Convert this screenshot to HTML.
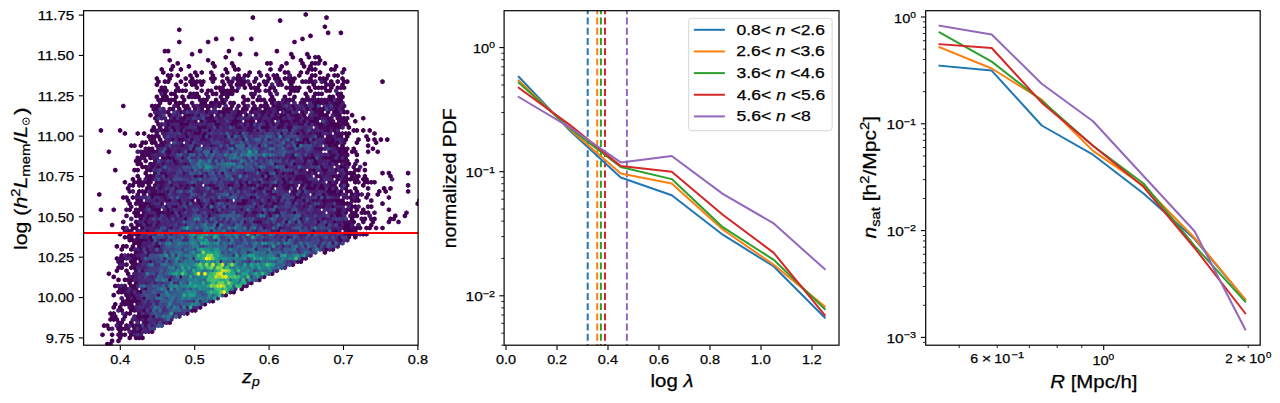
<!DOCTYPE html>
<html><head><meta charset="utf-8"><title>fig</title>
<style>html,body{margin:0;padding:0;background:#fff;width:1280px;height:403px;overflow:hidden}
svg{display:block} text{font-family:"Liberation Sans",sans-serif;fill:#000;stroke:#000;stroke-width:0.25px}</style></head>
<body><svg width="1280" height="403" viewBox="0 0 1280 403" font-family="Liberation Sans">
<rect width="1280" height="403" fill="#fff"/>
<clipPath id="c1"><rect x="83.6" y="10.7" width="334.5" height="334.5"/></clipPath>
<g clip-path="url(#c1)">
<defs>
<path id="h0" d="M0 152l1-1v-2l-1-1-1 1v2zM2 14l1-1v-2l-1-1-1 1v2zM6 20l1-1v-2l-1-1-1 1v2zM6 74l1-1v-2l-1-1-1 1v2zM6 194l1-1v-2l-1-1-1 1v2zM8 8l1-1v-2l-1-1-1 1v2zM8 14l1-1v-2l-1-1-1 1v2zM8 122l1-1v-2l-1-1-1 1v2zM10 32l1-1v-2l-1-1-1 1v2zM10 44l1-1v-2l-1-1-1 1v2zM10 62l1-1v-2l-1-1-1 1v2zM10 176l1-1v-2l-1-1-1 1v2zM12 8l1-1v-2l-1-1-1 1v2zM12 20l1-1v-2l-1-1-1 1v2zM12 56l1-1v-2l-1-1-1 1v2zM12 68l1-1v-2l-1-1-1 1v2zM12 80l1-1v-2l-1-1-1 1v2zM14 14l1-1v-2l-1-1-1 1v2zM14 20l1-1v-2l-1-1-1 1v2zM14 38l1-1v-2l-1-1-1 1v2zM14 56l1-1v-2l-1-1-1 1v2zM14 80l1-1v-2l-1-1-1 1v2zM14 86l1-1v-2l-1-1-1 1v2zM14 92l1-1v-2l-1-1-1 1v2zM14 98l1-1v-2l-1-1-1 1v2zM16 14l1-1v-2l-1-1-1 1v2zM16 32l1-1v-2l-1-1-1 1v2zM16 44l1-1v-2l-1-1-1 1v2zM16 68l1-1v-2l-1-1-1 1v2zM16 110l1-1v-2l-1-1-1 1v2zM16 164l1-1v-2l-1-1-1 1v2zM16 212l1-1v-2l-1-1-1 1v2zM18 50l1-1v-2l-1-1-1 1v2zM18 74l1-1v-2l-1-1-1 1v2zM18 110l1-1v-2l-1-1-1 1v2zM18 116l1-1v-2l-1-1-1 1v2zM18 146l1-1v-2l-1-1-1 1v2zM18 158l1-1v-2l-1-1-1 1v2zM20 14l1-1v-2l-1-1-1 1v2zM20 26l1-1v-2l-1-1-1 1v2zM20 38l1-1v-2l-1-1-1 1v2zM20 44l1-1v-2l-1-1-1 1v2zM20 62l1-1v-2l-1-1-1 1v2zM20 68l1-1v-2l-1-1-1 1v2zM20 80l1-1v-2l-1-1-1 1v2zM20 86l1-1v-2l-1-1-1 1v2zM20 92l1-1v-2l-1-1-1 1v2zM20 98l1-1v-2l-1-1-1 1v2zM20 110l1-1v-2l-1-1-1 1v2zM20 200l1-1v-2l-1-1-1 1v2zM22 50l1-1v-2l-1-1-1 1v2zM22 62l1-1v-2l-1-1-1 1v2zM22 80l1-1v-2l-1-1-1 1v2zM22 86l1-1v-2l-1-1-1 1v2zM22 104l1-1v-2l-1-1-1 1v2zM22 134l1-1v-2l-1-1-1 1v2zM22 164l1-1v-2l-1-1-1 1v2zM22 176l1-1v-2l-1-1-1 1v2zM22 200l1-1v-2l-1-1-1 1v2zM24 32l1-1v-2l-1-1-1 1v2zM24 104l1-1v-2l-1-1-1 1v2zM24 122l1-1v-2l-1-1-1 1v2zM24 134l1-1v-2l-1-1-1 1v2zM24 146l1-1v-2l-1-1-1 1v2zM24 164l1-1v-2l-1-1-1 1v2zM24 170l1-1v-2l-1-1-1 1v2zM24 176l1-1v-2l-1-1-1 1v2zM24 182l1-1v-2l-1-1-1 1v2zM24 188l1-1v-2l-1-1-1 1v2zM24 212l1-1v-2l-1-1-1 1v2zM26 20l1-1v-2l-1-1-1 1v2zM26 32l1-1v-2l-1-1-1 1v2zM26 56l1-1v-2l-1-1-1 1v2zM26 86l1-1v-2l-1-1-1 1v2zM26 104l1-1v-2l-1-1-1 1v2zM26 128l1-1v-2l-1-1-1 1v2zM26 140l1-1v-2l-1-1-1 1v2zM26 146l1-1v-2l-1-1-1 1v2zM26 164l1-1v-2l-1-1-1 1v2zM26 182l1-1v-2l-1-1-1 1v2zM26 200l1-1v-2l-1-1-1 1v2zM28 32l1-1v-2l-1-1-1 1v2zM28 38l1-1v-2l-1-1-1 1v2zM28 50l1-1v-2l-1-1-1 1v2zM28 140l1-1v-2l-1-1-1 1v2zM28 212l1-1v-2l-1-1-1 1v2zM30 32l1-1v-2l-1-1-1 1v2zM30 122l1-1v-2l-1-1-1 1v2zM30 158l1-1v-2l-1-1-1 1v2zM30 164l1-1v-2l-1-1-1 1v2zM32 110l1-1v-2l-1-1-1 1v2zM32 170l1-1v-2l-1-1-1 1v2zM32 176l1-1v-2l-1-1-1 1v2zM32 182l1-1v-2l-1-1-1 1v2zM32 188l1-1v-2l-1-1-1 1v2zM32 194l1-1v-2l-1-1-1 1v2zM32 230l1-1v-2l-1-1-1 1v2zM34 152l1-1v-2l-1-1-1 1v2zM34 194l1-1v-2l-1-1-1 1v2zM34 218l1-1v-2l-1-1-1 1v2zM34 236l1-1v-2l-1-1-1 1v2zM36 230l1-1v-2l-1-1-1 1v2zM36 236l1-1v-2l-1-1-1 1v2zM36 248l1-1v-2l-1-1-1 1v2zM36 260l1-1v-2l-1-1-1 1v2zM36 266l1-1v-2l-1-1-1 1v2zM38 134l1-1v-2l-1-1-1 1v2zM38 152l1-1v-2l-1-1-1 1v2zM38 158l1-1v-2l-1-1-1 1v2zM38 206l1-1v-2l-1-1-1 1v2zM38 254l1-1v-2l-1-1-1 1v2zM40 152l1-1v-2l-1-1-1 1v2zM40 188l1-1v-2l-1-1-1 1v2zM40 248l1-1v-2l-1-1-1 1v2zM40 254l1-1v-2l-1-1-1 1v2zM40 272l1-1v-2l-1-1-1 1v2zM42 170l1-1v-2l-1-1-1 1v2zM42 248l1-1v-2l-1-1-1 1v2zM42 254l1-1v-2l-1-1-1 1v2zM44 68l1-1v-2l-1-1-1 1v2zM44 146l1-1v-2l-1-1-1 1v2zM44 188l1-1v-2l-1-1-1 1v2zM44 194l1-1v-2l-1-1-1 1v2zM44 230l1-1v-2l-1-1-1 1v2zM44 242l1-1v-2l-1-1-1 1v2zM44 266l1-1v-2l-1-1-1 1v2zM44 284l1-1v-2l-1-1-1 1v2zM46 134l1-1v-2l-1-1-1 1v2zM46 218l1-1v-2l-1-1-1 1v2zM46 236l1-1v-2l-1-1-1 1v2zM46 278l1-1v-2l-1-1-1 1v2zM48 140l1-1v-2l-1-1-1 1v2zM48 242l1-1v-2l-1-1-1 1v2zM48 248l1-1v-2l-1-1-1 1v2zM48 254l1-1v-2l-1-1-1 1v2zM48 260l1-1v-2l-1-1-1 1v2zM50 146l1-1v-2l-1-1-1 1v2zM50 206l1-1v-2l-1-1-1 1v2zM50 242l1-1v-2l-1-1-1 1v2zM50 254l1-1v-2l-1-1-1 1v2zM50 302l1-1v-2l-1-1-1 1v2zM50 314l1-1v-2l-1-1-1 1v2zM52 242l1-1v-2l-1-1-1 1v2zM52 248l1-1v-2l-1-1-1 1v2zM52 254l1-1v-2l-1-1-1 1v2zM54 128l1-1v-2l-1-1-1 1v2zM54 236l1-1v-2l-1-1-1 1v2zM54 260l1-1v-2l-1-1-1 1v2zM56 194l1-1v-2l-1-1-1 1v2zM56 230l1-1v-2l-1-1-1 1v2zM56 248l1-1v-2l-1-1-1 1v2zM56 278l1-1v-2l-1-1-1 1v2zM58 38l1-1v-2l-1-1-1 1v2zM58 146l1-1v-2l-1-1-1 1v2zM58 260l1-1v-2l-1-1-1 1v2zM58 266l1-1v-2l-1-1-1 1v2zM58 290l1-1v-2l-1-1-1 1v2zM60 38l1-1v-2l-1-1-1 1v2zM60 170l1-1v-2l-1-1-1 1v2zM60 212l1-1v-2l-1-1-1 1v2zM60 248l1-1v-2l-1-1-1 1v2zM60 260l1-1v-2l-1-1-1 1v2zM60 272l1-1v-2l-1-1-1 1v2zM62 146l1-1v-2l-1-1-1 1v2zM62 212l1-1v-2l-1-1-1 1v2zM62 218l1-1v-2l-1-1-1 1v2zM62 248l1-1v-2l-1-1-1 1v2zM64 170l1-1v-2l-1-1-1 1v2zM64 224l1-1v-2l-1-1-1 1v2zM64 242l1-1v-2l-1-1-1 1v2zM64 260l1-1v-2l-1-1-1 1v2zM64 272l1-1v-2l-1-1-1 1v2zM66 44l1-1v-2l-1-1-1 1v2zM66 212l1-1v-2l-1-1-1 1v2zM66 218l1-1v-2l-1-1-1 1v2zM66 242l1-1v-2l-1-1-1 1v2zM68 254l1-1v-2l-1-1-1 1v2zM68 284l1-1v-2l-1-1-1 1v2zM68 302l1-1v-2l-1-1-1 1v2zM70 230l1-1v-2l-1-1-1 1v2zM70 242l1-1v-2l-1-1-1 1v2zM70 266l1-1v-2l-1-1-1 1v2zM72 224l1-1v-2l-1-1-1 1v2zM72 266l1-1v-2l-1-1-1 1v2zM72 278l1-1v-2l-1-1-1 1v2zM74 122l1-1v-2l-1-1-1 1v2zM76 254l1-1v-2l-1-1-1 1v2zM78 230l1-1v-2l-1-1-1 1v2zM78 242l1-1v-2l-1-1-1 1v2zM78 254l1-1v-2l-1-1-1 1v2zM78 260l1-1v-2l-1-1-1 1v2zM80 146l1-1v-2l-1-1-1 1v2zM80 236l1-1v-2l-1-1-1 1v2zM80 248l1-1v-2l-1-1-1 1v2zM80 254l1-1v-2l-1-1-1 1v2zM80 266l1-1v-2l-1-1-1 1v2zM80 272l1-1v-2l-1-1-1 1v2zM82 236l1-1v-2l-1-1-1 1v2zM82 254l1-1v-2l-1-1-1 1v2zM84 56l1-1v-2l-1-1-1 1v2zM84 224l1-1v-2l-1-1-1 1v2zM84 242l1-1v-2l-1-1-1 1v2zM84 254l1-1v-2l-1-1-1 1v2zM84 278l1-1v-2l-1-1-1 1v2zM86 224l1-1v-2l-1-1-1 1v2zM86 230l1-1v-2l-1-1-1 1v2zM86 254l1-1v-2l-1-1-1 1v2zM86 260l1-1v-2l-1-1-1 1v2zM86 266l1-1v-2l-1-1-1 1v2zM88 218l1-1v-2l-1-1-1 1v2zM88 260l1-1v-2l-1-1-1 1v2zM88 266l1-1v-2l-1-1-1 1v2zM88 290l1-1v-2l-1-1-1 1v2zM90 146l1-1v-2l-1-1-1 1v2zM90 236l1-1v-2l-1-1-1 1v2zM90 248l1-1v-2l-1-1-1 1v2zM90 260l1-1v-2l-1-1-1 1v2zM92 230l1-1v-2l-1-1-1 1v2zM94 224l1-1v-2l-1-1-1 1v2zM94 260l1-1v-2l-1-1-1 1v2zM94 272l1-1v-2l-1-1-1 1v2zM96 224l1-1v-2l-1-1-1 1v2zM96 236l1-1v-2l-1-1-1 1v2zM96 242l1-1v-2l-1-1-1 1v2zM96 248l1-1v-2l-1-1-1 1v2zM96 326l1-1v-2l-1-1-1 1v2zM98 236l1-1v-2l-1-1-1 1v2zM98 254l1-1v-2l-1-1-1 1v2zM98 290l1-1v-2l-1-1-1 1v2zM100 68l1-1v-2l-1-1-1 1v2zM100 158l1-1v-2l-1-1-1 1v2zM100 176l1-1v-2l-1-1-1 1v2zM100 260l1-1v-2l-1-1-1 1v2zM100 272l1-1v-2l-1-1-1 1v2zM102 170l1-1v-2l-1-1-1 1v2zM102 218l1-1v-2l-1-1-1 1v2zM104 218l1-1v-2l-1-1-1 1v2zM104 236l1-1v-2l-1-1-1 1v2zM104 242l1-1v-2l-1-1-1 1v2zM104 260l1-1v-2l-1-1-1 1v2zM106 146l1-1v-2l-1-1-1 1v2zM106 170l1-1v-2l-1-1-1 1v2zM106 254l1-1v-2l-1-1-1 1v2zM106 266l1-1v-2l-1-1-1 1v2zM108 74l1-1v-2l-1-1-1 1v2zM108 242l1-1v-2l-1-1-1 1v2zM108 248l1-1v-2l-1-1-1 1v2zM112 218l1-1v-2l-1-1-1 1v2zM112 236l1-1v-2l-1-1-1 1v2zM112 266l1-1v-2l-1-1-1 1v2zM114 224l1-1v-2l-1-1-1 1v2zM114 230l1-1v-2l-1-1-1 1v2zM114 278l1-1v-2l-1-1-1 1v2zM116 164l1-1v-2l-1-1-1 1v2zM116 248l1-1v-2l-1-1-1 1v2zM116 266l1-1v-2l-1-1-1 1v2zM116 272l1-1v-2l-1-1-1 1v2zM118 158l1-1v-2l-1-1-1 1v2zM118 218l1-1v-2l-1-1-1 1v2zM118 224l1-1v-2l-1-1-1 1v2zM118 272l1-1v-2l-1-1-1 1v2zM120 254l1-1v-2l-1-1-1 1v2zM120 260l1-1v-2l-1-1-1 1v2zM120 266l1-1v-2l-1-1-1 1v2zM120 290l1-1v-2l-1-1-1 1v2zM122 134l1-1v-2l-1-1-1 1v2zM122 182l1-1v-2l-1-1-1 1v2zM122 224l1-1v-2l-1-1-1 1v2zM122 236l1-1v-2l-1-1-1 1v2zM122 248l1-1v-2l-1-1-1 1v2zM122 254l1-1v-2l-1-1-1 1v2zM122 266l1-1v-2l-1-1-1 1v2zM122 302l1-1v-2l-1-1-1 1v2zM124 200l1-1v-2l-1-1-1 1v2zM124 212l1-1v-2l-1-1-1 1v2zM124 230l1-1v-2l-1-1-1 1v2zM124 254l1-1v-2l-1-1-1 1v2zM126 86l1-1v-2l-1-1-1 1v2zM126 128l1-1v-2l-1-1-1 1v2zM126 272l1-1v-2l-1-1-1 1v2zM126 284l1-1v-2l-1-1-1 1v2zM128 146l1-1v-2l-1-1-1 1v2zM128 206l1-1v-2l-1-1-1 1v2zM128 224l1-1v-2l-1-1-1 1v2zM128 230l1-1v-2l-1-1-1 1v2zM128 278l1-1v-2l-1-1-1 1v2zM130 158l1-1v-2l-1-1-1 1v2zM130 164l1-1v-2l-1-1-1 1v2zM130 206l1-1v-2l-1-1-1 1v2zM130 236l1-1v-2l-1-1-1 1v2zM130 272l1-1v-2l-1-1-1 1v2zM130 290l1-1v-2l-1-1-1 1v2zM132 158l1-1v-2l-1-1-1 1v2zM132 224l1-1v-2l-1-1-1 1v2zM132 254l1-1v-2l-1-1-1 1v2zM132 266l1-1v-2l-1-1-1 1v2zM132 278l1-1v-2l-1-1-1 1v2zM132 308l1-1v-2l-1-1-1 1v2zM134 158l1-1v-2l-1-1-1 1v2zM134 176l1-1v-2l-1-1-1 1v2zM134 188l1-1v-2l-1-1-1 1v2zM134 224l1-1v-2l-1-1-1 1v2zM134 236l1-1v-2l-1-1-1 1v2zM134 260l1-1v-2l-1-1-1 1v2zM136 140l1-1v-2l-1-1-1 1v2zM136 182l1-1v-2l-1-1-1 1v2zM136 242l1-1v-2l-1-1-1 1v2zM138 158l1-1v-2l-1-1-1 1v2zM138 212l1-1v-2l-1-1-1 1v2zM138 218l1-1v-2l-1-1-1 1v2zM138 230l1-1v-2l-1-1-1 1v2zM138 236l1-1v-2l-1-1-1 1v2zM138 242l1-1v-2l-1-1-1 1v2zM138 266l1-1v-2l-1-1-1 1v2zM138 272l1-1v-2l-1-1-1 1v2zM138 284l1-1v-2l-1-1-1 1v2zM140 146l1-1v-2l-1-1-1 1v2zM140 152l1-1v-2l-1-1-1 1v2zM140 158l1-1v-2l-1-1-1 1v2zM140 176l1-1v-2l-1-1-1 1v2zM140 230l1-1v-2l-1-1-1 1v2zM140 236l1-1v-2l-1-1-1 1v2zM140 266l1-1v-2l-1-1-1 1v2zM142 98l1-1v-2l-1-1-1 1v2zM142 188l1-1v-2l-1-1-1 1v2zM142 230l1-1v-2l-1-1-1 1v2zM142 242l1-1v-2l-1-1-1 1v2zM142 254l1-1v-2l-1-1-1 1v2zM142 266l1-1v-2l-1-1-1 1v2zM142 326l1-1v-2l-1-1-1 1v2zM144 158l1-1v-2l-1-1-1 1v2zM144 164l1-1v-2l-1-1-1 1v2zM144 188l1-1v-2l-1-1-1 1v2zM144 200l1-1v-2l-1-1-1 1v2zM144 248l1-1v-2l-1-1-1 1v2zM144 254l1-1v-2l-1-1-1 1v2zM146 98l1-1v-2l-1-1-1 1v2zM146 140l1-1v-2l-1-1-1 1v2zM146 170l1-1v-2l-1-1-1 1v2zM146 206l1-1v-2l-1-1-1 1v2zM146 248l1-1v-2l-1-1-1 1v2zM146 260l1-1v-2l-1-1-1 1v2zM148 116l1-1v-2l-1-1-1 1v2zM148 146l1-1v-2l-1-1-1 1v2zM148 200l1-1v-2l-1-1-1 1v2zM148 218l1-1v-2l-1-1-1 1v2zM148 236l1-1v-2l-1-1-1 1v2zM148 242l1-1v-2l-1-1-1 1v2zM148 278l1-1v-2l-1-1-1 1v2zM150 134l1-1v-2l-1-1-1 1v2zM150 146l1-1v-2l-1-1-1 1v2zM150 152l1-1v-2l-1-1-1 1v2zM150 170l1-1v-2l-1-1-1 1v2zM150 194l1-1v-2l-1-1-1 1v2zM150 218l1-1v-2l-1-1-1 1v2zM150 230l1-1v-2l-1-1-1 1v2zM150 242l1-1v-2l-1-1-1 1v2zM152 146l1-1v-2l-1-1-1 1v2zM152 164l1-1v-2l-1-1-1 1v2zM152 200l1-1v-2l-1-1-1 1v2zM152 248l1-1v-2l-1-1-1 1v2zM152 260l1-1v-2l-1-1-1 1v2zM152 266l1-1v-2l-1-1-1 1v2zM154 122l1-1v-2l-1-1-1 1v2zM154 158l1-1v-2l-1-1-1 1v2zM154 164l1-1v-2l-1-1-1 1v2zM154 176l1-1v-2l-1-1-1 1v2zM154 194l1-1v-2l-1-1-1 1v2zM154 206l1-1v-2l-1-1-1 1v2zM154 212l1-1v-2l-1-1-1 1v2zM154 224l1-1v-2l-1-1-1 1v2zM156 116l1-1v-2l-1-1-1 1v2zM156 122l1-1v-2l-1-1-1 1v2zM156 182l1-1v-2l-1-1-1 1v2zM156 212l1-1v-2l-1-1-1 1v2zM156 218l1-1v-2l-1-1-1 1v2zM158 116l1-1v-2l-1-1-1 1v2zM158 128l1-1v-2l-1-1-1 1v2zM158 140l1-1v-2l-1-1-1 1v2zM158 152l1-1v-2l-1-1-1 1v2zM158 170l1-1v-2l-1-1-1 1v2zM158 194l1-1v-2l-1-1-1 1v2zM158 230l1-1v-2l-1-1-1 1v2zM160 110l1-1v-2l-1-1-1 1v2zM160 116l1-1v-2l-1-1-1 1v2zM160 134l1-1v-2l-1-1-1 1v2zM160 140l1-1v-2l-1-1-1 1v2zM160 146l1-1v-2l-1-1-1 1v2zM160 158l1-1v-2l-1-1-1 1v2zM160 164l1-1v-2l-1-1-1 1v2zM160 224l1-1v-2l-1-1-1 1v2zM162 146l1-1v-2l-1-1-1 1v2zM162 170l1-1v-2l-1-1-1 1v2zM162 176l1-1v-2l-1-1-1 1v2zM162 206l1-1v-2l-1-1-1 1v2zM166 128l1-1v-2l-1-1-1 1v2zM166 134l1-1v-2l-1-1-1 1v2zM166 164l1-1v-2l-1-1-1 1v2zM166 170l1-1v-2l-1-1-1 1v2zM166 176l1-1v-2l-1-1-1 1v2zM166 182l1-1v-2l-1-1-1 1v2zM168 134l1-1v-2l-1-1-1 1v2zM168 164l1-1v-2l-1-1-1 1v2zM168 194l1-1v-2l-1-1-1 1v2zM168 200l1-1v-2l-1-1-1 1v2zM168 206l1-1v-2l-1-1-1 1v2zM170 122l1-1v-2l-1-1-1 1v2zM170 140l1-1v-2l-1-1-1 1v2zM170 164l1-1v-2l-1-1-1 1v2zM172 128l1-1v-2l-1-1-1 1v2zM172 164l1-1v-2l-1-1-1 1v2zM172 206l1-1v-2l-1-1-1 1v2zM172 212l1-1v-2l-1-1-1 1v2zM174 152l1-1v-2l-1-1-1 1v2zM174 194l1-1v-2l-1-1-1 1v2zM176 206l1-1v-2l-1-1-1 1v2zM178 158l1-1v-2l-1-1-1 1v2zM180 206l1-1v-2l-1-1-1 1v2zM182 128l1-1v-2l-1-1-1 1v2zM182 158l1-1v-2l-1-1-1 1v2zM182 170l1-1v-2l-1-1-1 1v2zM184 128l1-1v-2l-1-1-1 1v2zM192 134l1-1v-2l-1-1-1 1v2zM200 146l1-1v-2l-1-1-1 1v2zM1 137l1-1v-2l-1-1-1 1v2zM1 215l1-1v-2l-1-1-1 1v2zM3 23l1-1v-2l-1-1-1 1v2zM5 5l1-1v-2l-1-1-1 1v2zM5 23l1-1v-2l-1-1-1 1v2zM7 5l1-1v-2l-1-1-1 1v2zM7 29l1-1v-2l-1-1-1 1v2zM7 35l1-1v-2l-1-1-1 1v2zM9 29l1-1v-2l-1-1-1 1v2zM9 35l1-1v-2l-1-1-1 1v2zM9 41l1-1v-2l-1-1-1 1v2zM9 53l1-1v-2l-1-1-1 1v2zM9 71l1-1v-2l-1-1-1 1v2zM9 137l1-1v-2l-1-1-1 1v2zM11 29l1-1v-2l-1-1-1 1v2zM11 77l1-1v-2l-1-1-1 1v2zM11 89l1-1v-2l-1-1-1 1v2zM11 101l1-1v-2l-1-1-1 1v2zM13 11l1-1v-2l-1-1-1 1v2zM13 17l1-1v-2l-1-1-1 1v2zM13 23l1-1v-2l-1-1-1 1v2zM13 41l1-1v-2l-1-1-1 1v2zM13 113l1-1v-2l-1-1-1 1v2zM13 215l1-1v-2l-1-1-1 1v2zM15 47l1-1v-2l-1-1-1 1v2zM15 59l1-1v-2l-1-1-1 1v2zM15 101l1-1v-2l-1-1-1 1v2zM15 119l1-1v-2l-1-1-1 1v2zM15 149l1-1v-2l-1-1-1 1v2zM15 239l1-1v-2l-1-1-1 1v2zM17 23l1-1v-2l-1-1-1 1v2zM17 35l1-1v-2l-1-1-1 1v2zM17 47l1-1v-2l-1-1-1 1v2zM17 53l1-1v-2l-1-1-1 1v2zM17 77l1-1v-2l-1-1-1 1v2zM17 101l1-1v-2l-1-1-1 1v2zM17 149l1-1v-2l-1-1-1 1v2zM19 11l1-1v-2l-1-1-1 1v2zM19 35l1-1v-2l-1-1-1 1v2zM19 47l1-1v-2l-1-1-1 1v2zM19 65l1-1v-2l-1-1-1 1v2zM19 107l1-1v-2l-1-1-1 1v2zM19 113l1-1v-2l-1-1-1 1v2zM19 137l1-1v-2l-1-1-1 1v2zM19 143l1-1v-2l-1-1-1 1v2zM19 155l1-1v-2l-1-1-1 1v2zM21 23l1-1v-2l-1-1-1 1v2zM21 41l1-1v-2l-1-1-1 1v2zM21 47l1-1v-2l-1-1-1 1v2zM21 53l1-1v-2l-1-1-1 1v2zM21 89l1-1v-2l-1-1-1 1v2zM21 101l1-1v-2l-1-1-1 1v2zM21 107l1-1v-2l-1-1-1 1v2zM21 119l1-1v-2l-1-1-1 1v2zM21 149l1-1v-2l-1-1-1 1v2zM21 161l1-1v-2l-1-1-1 1v2zM21 167l1-1v-2l-1-1-1 1v2zM23 11l1-1v-2l-1-1-1 1v2zM23 47l1-1v-2l-1-1-1 1v2zM23 65l1-1v-2l-1-1-1 1v2zM23 89l1-1v-2l-1-1-1 1v2zM23 95l1-1v-2l-1-1-1 1v2zM23 119l1-1v-2l-1-1-1 1v2zM23 131l1-1v-2l-1-1-1 1v2zM23 185l1-1v-2l-1-1-1 1v2zM25 11l1-1v-2l-1-1-1 1v2zM25 17l1-1v-2l-1-1-1 1v2zM25 101l1-1v-2l-1-1-1 1v2zM25 107l1-1v-2l-1-1-1 1v2zM25 113l1-1v-2l-1-1-1 1v2zM25 155l1-1v-2l-1-1-1 1v2zM25 185l1-1v-2l-1-1-1 1v2zM27 11l1-1v-2l-1-1-1 1v2zM27 107l1-1v-2l-1-1-1 1v2zM27 119l1-1v-2l-1-1-1 1v2zM27 131l1-1v-2l-1-1-1 1v2zM27 161l1-1v-2l-1-1-1 1v2zM27 179l1-1v-2l-1-1-1 1v2zM27 191l1-1v-2l-1-1-1 1v2zM27 203l1-1v-2l-1-1-1 1v2zM29 125l1-1v-2l-1-1-1 1v2zM29 143l1-1v-2l-1-1-1 1v2zM29 155l1-1v-2l-1-1-1 1v2zM29 173l1-1v-2l-1-1-1 1v2zM29 179l1-1v-2l-1-1-1 1v2zM29 203l1-1v-2l-1-1-1 1v2zM31 131l1-1v-2l-1-1-1 1v2zM31 167l1-1v-2l-1-1-1 1v2zM31 191l1-1v-2l-1-1-1 1v2zM31 197l1-1v-2l-1-1-1 1v2zM31 209l1-1v-2l-1-1-1 1v2zM33 17l1-1v-2l-1-1-1 1v2zM33 107l1-1v-2l-1-1-1 1v2zM33 149l1-1v-2l-1-1-1 1v2zM33 179l1-1v-2l-1-1-1 1v2zM33 203l1-1v-2l-1-1-1 1v2zM33 209l1-1v-2l-1-1-1 1v2zM33 215l1-1v-2l-1-1-1 1v2zM33 239l1-1v-2l-1-1-1 1v2zM35 137l1-1v-2l-1-1-1 1v2zM35 203l1-1v-2l-1-1-1 1v2zM35 209l1-1v-2l-1-1-1 1v2zM35 215l1-1v-2l-1-1-1 1v2zM35 239l1-1v-2l-1-1-1 1v2zM37 101l1-1v-2l-1-1-1 1v2zM37 137l1-1v-2l-1-1-1 1v2zM37 179l1-1v-2l-1-1-1 1v2zM37 209l1-1v-2l-1-1-1 1v2zM37 239l1-1v-2l-1-1-1 1v2zM37 263l1-1v-2l-1-1-1 1v2zM39 203l1-1v-2l-1-1-1 1v2zM39 245l1-1v-2l-1-1-1 1v2zM39 257l1-1v-2l-1-1-1 1v2zM39 275l1-1v-2l-1-1-1 1v2zM41 215l1-1v-2l-1-1-1 1v2zM41 245l1-1v-2l-1-1-1 1v2zM41 251l1-1v-2l-1-1-1 1v2zM41 263l1-1v-2l-1-1-1 1v2zM41 293l1-1v-2l-1-1-1 1v2zM43 131l1-1v-2l-1-1-1 1v2zM43 137l1-1v-2l-1-1-1 1v2zM43 221l1-1v-2l-1-1-1 1v2zM43 245l1-1v-2l-1-1-1 1v2zM43 263l1-1v-2l-1-1-1 1v2zM43 269l1-1v-2l-1-1-1 1v2zM43 293l1-1v-2l-1-1-1 1v2zM45 245l1-1v-2l-1-1-1 1v2zM45 251l1-1v-2l-1-1-1 1v2zM45 275l1-1v-2l-1-1-1 1v2zM47 185l1-1v-2l-1-1-1 1v2zM47 215l1-1v-2l-1-1-1 1v2zM47 245l1-1v-2l-1-1-1 1v2zM47 251l1-1v-2l-1-1-1 1v2zM49 269l1-1v-2l-1-1-1 1v2zM49 281l1-1v-2l-1-1-1 1v2zM51 215l1-1v-2l-1-1-1 1v2zM51 221l1-1v-2l-1-1-1 1v2zM51 263l1-1v-2l-1-1-1 1v2zM51 275l1-1v-2l-1-1-1 1v2zM53 221l1-1v-2l-1-1-1 1v2zM53 227l1-1v-2l-1-1-1 1v2zM53 239l1-1v-2l-1-1-1 1v2zM53 245l1-1v-2l-1-1-1 1v2zM55 35l1-1v-2l-1-1-1 1v2zM55 209l1-1v-2l-1-1-1 1v2zM55 221l1-1v-2l-1-1-1 1v2zM55 239l1-1v-2l-1-1-1 1v2zM57 251l1-1v-2l-1-1-1 1v2zM57 263l1-1v-2l-1-1-1 1v2zM57 269l1-1v-2l-1-1-1 1v2zM59 161l1-1v-2l-1-1-1 1v2zM59 263l1-1v-2l-1-1-1 1v2zM61 251l1-1v-2l-1-1-1 1v2zM61 263l1-1v-2l-1-1-1 1v2zM61 269l1-1v-2l-1-1-1 1v2zM63 41l1-1v-2l-1-1-1 1v2zM63 143l1-1v-2l-1-1-1 1v2zM63 215l1-1v-2l-1-1-1 1v2zM63 263l1-1v-2l-1-1-1 1v2zM63 293l1-1v-2l-1-1-1 1v2zM65 209l1-1v-2l-1-1-1 1v2zM65 245l1-1v-2l-1-1-1 1v2zM65 263l1-1v-2l-1-1-1 1v2zM67 233l1-1v-2l-1-1-1 1v2zM67 245l1-1v-2l-1-1-1 1v2zM69 131l1-1v-2l-1-1-1 1v2zM69 209l1-1v-2l-1-1-1 1v2zM69 215l1-1v-2l-1-1-1 1v2zM69 227l1-1v-2l-1-1-1 1v2zM71 47l1-1v-2l-1-1-1 1v2zM71 143l1-1v-2l-1-1-1 1v2zM71 251l1-1v-2l-1-1-1 1v2zM71 269l1-1v-2l-1-1-1 1v2zM71 281l1-1v-2l-1-1-1 1v2zM73 221l1-1v-2l-1-1-1 1v2zM73 245l1-1v-2l-1-1-1 1v2zM73 251l1-1v-2l-1-1-1 1v2zM73 257l1-1v-2l-1-1-1 1v2zM73 305l1-1v-2l-1-1-1 1v2zM75 233l1-1v-2l-1-1-1 1v2zM75 239l1-1v-2l-1-1-1 1v2zM75 257l1-1v-2l-1-1-1 1v2zM77 233l1-1v-2l-1-1-1 1v2zM77 245l1-1v-2l-1-1-1 1v2zM77 251l1-1v-2l-1-1-1 1v2zM77 263l1-1v-2l-1-1-1 1v2zM77 269l1-1v-2l-1-1-1 1v2zM79 53l1-1v-2l-1-1-1 1v2zM79 275l1-1v-2l-1-1-1 1v2zM79 287l1-1v-2l-1-1-1 1v2zM81 161l1-1v-2l-1-1-1 1v2zM81 251l1-1v-2l-1-1-1 1v2zM81 263l1-1v-2l-1-1-1 1v2zM81 293l1-1v-2l-1-1-1 1v2zM83 221l1-1v-2l-1-1-1 1v2zM83 251l1-1v-2l-1-1-1 1v2zM83 257l1-1v-2l-1-1-1 1v2zM83 281l1-1v-2l-1-1-1 1v2zM83 305l1-1v-2l-1-1-1 1v2zM85 275l1-1v-2l-1-1-1 1v2zM87 143l1-1v-2l-1-1-1 1v2zM87 233l1-1v-2l-1-1-1 1v2zM87 269l1-1v-2l-1-1-1 1v2zM87 275l1-1v-2l-1-1-1 1v2zM89 59l1-1v-2l-1-1-1 1v2zM89 143l1-1v-2l-1-1-1 1v2zM89 161l1-1v-2l-1-1-1 1v2zM89 263l1-1v-2l-1-1-1 1v2zM91 143l1-1v-2l-1-1-1 1v2zM91 239l1-1v-2l-1-1-1 1v2zM91 245l1-1v-2l-1-1-1 1v2zM91 257l1-1v-2l-1-1-1 1v2zM91 263l1-1v-2l-1-1-1 1v2zM91 269l1-1v-2l-1-1-1 1v2zM93 245l1-1v-2l-1-1-1 1v2zM93 269l1-1v-2l-1-1-1 1v2zM95 65l1-1v-2l-1-1-1 1v2zM95 149l1-1v-2l-1-1-1 1v2zM95 161l1-1v-2l-1-1-1 1v2zM95 221l1-1v-2l-1-1-1 1v2zM95 257l1-1v-2l-1-1-1 1v2zM95 305l1-1v-2l-1-1-1 1v2zM97 257l1-1v-2l-1-1-1 1v2zM97 263l1-1v-2l-1-1-1 1v2zM99 125l1-1v-2l-1-1-1 1v2zM99 245l1-1v-2l-1-1-1 1v2zM99 257l1-1v-2l-1-1-1 1v2zM101 239l1-1v-2l-1-1-1 1v2zM101 245l1-1v-2l-1-1-1 1v2zM103 233l1-1v-2l-1-1-1 1v2zM105 167l1-1v-2l-1-1-1 1v2zM105 173l1-1v-2l-1-1-1 1v2zM105 221l1-1v-2l-1-1-1 1v2zM105 281l1-1v-2l-1-1-1 1v2zM107 245l1-1v-2l-1-1-1 1v2zM107 257l1-1v-2l-1-1-1 1v2zM107 275l1-1v-2l-1-1-1 1v2zM107 281l1-1v-2l-1-1-1 1v2zM109 143l1-1v-2l-1-1-1 1v2zM109 239l1-1v-2l-1-1-1 1v2zM109 245l1-1v-2l-1-1-1 1v2zM109 269l1-1v-2l-1-1-1 1v2zM111 269l1-1v-2l-1-1-1 1v2zM111 293l1-1v-2l-1-1-1 1v2zM113 227l1-1v-2l-1-1-1 1v2zM113 263l1-1v-2l-1-1-1 1v2zM113 275l1-1v-2l-1-1-1 1v2zM113 323l1-1v-2l-1-1-1 1v2zM115 167l1-1v-2l-1-1-1 1v2zM115 173l1-1v-2l-1-1-1 1v2zM117 179l1-1v-2l-1-1-1 1v2zM117 245l1-1v-2l-1-1-1 1v2zM117 257l1-1v-2l-1-1-1 1v2zM117 281l1-1v-2l-1-1-1 1v2zM119 161l1-1v-2l-1-1-1 1v2zM119 215l1-1v-2l-1-1-1 1v2zM119 233l1-1v-2l-1-1-1 1v2zM119 245l1-1v-2l-1-1-1 1v2zM119 251l1-1v-2l-1-1-1 1v2zM119 263l1-1v-2l-1-1-1 1v2zM121 173l1-1v-2l-1-1-1 1v2zM121 239l1-1v-2l-1-1-1 1v2zM121 257l1-1v-2l-1-1-1 1v2zM121 263l1-1v-2l-1-1-1 1v2zM121 287l1-1v-2l-1-1-1 1v2zM123 149l1-1v-2l-1-1-1 1v2zM123 167l1-1v-2l-1-1-1 1v2zM123 257l1-1v-2l-1-1-1 1v2zM125 203l1-1v-2l-1-1-1 1v2zM125 257l1-1v-2l-1-1-1 1v2zM125 269l1-1v-2l-1-1-1 1v2zM127 161l1-1v-2l-1-1-1 1v2zM127 167l1-1v-2l-1-1-1 1v2zM127 233l1-1v-2l-1-1-1 1v2zM127 263l1-1v-2l-1-1-1 1v2zM127 281l1-1v-2l-1-1-1 1v2zM127 305l1-1v-2l-1-1-1 1v2zM129 251l1-1v-2l-1-1-1 1v2zM129 329l1-1v-2l-1-1-1 1v2zM131 161l1-1v-2l-1-1-1 1v2zM131 203l1-1v-2l-1-1-1 1v2zM131 245l1-1v-2l-1-1-1 1v2zM131 257l1-1v-2l-1-1-1 1v2zM131 275l1-1v-2l-1-1-1 1v2zM131 287l1-1v-2l-1-1-1 1v2zM133 263l1-1v-2l-1-1-1 1v2zM133 269l1-1v-2l-1-1-1 1v2zM133 275l1-1v-2l-1-1-1 1v2zM133 281l1-1v-2l-1-1-1 1v2zM135 161l1-1v-2l-1-1-1 1v2zM135 185l1-1v-2l-1-1-1 1v2zM135 227l1-1v-2l-1-1-1 1v2zM135 239l1-1v-2l-1-1-1 1v2zM135 251l1-1v-2l-1-1-1 1v2zM135 257l1-1v-2l-1-1-1 1v2zM135 269l1-1v-2l-1-1-1 1v2zM135 275l1-1v-2l-1-1-1 1v2zM135 281l1-1v-2l-1-1-1 1v2zM137 125l1-1v-2l-1-1-1 1v2zM137 221l1-1v-2l-1-1-1 1v2zM137 245l1-1v-2l-1-1-1 1v2zM137 257l1-1v-2l-1-1-1 1v2zM137 287l1-1v-2l-1-1-1 1v2zM139 161l1-1v-2l-1-1-1 1v2zM139 221l1-1v-2l-1-1-1 1v2zM139 233l1-1v-2l-1-1-1 1v2zM139 251l1-1v-2l-1-1-1 1v2zM139 257l1-1v-2l-1-1-1 1v2zM141 95l1-1v-2l-1-1-1 1v2zM141 257l1-1v-2l-1-1-1 1v2zM141 263l1-1v-2l-1-1-1 1v2zM141 281l1-1v-2l-1-1-1 1v2zM141 317l1-1v-2l-1-1-1 1v2zM143 155l1-1v-2l-1-1-1 1v2zM143 203l1-1v-2l-1-1-1 1v2zM143 215l1-1v-2l-1-1-1 1v2zM143 311l1-1v-2l-1-1-1 1v2zM145 155l1-1v-2l-1-1-1 1v2zM145 203l1-1v-2l-1-1-1 1v2zM145 221l1-1v-2l-1-1-1 1v2zM145 245l1-1v-2l-1-1-1 1v2zM145 257l1-1v-2l-1-1-1 1v2zM145 263l1-1v-2l-1-1-1 1v2zM145 275l1-1v-2l-1-1-1 1v2zM147 125l1-1v-2l-1-1-1 1v2zM147 155l1-1v-2l-1-1-1 1v2zM147 185l1-1v-2l-1-1-1 1v2zM147 221l1-1v-2l-1-1-1 1v2zM147 233l1-1v-2l-1-1-1 1v2zM147 269l1-1v-2l-1-1-1 1v2zM147 275l1-1v-2l-1-1-1 1v2zM149 131l1-1v-2l-1-1-1 1v2zM149 137l1-1v-2l-1-1-1 1v2zM149 167l1-1v-2l-1-1-1 1v2zM149 185l1-1v-2l-1-1-1 1v2zM149 203l1-1v-2l-1-1-1 1v2zM149 221l1-1v-2l-1-1-1 1v2zM149 233l1-1v-2l-1-1-1 1v2zM149 251l1-1v-2l-1-1-1 1v2zM149 257l1-1v-2l-1-1-1 1v2zM149 269l1-1v-2l-1-1-1 1v2zM151 107l1-1v-2l-1-1-1 1v2zM151 155l1-1v-2l-1-1-1 1v2zM151 179l1-1v-2l-1-1-1 1v2zM151 185l1-1v-2l-1-1-1 1v2zM151 191l1-1v-2l-1-1-1 1v2zM151 197l1-1v-2l-1-1-1 1v2zM151 209l1-1v-2l-1-1-1 1v2zM151 245l1-1v-2l-1-1-1 1v2zM151 251l1-1v-2l-1-1-1 1v2zM151 257l1-1v-2l-1-1-1 1v2zM151 311l1-1v-2l-1-1-1 1v2zM153 119l1-1v-2l-1-1-1 1v2zM153 143l1-1v-2l-1-1-1 1v2zM153 179l1-1v-2l-1-1-1 1v2zM153 197l1-1v-2l-1-1-1 1v2zM153 227l1-1v-2l-1-1-1 1v2zM153 233l1-1v-2l-1-1-1 1v2zM153 257l1-1v-2l-1-1-1 1v2zM153 263l1-1v-2l-1-1-1 1v2zM153 275l1-1v-2l-1-1-1 1v2zM155 119l1-1v-2l-1-1-1 1v2zM155 143l1-1v-2l-1-1-1 1v2zM155 155l1-1v-2l-1-1-1 1v2zM155 161l1-1v-2l-1-1-1 1v2zM155 167l1-1v-2l-1-1-1 1v2zM155 173l1-1v-2l-1-1-1 1v2zM155 185l1-1v-2l-1-1-1 1v2zM155 209l1-1v-2l-1-1-1 1v2zM155 221l1-1v-2l-1-1-1 1v2zM155 233l1-1v-2l-1-1-1 1v2zM155 263l1-1v-2l-1-1-1 1v2zM157 137l1-1v-2l-1-1-1 1v2zM157 149l1-1v-2l-1-1-1 1v2zM157 167l1-1v-2l-1-1-1 1v2zM157 173l1-1v-2l-1-1-1 1v2zM159 125l1-1v-2l-1-1-1 1v2zM159 131l1-1v-2l-1-1-1 1v2zM159 173l1-1v-2l-1-1-1 1v2zM159 197l1-1v-2l-1-1-1 1v2zM159 215l1-1v-2l-1-1-1 1v2zM161 119l1-1v-2l-1-1-1 1v2zM161 131l1-1v-2l-1-1-1 1v2zM161 137l1-1v-2l-1-1-1 1v2zM161 155l1-1v-2l-1-1-1 1v2zM161 167l1-1v-2l-1-1-1 1v2zM161 191l1-1v-2l-1-1-1 1v2zM161 203l1-1v-2l-1-1-1 1v2zM161 215l1-1v-2l-1-1-1 1v2zM163 119l1-1v-2l-1-1-1 1v2zM165 113l1-1v-2l-1-1-1 1v2zM165 137l1-1v-2l-1-1-1 1v2zM165 161l1-1v-2l-1-1-1 1v2zM165 167l1-1v-2l-1-1-1 1v2zM165 215l1-1v-2l-1-1-1 1v2zM165 227l1-1v-2l-1-1-1 1v2zM167 119l1-1v-2l-1-1-1 1v2zM167 149l1-1v-2l-1-1-1 1v2zM167 167l1-1v-2l-1-1-1 1v2zM167 209l1-1v-2l-1-1-1 1v2zM169 119l1-1v-2l-1-1-1 1v2zM169 215l1-1v-2l-1-1-1 1v2zM171 125l1-1v-2l-1-1-1 1v2zM171 197l1-1v-2l-1-1-1 1v2zM173 203l1-1v-2l-1-1-1 1v2zM175 155l1-1v-2l-1-1-1 1v2zM177 119l1-1v-2l-1-1-1 1v2zM177 143l1-1v-2l-1-1-1 1v2zM177 173l1-1v-2l-1-1-1 1v2zM177 263l1-1v-2l-1-1-1 1v2zM179 155l1-1v-2l-1-1-1 1v2zM181 125l1-1v-2l-1-1-1 1v2zM181 137l1-1v-2l-1-1-1 1v2zM181 173l1-1v-2l-1-1-1 1v2zM185 131l1-1v-2l-1-1-1 1v2zM191 131l1-1v-2l-1-1-1 1v2zM193 155l1-1v-2l-1-1-1 1v2zM193 161l1-1v-2l-1-1-1 1v2zM193 173l1-1v-2l-1-1-1 1v2zM199 143l1-1v-2l-1-1-1 1v2z"/>
<path id="h1" d="M8 32l1-1v-2l-1-1-1 1v2zM12 14l1-1v-2l-1-1-1 1v2zM12 26l1-1v-2l-1-1-1 1v2zM12 86l1-1v-2l-1-1-1 1v2zM14 26l1-1v-2l-1-1-1 1v2zM14 44l1-1v-2l-1-1-1 1v2zM16 20l1-1v-2l-1-1-1 1v2zM16 56l1-1v-2l-1-1-1 1v2zM16 62l1-1v-2l-1-1-1 1v2zM16 116l1-1v-2l-1-1-1 1v2zM18 20l1-1v-2l-1-1-1 1v2zM18 44l1-1v-2l-1-1-1 1v2zM18 68l1-1v-2l-1-1-1 1v2zM18 92l1-1v-2l-1-1-1 1v2zM20 56l1-1v-2l-1-1-1 1v2zM20 116l1-1v-2l-1-1-1 1v2zM20 122l1-1v-2l-1-1-1 1v2zM20 140l1-1v-2l-1-1-1 1v2zM22 20l1-1v-2l-1-1-1 1v2zM22 38l1-1v-2l-1-1-1 1v2zM22 92l1-1v-2l-1-1-1 1v2zM24 44l1-1v-2l-1-1-1 1v2zM24 56l1-1v-2l-1-1-1 1v2zM24 110l1-1v-2l-1-1-1 1v2zM24 152l1-1v-2l-1-1-1 1v2zM26 98l1-1v-2l-1-1-1 1v2zM26 122l1-1v-2l-1-1-1 1v2zM26 188l1-1v-2l-1-1-1 1v2zM26 194l1-1v-2l-1-1-1 1v2zM28 26l1-1v-2l-1-1-1 1v2zM28 134l1-1v-2l-1-1-1 1v2zM28 152l1-1v-2l-1-1-1 1v2zM28 164l1-1v-2l-1-1-1 1v2zM28 188l1-1v-2l-1-1-1 1v2zM28 194l1-1v-2l-1-1-1 1v2zM30 26l1-1v-2l-1-1-1 1v2zM30 92l1-1v-2l-1-1-1 1v2zM30 98l1-1v-2l-1-1-1 1v2zM30 116l1-1v-2l-1-1-1 1v2zM30 128l1-1v-2l-1-1-1 1v2zM30 170l1-1v-2l-1-1-1 1v2zM30 176l1-1v-2l-1-1-1 1v2zM30 194l1-1v-2l-1-1-1 1v2zM32 86l1-1v-2l-1-1-1 1v2zM32 122l1-1v-2l-1-1-1 1v2zM32 140l1-1v-2l-1-1-1 1v2zM32 152l1-1v-2l-1-1-1 1v2zM32 158l1-1v-2l-1-1-1 1v2zM32 164l1-1v-2l-1-1-1 1v2zM32 206l1-1v-2l-1-1-1 1v2zM34 32l1-1v-2l-1-1-1 1v2zM34 140l1-1v-2l-1-1-1 1v2zM34 158l1-1v-2l-1-1-1 1v2zM34 170l1-1v-2l-1-1-1 1v2zM34 182l1-1v-2l-1-1-1 1v2zM34 206l1-1v-2l-1-1-1 1v2zM36 104l1-1v-2l-1-1-1 1v2zM36 122l1-1v-2l-1-1-1 1v2zM36 134l1-1v-2l-1-1-1 1v2zM36 146l1-1v-2l-1-1-1 1v2zM36 152l1-1v-2l-1-1-1 1v2zM36 164l1-1v-2l-1-1-1 1v2zM36 194l1-1v-2l-1-1-1 1v2zM36 200l1-1v-2l-1-1-1 1v2zM36 212l1-1v-2l-1-1-1 1v2zM36 224l1-1v-2l-1-1-1 1v2zM38 164l1-1v-2l-1-1-1 1v2zM38 200l1-1v-2l-1-1-1 1v2zM38 218l1-1v-2l-1-1-1 1v2zM38 242l1-1v-2l-1-1-1 1v2zM40 134l1-1v-2l-1-1-1 1v2zM40 164l1-1v-2l-1-1-1 1v2zM40 182l1-1v-2l-1-1-1 1v2zM40 200l1-1v-2l-1-1-1 1v2zM42 134l1-1v-2l-1-1-1 1v2zM42 140l1-1v-2l-1-1-1 1v2zM42 146l1-1v-2l-1-1-1 1v2zM42 188l1-1v-2l-1-1-1 1v2zM42 194l1-1v-2l-1-1-1 1v2zM42 218l1-1v-2l-1-1-1 1v2zM42 224l1-1v-2l-1-1-1 1v2zM44 26l1-1v-2l-1-1-1 1v2zM44 134l1-1v-2l-1-1-1 1v2zM44 224l1-1v-2l-1-1-1 1v2zM44 236l1-1v-2l-1-1-1 1v2zM46 140l1-1v-2l-1-1-1 1v2zM46 188l1-1v-2l-1-1-1 1v2zM46 206l1-1v-2l-1-1-1 1v2zM46 224l1-1v-2l-1-1-1 1v2zM48 158l1-1v-2l-1-1-1 1v2zM48 182l1-1v-2l-1-1-1 1v2zM48 224l1-1v-2l-1-1-1 1v2zM50 134l1-1v-2l-1-1-1 1v2zM50 194l1-1v-2l-1-1-1 1v2zM50 224l1-1v-2l-1-1-1 1v2zM50 236l1-1v-2l-1-1-1 1v2zM52 188l1-1v-2l-1-1-1 1v2zM52 200l1-1v-2l-1-1-1 1v2zM52 206l1-1v-2l-1-1-1 1v2zM52 218l1-1v-2l-1-1-1 1v2zM52 224l1-1v-2l-1-1-1 1v2zM54 158l1-1v-2l-1-1-1 1v2zM54 182l1-1v-2l-1-1-1 1v2zM54 212l1-1v-2l-1-1-1 1v2zM54 230l1-1v-2l-1-1-1 1v2zM54 254l1-1v-2l-1-1-1 1v2zM54 266l1-1v-2l-1-1-1 1v2zM56 224l1-1v-2l-1-1-1 1v2zM56 236l1-1v-2l-1-1-1 1v2zM58 194l1-1v-2l-1-1-1 1v2zM58 206l1-1v-2l-1-1-1 1v2zM58 230l1-1v-2l-1-1-1 1v2zM58 242l1-1v-2l-1-1-1 1v2zM58 248l1-1v-2l-1-1-1 1v2zM60 200l1-1v-2l-1-1-1 1v2zM60 224l1-1v-2l-1-1-1 1v2zM60 236l1-1v-2l-1-1-1 1v2zM62 230l1-1v-2l-1-1-1 1v2zM64 140l1-1v-2l-1-1-1 1v2zM64 206l1-1v-2l-1-1-1 1v2zM64 218l1-1v-2l-1-1-1 1v2zM64 236l1-1v-2l-1-1-1 1v2zM64 254l1-1v-2l-1-1-1 1v2zM66 206l1-1v-2l-1-1-1 1v2zM68 140l1-1v-2l-1-1-1 1v2zM68 224l1-1v-2l-1-1-1 1v2zM68 236l1-1v-2l-1-1-1 1v2zM68 248l1-1v-2l-1-1-1 1v2zM70 146l1-1v-2l-1-1-1 1v2zM70 194l1-1v-2l-1-1-1 1v2zM70 200l1-1v-2l-1-1-1 1v2zM70 224l1-1v-2l-1-1-1 1v2zM70 254l1-1v-2l-1-1-1 1v2zM70 272l1-1v-2l-1-1-1 1v2zM72 158l1-1v-2l-1-1-1 1v2zM72 242l1-1v-2l-1-1-1 1v2zM74 134l1-1v-2l-1-1-1 1v2zM74 146l1-1v-2l-1-1-1 1v2zM74 158l1-1v-2l-1-1-1 1v2zM74 218l1-1v-2l-1-1-1 1v2zM74 230l1-1v-2l-1-1-1 1v2zM74 242l1-1v-2l-1-1-1 1v2zM76 242l1-1v-2l-1-1-1 1v2zM76 248l1-1v-2l-1-1-1 1v2zM78 236l1-1v-2l-1-1-1 1v2zM80 140l1-1v-2l-1-1-1 1v2zM82 56l1-1v-2l-1-1-1 1v2zM82 242l1-1v-2l-1-1-1 1v2zM82 260l1-1v-2l-1-1-1 1v2zM86 218l1-1v-2l-1-1-1 1v2zM88 158l1-1v-2l-1-1-1 1v2zM88 164l1-1v-2l-1-1-1 1v2zM88 212l1-1v-2l-1-1-1 1v2zM88 224l1-1v-2l-1-1-1 1v2zM88 230l1-1v-2l-1-1-1 1v2zM90 62l1-1v-2l-1-1-1 1v2zM90 206l1-1v-2l-1-1-1 1v2zM90 242l1-1v-2l-1-1-1 1v2zM92 62l1-1v-2l-1-1-1 1v2zM92 134l1-1v-2l-1-1-1 1v2zM92 146l1-1v-2l-1-1-1 1v2zM92 164l1-1v-2l-1-1-1 1v2zM92 224l1-1v-2l-1-1-1 1v2zM92 236l1-1v-2l-1-1-1 1v2zM94 218l1-1v-2l-1-1-1 1v2zM96 134l1-1v-2l-1-1-1 1v2zM96 218l1-1v-2l-1-1-1 1v2zM98 134l1-1v-2l-1-1-1 1v2zM98 140l1-1v-2l-1-1-1 1v2zM98 230l1-1v-2l-1-1-1 1v2zM98 266l1-1v-2l-1-1-1 1v2zM100 164l1-1v-2l-1-1-1 1v2zM100 200l1-1v-2l-1-1-1 1v2zM100 224l1-1v-2l-1-1-1 1v2zM100 254l1-1v-2l-1-1-1 1v2zM102 134l1-1v-2l-1-1-1 1v2zM102 158l1-1v-2l-1-1-1 1v2zM102 230l1-1v-2l-1-1-1 1v2zM104 140l1-1v-2l-1-1-1 1v2zM104 224l1-1v-2l-1-1-1 1v2zM104 254l1-1v-2l-1-1-1 1v2zM106 134l1-1v-2l-1-1-1 1v2zM106 218l1-1v-2l-1-1-1 1v2zM106 230l1-1v-2l-1-1-1 1v2zM106 236l1-1v-2l-1-1-1 1v2zM108 140l1-1v-2l-1-1-1 1v2zM108 152l1-1v-2l-1-1-1 1v2zM108 158l1-1v-2l-1-1-1 1v2zM108 224l1-1v-2l-1-1-1 1v2zM110 134l1-1v-2l-1-1-1 1v2zM110 152l1-1v-2l-1-1-1 1v2zM110 176l1-1v-2l-1-1-1 1v2zM110 182l1-1v-2l-1-1-1 1v2zM110 230l1-1v-2l-1-1-1 1v2zM110 254l1-1v-2l-1-1-1 1v2zM110 266l1-1v-2l-1-1-1 1v2zM112 116l1-1v-2l-1-1-1 1v2zM112 134l1-1v-2l-1-1-1 1v2zM112 146l1-1v-2l-1-1-1 1v2zM112 242l1-1v-2l-1-1-1 1v2zM112 260l1-1v-2l-1-1-1 1v2zM114 212l1-1v-2l-1-1-1 1v2zM114 218l1-1v-2l-1-1-1 1v2zM114 236l1-1v-2l-1-1-1 1v2zM114 260l1-1v-2l-1-1-1 1v2zM116 158l1-1v-2l-1-1-1 1v2zM116 224l1-1v-2l-1-1-1 1v2zM116 230l1-1v-2l-1-1-1 1v2zM116 236l1-1v-2l-1-1-1 1v2zM116 242l1-1v-2l-1-1-1 1v2zM118 110l1-1v-2l-1-1-1 1v2zM118 266l1-1v-2l-1-1-1 1v2zM120 188l1-1v-2l-1-1-1 1v2zM120 218l1-1v-2l-1-1-1 1v2zM120 230l1-1v-2l-1-1-1 1v2zM122 146l1-1v-2l-1-1-1 1v2zM122 152l1-1v-2l-1-1-1 1v2zM122 158l1-1v-2l-1-1-1 1v2zM122 188l1-1v-2l-1-1-1 1v2zM122 230l1-1v-2l-1-1-1 1v2zM124 86l1-1v-2l-1-1-1 1v2zM124 170l1-1v-2l-1-1-1 1v2zM124 224l1-1v-2l-1-1-1 1v2zM126 152l1-1v-2l-1-1-1 1v2zM126 158l1-1v-2l-1-1-1 1v2zM126 170l1-1v-2l-1-1-1 1v2zM126 176l1-1v-2l-1-1-1 1v2zM126 242l1-1v-2l-1-1-1 1v2zM128 140l1-1v-2l-1-1-1 1v2zM128 164l1-1v-2l-1-1-1 1v2zM128 170l1-1v-2l-1-1-1 1v2zM128 182l1-1v-2l-1-1-1 1v2zM128 188l1-1v-2l-1-1-1 1v2zM128 212l1-1v-2l-1-1-1 1v2zM128 242l1-1v-2l-1-1-1 1v2zM130 188l1-1v-2l-1-1-1 1v2zM130 248l1-1v-2l-1-1-1 1v2zM132 164l1-1v-2l-1-1-1 1v2zM132 176l1-1v-2l-1-1-1 1v2zM132 188l1-1v-2l-1-1-1 1v2zM132 212l1-1v-2l-1-1-1 1v2zM134 116l1-1v-2l-1-1-1 1v2zM134 146l1-1v-2l-1-1-1 1v2zM134 152l1-1v-2l-1-1-1 1v2zM134 182l1-1v-2l-1-1-1 1v2zM134 206l1-1v-2l-1-1-1 1v2zM134 242l1-1v-2l-1-1-1 1v2zM134 248l1-1v-2l-1-1-1 1v2zM136 146l1-1v-2l-1-1-1 1v2zM136 170l1-1v-2l-1-1-1 1v2zM136 212l1-1v-2l-1-1-1 1v2zM136 224l1-1v-2l-1-1-1 1v2zM136 236l1-1v-2l-1-1-1 1v2zM138 140l1-1v-2l-1-1-1 1v2zM138 170l1-1v-2l-1-1-1 1v2zM140 128l1-1v-2l-1-1-1 1v2zM140 140l1-1v-2l-1-1-1 1v2zM140 188l1-1v-2l-1-1-1 1v2zM140 218l1-1v-2l-1-1-1 1v2zM140 242l1-1v-2l-1-1-1 1v2zM142 122l1-1v-2l-1-1-1 1v2zM142 146l1-1v-2l-1-1-1 1v2zM142 176l1-1v-2l-1-1-1 1v2zM142 206l1-1v-2l-1-1-1 1v2zM142 218l1-1v-2l-1-1-1 1v2zM142 260l1-1v-2l-1-1-1 1v2zM144 146l1-1v-2l-1-1-1 1v2zM144 152l1-1v-2l-1-1-1 1v2zM144 182l1-1v-2l-1-1-1 1v2zM144 194l1-1v-2l-1-1-1 1v2zM144 206l1-1v-2l-1-1-1 1v2zM144 218l1-1v-2l-1-1-1 1v2zM144 224l1-1v-2l-1-1-1 1v2zM144 260l1-1v-2l-1-1-1 1v2zM146 104l1-1v-2l-1-1-1 1v2zM146 116l1-1v-2l-1-1-1 1v2zM146 146l1-1v-2l-1-1-1 1v2zM146 152l1-1v-2l-1-1-1 1v2zM146 188l1-1v-2l-1-1-1 1v2zM146 200l1-1v-2l-1-1-1 1v2zM146 218l1-1v-2l-1-1-1 1v2zM146 224l1-1v-2l-1-1-1 1v2zM146 242l1-1v-2l-1-1-1 1v2zM148 134l1-1v-2l-1-1-1 1v2zM148 152l1-1v-2l-1-1-1 1v2zM148 158l1-1v-2l-1-1-1 1v2zM148 164l1-1v-2l-1-1-1 1v2zM148 170l1-1v-2l-1-1-1 1v2zM148 176l1-1v-2l-1-1-1 1v2zM148 182l1-1v-2l-1-1-1 1v2zM148 212l1-1v-2l-1-1-1 1v2zM148 230l1-1v-2l-1-1-1 1v2zM150 110l1-1v-2l-1-1-1 1v2zM150 122l1-1v-2l-1-1-1 1v2zM150 188l1-1v-2l-1-1-1 1v2zM150 212l1-1v-2l-1-1-1 1v2zM150 224l1-1v-2l-1-1-1 1v2zM150 248l1-1v-2l-1-1-1 1v2zM152 194l1-1v-2l-1-1-1 1v2zM152 212l1-1v-2l-1-1-1 1v2zM152 224l1-1v-2l-1-1-1 1v2zM152 236l1-1v-2l-1-1-1 1v2zM152 272l1-1v-2l-1-1-1 1v2zM154 116l1-1v-2l-1-1-1 1v2zM154 134l1-1v-2l-1-1-1 1v2zM154 170l1-1v-2l-1-1-1 1v2zM154 182l1-1v-2l-1-1-1 1v2zM154 188l1-1v-2l-1-1-1 1v2zM156 110l1-1v-2l-1-1-1 1v2zM158 134l1-1v-2l-1-1-1 1v2zM158 146l1-1v-2l-1-1-1 1v2zM160 170l1-1v-2l-1-1-1 1v2zM160 176l1-1v-2l-1-1-1 1v2zM160 182l1-1v-2l-1-1-1 1v2zM160 194l1-1v-2l-1-1-1 1v2zM162 152l1-1v-2l-1-1-1 1v2zM162 164l1-1v-2l-1-1-1 1v2zM164 128l1-1v-2l-1-1-1 1v2zM164 134l1-1v-2l-1-1-1 1v2zM168 140l1-1v-2l-1-1-1 1v2zM168 152l1-1v-2l-1-1-1 1v2zM168 158l1-1v-2l-1-1-1 1v2zM170 128l1-1v-2l-1-1-1 1v2zM170 146l1-1v-2l-1-1-1 1v2zM172 134l1-1v-2l-1-1-1 1v2zM13 59l1-1v-2l-1-1-1 1v2zM13 89l1-1v-2l-1-1-1 1v2zM15 29l1-1v-2l-1-1-1 1v2zM15 89l1-1v-2l-1-1-1 1v2zM15 125l1-1v-2l-1-1-1 1v2zM17 59l1-1v-2l-1-1-1 1v2zM17 83l1-1v-2l-1-1-1 1v2zM17 131l1-1v-2l-1-1-1 1v2zM17 137l1-1v-2l-1-1-1 1v2zM19 41l1-1v-2l-1-1-1 1v2zM19 53l1-1v-2l-1-1-1 1v2zM19 161l1-1v-2l-1-1-1 1v2zM21 17l1-1v-2l-1-1-1 1v2zM21 59l1-1v-2l-1-1-1 1v2zM21 71l1-1v-2l-1-1-1 1v2zM21 83l1-1v-2l-1-1-1 1v2zM23 17l1-1v-2l-1-1-1 1v2zM23 23l1-1v-2l-1-1-1 1v2zM23 59l1-1v-2l-1-1-1 1v2zM23 77l1-1v-2l-1-1-1 1v2zM23 83l1-1v-2l-1-1-1 1v2zM23 107l1-1v-2l-1-1-1 1v2zM23 113l1-1v-2l-1-1-1 1v2zM23 125l1-1v-2l-1-1-1 1v2zM23 137l1-1v-2l-1-1-1 1v2zM23 143l1-1v-2l-1-1-1 1v2zM25 23l1-1v-2l-1-1-1 1v2zM25 29l1-1v-2l-1-1-1 1v2zM25 35l1-1v-2l-1-1-1 1v2zM25 47l1-1v-2l-1-1-1 1v2zM25 89l1-1v-2l-1-1-1 1v2zM25 95l1-1v-2l-1-1-1 1v2zM25 131l1-1v-2l-1-1-1 1v2zM25 137l1-1v-2l-1-1-1 1v2zM25 143l1-1v-2l-1-1-1 1v2zM25 161l1-1v-2l-1-1-1 1v2zM25 167l1-1v-2l-1-1-1 1v2zM27 77l1-1v-2l-1-1-1 1v2zM27 137l1-1v-2l-1-1-1 1v2zM27 143l1-1v-2l-1-1-1 1v2zM27 155l1-1v-2l-1-1-1 1v2zM29 23l1-1v-2l-1-1-1 1v2zM29 29l1-1v-2l-1-1-1 1v2zM29 59l1-1v-2l-1-1-1 1v2zM29 107l1-1v-2l-1-1-1 1v2zM29 185l1-1v-2l-1-1-1 1v2zM29 191l1-1v-2l-1-1-1 1v2zM29 197l1-1v-2l-1-1-1 1v2zM31 95l1-1v-2l-1-1-1 1v2zM31 143l1-1v-2l-1-1-1 1v2zM31 161l1-1v-2l-1-1-1 1v2zM33 131l1-1v-2l-1-1-1 1v2zM33 137l1-1v-2l-1-1-1 1v2zM33 155l1-1v-2l-1-1-1 1v2zM33 167l1-1v-2l-1-1-1 1v2zM33 197l1-1v-2l-1-1-1 1v2zM35 101l1-1v-2l-1-1-1 1v2zM35 155l1-1v-2l-1-1-1 1v2zM35 161l1-1v-2l-1-1-1 1v2zM35 173l1-1v-2l-1-1-1 1v2zM35 185l1-1v-2l-1-1-1 1v2zM35 227l1-1v-2l-1-1-1 1v2zM37 53l1-1v-2l-1-1-1 1v2zM37 125l1-1v-2l-1-1-1 1v2zM37 131l1-1v-2l-1-1-1 1v2zM37 221l1-1v-2l-1-1-1 1v2zM37 245l1-1v-2l-1-1-1 1v2zM39 107l1-1v-2l-1-1-1 1v2zM39 143l1-1v-2l-1-1-1 1v2zM39 161l1-1v-2l-1-1-1 1v2zM39 173l1-1v-2l-1-1-1 1v2zM39 215l1-1v-2l-1-1-1 1v2zM41 149l1-1v-2l-1-1-1 1v2zM41 173l1-1v-2l-1-1-1 1v2zM41 203l1-1v-2l-1-1-1 1v2zM41 257l1-1v-2l-1-1-1 1v2zM43 155l1-1v-2l-1-1-1 1v2zM43 191l1-1v-2l-1-1-1 1v2zM43 197l1-1v-2l-1-1-1 1v2zM43 215l1-1v-2l-1-1-1 1v2zM43 233l1-1v-2l-1-1-1 1v2zM45 119l1-1v-2l-1-1-1 1v2zM45 161l1-1v-2l-1-1-1 1v2zM45 269l1-1v-2l-1-1-1 1v2zM47 227l1-1v-2l-1-1-1 1v2zM49 239l1-1v-2l-1-1-1 1v2zM49 257l1-1v-2l-1-1-1 1v2zM51 71l1-1v-2l-1-1-1 1v2zM51 131l1-1v-2l-1-1-1 1v2zM51 143l1-1v-2l-1-1-1 1v2zM51 161l1-1v-2l-1-1-1 1v2zM51 227l1-1v-2l-1-1-1 1v2zM51 233l1-1v-2l-1-1-1 1v2zM53 137l1-1v-2l-1-1-1 1v2zM53 173l1-1v-2l-1-1-1 1v2zM55 143l1-1v-2l-1-1-1 1v2zM55 161l1-1v-2l-1-1-1 1v2zM55 215l1-1v-2l-1-1-1 1v2zM57 203l1-1v-2l-1-1-1 1v2zM57 215l1-1v-2l-1-1-1 1v2zM59 197l1-1v-2l-1-1-1 1v2zM59 239l1-1v-2l-1-1-1 1v2zM59 251l1-1v-2l-1-1-1 1v2zM61 257l1-1v-2l-1-1-1 1v2zM63 239l1-1v-2l-1-1-1 1v2zM63 245l1-1v-2l-1-1-1 1v2zM65 239l1-1v-2l-1-1-1 1v2zM67 227l1-1v-2l-1-1-1 1v2zM67 239l1-1v-2l-1-1-1 1v2zM67 251l1-1v-2l-1-1-1 1v2zM69 161l1-1v-2l-1-1-1 1v2zM69 239l1-1v-2l-1-1-1 1v2zM71 137l1-1v-2l-1-1-1 1v2zM71 161l1-1v-2l-1-1-1 1v2zM71 227l1-1v-2l-1-1-1 1v2zM71 239l1-1v-2l-1-1-1 1v2zM71 263l1-1v-2l-1-1-1 1v2zM75 221l1-1v-2l-1-1-1 1v2zM75 227l1-1v-2l-1-1-1 1v2zM77 173l1-1v-2l-1-1-1 1v2zM77 257l1-1v-2l-1-1-1 1v2zM79 209l1-1v-2l-1-1-1 1v2zM79 233l1-1v-2l-1-1-1 1v2zM79 251l1-1v-2l-1-1-1 1v2zM81 233l1-1v-2l-1-1-1 1v2zM83 161l1-1v-2l-1-1-1 1v2zM83 209l1-1v-2l-1-1-1 1v2zM83 239l1-1v-2l-1-1-1 1v2zM83 263l1-1v-2l-1-1-1 1v2zM85 221l1-1v-2l-1-1-1 1v2zM85 227l1-1v-2l-1-1-1 1v2zM87 239l1-1v-2l-1-1-1 1v2zM87 263l1-1v-2l-1-1-1 1v2zM89 137l1-1v-2l-1-1-1 1v2zM89 233l1-1v-2l-1-1-1 1v2zM91 125l1-1v-2l-1-1-1 1v2zM91 131l1-1v-2l-1-1-1 1v2zM91 173l1-1v-2l-1-1-1 1v2zM91 221l1-1v-2l-1-1-1 1v2zM93 161l1-1v-2l-1-1-1 1v2zM93 215l1-1v-2l-1-1-1 1v2zM95 215l1-1v-2l-1-1-1 1v2zM95 227l1-1v-2l-1-1-1 1v2zM95 233l1-1v-2l-1-1-1 1v2zM95 251l1-1v-2l-1-1-1 1v2zM97 125l1-1v-2l-1-1-1 1v2zM97 149l1-1v-2l-1-1-1 1v2zM97 155l1-1v-2l-1-1-1 1v2zM97 161l1-1v-2l-1-1-1 1v2zM97 239l1-1v-2l-1-1-1 1v2zM97 251l1-1v-2l-1-1-1 1v2zM99 215l1-1v-2l-1-1-1 1v2zM101 125l1-1v-2l-1-1-1 1v2zM101 143l1-1v-2l-1-1-1 1v2zM101 227l1-1v-2l-1-1-1 1v2zM101 233l1-1v-2l-1-1-1 1v2zM101 269l1-1v-2l-1-1-1 1v2zM103 71l1-1v-2l-1-1-1 1v2zM103 119l1-1v-2l-1-1-1 1v2zM103 161l1-1v-2l-1-1-1 1v2zM103 239l1-1v-2l-1-1-1 1v2zM103 245l1-1v-2l-1-1-1 1v2zM103 263l1-1v-2l-1-1-1 1v2zM105 155l1-1v-2l-1-1-1 1v2zM105 161l1-1v-2l-1-1-1 1v2zM105 215l1-1v-2l-1-1-1 1v2zM105 239l1-1v-2l-1-1-1 1v2zM105 263l1-1v-2l-1-1-1 1v2zM105 269l1-1v-2l-1-1-1 1v2zM107 131l1-1v-2l-1-1-1 1v2zM107 155l1-1v-2l-1-1-1 1v2zM107 233l1-1v-2l-1-1-1 1v2zM107 251l1-1v-2l-1-1-1 1v2zM109 161l1-1v-2l-1-1-1 1v2zM109 221l1-1v-2l-1-1-1 1v2zM109 227l1-1v-2l-1-1-1 1v2zM109 257l1-1v-2l-1-1-1 1v2zM111 137l1-1v-2l-1-1-1 1v2zM111 143l1-1v-2l-1-1-1 1v2zM111 161l1-1v-2l-1-1-1 1v2zM111 173l1-1v-2l-1-1-1 1v2zM111 227l1-1v-2l-1-1-1 1v2zM111 233l1-1v-2l-1-1-1 1v2zM111 239l1-1v-2l-1-1-1 1v2zM113 119l1-1v-2l-1-1-1 1v2zM113 149l1-1v-2l-1-1-1 1v2zM113 221l1-1v-2l-1-1-1 1v2zM113 239l1-1v-2l-1-1-1 1v2zM115 161l1-1v-2l-1-1-1 1v2zM115 221l1-1v-2l-1-1-1 1v2zM117 125l1-1v-2l-1-1-1 1v2zM117 161l1-1v-2l-1-1-1 1v2zM117 233l1-1v-2l-1-1-1 1v2zM119 167l1-1v-2l-1-1-1 1v2zM119 173l1-1v-2l-1-1-1 1v2zM119 221l1-1v-2l-1-1-1 1v2zM119 257l1-1v-2l-1-1-1 1v2zM121 83l1-1v-2l-1-1-1 1v2zM121 143l1-1v-2l-1-1-1 1v2zM121 155l1-1v-2l-1-1-1 1v2zM121 161l1-1v-2l-1-1-1 1v2zM121 191l1-1v-2l-1-1-1 1v2zM121 245l1-1v-2l-1-1-1 1v2zM123 125l1-1v-2l-1-1-1 1v2zM123 155l1-1v-2l-1-1-1 1v2zM123 227l1-1v-2l-1-1-1 1v2zM125 149l1-1v-2l-1-1-1 1v2zM125 167l1-1v-2l-1-1-1 1v2zM125 221l1-1v-2l-1-1-1 1v2zM125 227l1-1v-2l-1-1-1 1v2zM127 89l1-1v-2l-1-1-1 1v2zM127 155l1-1v-2l-1-1-1 1v2zM127 203l1-1v-2l-1-1-1 1v2zM127 215l1-1v-2l-1-1-1 1v2zM127 221l1-1v-2l-1-1-1 1v2zM127 245l1-1v-2l-1-1-1 1v2zM129 89l1-1v-2l-1-1-1 1v2zM129 167l1-1v-2l-1-1-1 1v2zM129 185l1-1v-2l-1-1-1 1v2zM129 227l1-1v-2l-1-1-1 1v2zM129 239l1-1v-2l-1-1-1 1v2zM129 245l1-1v-2l-1-1-1 1v2zM129 263l1-1v-2l-1-1-1 1v2zM131 143l1-1v-2l-1-1-1 1v2zM131 173l1-1v-2l-1-1-1 1v2zM131 221l1-1v-2l-1-1-1 1v2zM131 227l1-1v-2l-1-1-1 1v2zM131 263l1-1v-2l-1-1-1 1v2zM133 191l1-1v-2l-1-1-1 1v2zM133 245l1-1v-2l-1-1-1 1v2zM135 173l1-1v-2l-1-1-1 1v2zM135 197l1-1v-2l-1-1-1 1v2zM135 221l1-1v-2l-1-1-1 1v2zM135 233l1-1v-2l-1-1-1 1v2zM135 245l1-1v-2l-1-1-1 1v2zM135 287l1-1v-2l-1-1-1 1v2zM137 149l1-1v-2l-1-1-1 1v2zM137 197l1-1v-2l-1-1-1 1v2zM137 209l1-1v-2l-1-1-1 1v2zM137 227l1-1v-2l-1-1-1 1v2zM137 233l1-1v-2l-1-1-1 1v2zM137 251l1-1v-2l-1-1-1 1v2zM137 281l1-1v-2l-1-1-1 1v2zM139 167l1-1v-2l-1-1-1 1v2zM139 179l1-1v-2l-1-1-1 1v2zM139 197l1-1v-2l-1-1-1 1v2zM139 209l1-1v-2l-1-1-1 1v2zM139 245l1-1v-2l-1-1-1 1v2zM141 143l1-1v-2l-1-1-1 1v2zM141 149l1-1v-2l-1-1-1 1v2zM141 173l1-1v-2l-1-1-1 1v2zM141 203l1-1v-2l-1-1-1 1v2zM141 215l1-1v-2l-1-1-1 1v2zM141 245l1-1v-2l-1-1-1 1v2zM143 209l1-1v-2l-1-1-1 1v2zM143 221l1-1v-2l-1-1-1 1v2zM143 227l1-1v-2l-1-1-1 1v2zM143 233l1-1v-2l-1-1-1 1v2zM143 245l1-1v-2l-1-1-1 1v2zM143 269l1-1v-2l-1-1-1 1v2zM145 131l1-1v-2l-1-1-1 1v2zM145 161l1-1v-2l-1-1-1 1v2zM145 185l1-1v-2l-1-1-1 1v2zM145 191l1-1v-2l-1-1-1 1v2zM145 209l1-1v-2l-1-1-1 1v2zM145 227l1-1v-2l-1-1-1 1v2zM147 161l1-1v-2l-1-1-1 1v2zM147 191l1-1v-2l-1-1-1 1v2zM147 203l1-1v-2l-1-1-1 1v2zM147 215l1-1v-2l-1-1-1 1v2zM147 239l1-1v-2l-1-1-1 1v2zM149 143l1-1v-2l-1-1-1 1v2zM149 197l1-1v-2l-1-1-1 1v2zM149 209l1-1v-2l-1-1-1 1v2zM149 227l1-1v-2l-1-1-1 1v2zM149 239l1-1v-2l-1-1-1 1v2zM149 245l1-1v-2l-1-1-1 1v2zM149 263l1-1v-2l-1-1-1 1v2zM151 131l1-1v-2l-1-1-1 1v2zM151 137l1-1v-2l-1-1-1 1v2zM151 143l1-1v-2l-1-1-1 1v2zM151 161l1-1v-2l-1-1-1 1v2zM151 221l1-1v-2l-1-1-1 1v2zM151 227l1-1v-2l-1-1-1 1v2zM153 113l1-1v-2l-1-1-1 1v2zM153 125l1-1v-2l-1-1-1 1v2zM153 167l1-1v-2l-1-1-1 1v2zM153 185l1-1v-2l-1-1-1 1v2zM153 191l1-1v-2l-1-1-1 1v2zM153 203l1-1v-2l-1-1-1 1v2zM153 221l1-1v-2l-1-1-1 1v2zM153 239l1-1v-2l-1-1-1 1v2zM155 113l1-1v-2l-1-1-1 1v2zM155 125l1-1v-2l-1-1-1 1v2zM155 137l1-1v-2l-1-1-1 1v2zM155 191l1-1v-2l-1-1-1 1v2zM155 197l1-1v-2l-1-1-1 1v2zM155 227l1-1v-2l-1-1-1 1v2zM157 113l1-1v-2l-1-1-1 1v2zM157 119l1-1v-2l-1-1-1 1v2zM157 125l1-1v-2l-1-1-1 1v2zM157 131l1-1v-2l-1-1-1 1v2zM157 143l1-1v-2l-1-1-1 1v2zM157 155l1-1v-2l-1-1-1 1v2zM159 113l1-1v-2l-1-1-1 1v2zM159 119l1-1v-2l-1-1-1 1v2zM159 167l1-1v-2l-1-1-1 1v2zM159 179l1-1v-2l-1-1-1 1v2zM161 113l1-1v-2l-1-1-1 1v2zM161 149l1-1v-2l-1-1-1 1v2zM161 185l1-1v-2l-1-1-1 1v2zM165 125l1-1v-2l-1-1-1 1v2zM167 113l1-1v-2l-1-1-1 1v2zM173 119l1-1v-2l-1-1-1 1v2zM181 149l1-1v-2l-1-1-1 1v2zM187 125l1-1v-2l-1-1-1 1v2z"/>
<path id="h3" d="M8 20l1-1v-2l-1-1-1 1v2zM12 38l1-1v-2l-1-1-1 1v2zM12 62l1-1v-2l-1-1-1 1v2zM14 50l1-1v-2l-1-1-1 1v2zM14 62l1-1v-2l-1-1-1 1v2zM18 56l1-1v-2l-1-1-1 1v2zM20 50l1-1v-2l-1-1-1 1v2zM20 128l1-1v-2l-1-1-1 1v2zM22 14l1-1v-2l-1-1-1 1v2zM22 32l1-1v-2l-1-1-1 1v2zM22 68l1-1v-2l-1-1-1 1v2zM22 74l1-1v-2l-1-1-1 1v2zM22 98l1-1v-2l-1-1-1 1v2zM24 38l1-1v-2l-1-1-1 1v2zM24 50l1-1v-2l-1-1-1 1v2zM24 68l1-1v-2l-1-1-1 1v2zM24 74l1-1v-2l-1-1-1 1v2zM24 92l1-1v-2l-1-1-1 1v2zM24 98l1-1v-2l-1-1-1 1v2zM24 116l1-1v-2l-1-1-1 1v2zM24 194l1-1v-2l-1-1-1 1v2zM26 14l1-1v-2l-1-1-1 1v2zM26 38l1-1v-2l-1-1-1 1v2zM26 44l1-1v-2l-1-1-1 1v2zM26 116l1-1v-2l-1-1-1 1v2zM28 80l1-1v-2l-1-1-1 1v2zM28 110l1-1v-2l-1-1-1 1v2zM30 20l1-1v-2l-1-1-1 1v2zM30 44l1-1v-2l-1-1-1 1v2zM30 104l1-1v-2l-1-1-1 1v2zM30 134l1-1v-2l-1-1-1 1v2zM32 38l1-1v-2l-1-1-1 1v2zM32 116l1-1v-2l-1-1-1 1v2zM34 98l1-1v-2l-1-1-1 1v2zM34 116l1-1v-2l-1-1-1 1v2zM34 188l1-1v-2l-1-1-1 1v2zM36 26l1-1v-2l-1-1-1 1v2zM36 44l1-1v-2l-1-1-1 1v2zM36 140l1-1v-2l-1-1-1 1v2zM36 182l1-1v-2l-1-1-1 1v2zM36 188l1-1v-2l-1-1-1 1v2zM38 98l1-1v-2l-1-1-1 1v2zM38 122l1-1v-2l-1-1-1 1v2zM38 140l1-1v-2l-1-1-1 1v2zM38 170l1-1v-2l-1-1-1 1v2zM38 230l1-1v-2l-1-1-1 1v2zM40 26l1-1v-2l-1-1-1 1v2zM40 146l1-1v-2l-1-1-1 1v2zM40 158l1-1v-2l-1-1-1 1v2zM40 176l1-1v-2l-1-1-1 1v2zM40 212l1-1v-2l-1-1-1 1v2zM40 236l1-1v-2l-1-1-1 1v2zM42 26l1-1v-2l-1-1-1 1v2zM42 116l1-1v-2l-1-1-1 1v2zM42 152l1-1v-2l-1-1-1 1v2zM42 164l1-1v-2l-1-1-1 1v2zM42 212l1-1v-2l-1-1-1 1v2zM44 128l1-1v-2l-1-1-1 1v2zM44 170l1-1v-2l-1-1-1 1v2zM44 182l1-1v-2l-1-1-1 1v2zM44 206l1-1v-2l-1-1-1 1v2zM44 218l1-1v-2l-1-1-1 1v2zM46 164l1-1v-2l-1-1-1 1v2zM46 200l1-1v-2l-1-1-1 1v2zM48 128l1-1v-2l-1-1-1 1v2zM48 146l1-1v-2l-1-1-1 1v2zM48 152l1-1v-2l-1-1-1 1v2zM48 194l1-1v-2l-1-1-1 1v2zM48 200l1-1v-2l-1-1-1 1v2zM48 218l1-1v-2l-1-1-1 1v2zM48 230l1-1v-2l-1-1-1 1v2zM50 32l1-1v-2l-1-1-1 1v2zM50 122l1-1v-2l-1-1-1 1v2zM50 158l1-1v-2l-1-1-1 1v2zM50 164l1-1v-2l-1-1-1 1v2zM50 182l1-1v-2l-1-1-1 1v2zM50 200l1-1v-2l-1-1-1 1v2zM50 218l1-1v-2l-1-1-1 1v2zM52 164l1-1v-2l-1-1-1 1v2zM52 182l1-1v-2l-1-1-1 1v2zM52 212l1-1v-2l-1-1-1 1v2zM54 122l1-1v-2l-1-1-1 1v2zM54 152l1-1v-2l-1-1-1 1v2zM54 200l1-1v-2l-1-1-1 1v2zM54 206l1-1v-2l-1-1-1 1v2zM54 218l1-1v-2l-1-1-1 1v2zM54 224l1-1v-2l-1-1-1 1v2zM56 134l1-1v-2l-1-1-1 1v2zM56 140l1-1v-2l-1-1-1 1v2zM56 146l1-1v-2l-1-1-1 1v2zM56 152l1-1v-2l-1-1-1 1v2zM56 158l1-1v-2l-1-1-1 1v2zM56 182l1-1v-2l-1-1-1 1v2zM58 212l1-1v-2l-1-1-1 1v2zM58 224l1-1v-2l-1-1-1 1v2zM62 134l1-1v-2l-1-1-1 1v2zM62 158l1-1v-2l-1-1-1 1v2zM62 170l1-1v-2l-1-1-1 1v2zM64 152l1-1v-2l-1-1-1 1v2zM64 212l1-1v-2l-1-1-1 1v2zM66 200l1-1v-2l-1-1-1 1v2zM68 128l1-1v-2l-1-1-1 1v2zM68 134l1-1v-2l-1-1-1 1v2zM68 152l1-1v-2l-1-1-1 1v2zM68 170l1-1v-2l-1-1-1 1v2zM68 206l1-1v-2l-1-1-1 1v2zM68 218l1-1v-2l-1-1-1 1v2zM70 116l1-1v-2l-1-1-1 1v2zM70 152l1-1v-2l-1-1-1 1v2zM70 218l1-1v-2l-1-1-1 1v2zM72 134l1-1v-2l-1-1-1 1v2zM72 200l1-1v-2l-1-1-1 1v2zM76 146l1-1v-2l-1-1-1 1v2zM76 206l1-1v-2l-1-1-1 1v2zM76 224l1-1v-2l-1-1-1 1v2zM78 146l1-1v-2l-1-1-1 1v2zM78 206l1-1v-2l-1-1-1 1v2zM78 218l1-1v-2l-1-1-1 1v2zM78 224l1-1v-2l-1-1-1 1v2zM82 152l1-1v-2l-1-1-1 1v2zM82 164l1-1v-2l-1-1-1 1v2zM82 176l1-1v-2l-1-1-1 1v2zM82 200l1-1v-2l-1-1-1 1v2zM82 224l1-1v-2l-1-1-1 1v2zM84 116l1-1v-2l-1-1-1 1v2zM84 164l1-1v-2l-1-1-1 1v2zM84 170l1-1v-2l-1-1-1 1v2zM84 200l1-1v-2l-1-1-1 1v2zM84 212l1-1v-2l-1-1-1 1v2zM84 230l1-1v-2l-1-1-1 1v2zM86 134l1-1v-2l-1-1-1 1v2zM86 236l1-1v-2l-1-1-1 1v2zM90 218l1-1v-2l-1-1-1 1v2zM90 266l1-1v-2l-1-1-1 1v2zM92 200l1-1v-2l-1-1-1 1v2zM92 218l1-1v-2l-1-1-1 1v2zM94 146l1-1v-2l-1-1-1 1v2zM94 212l1-1v-2l-1-1-1 1v2zM96 164l1-1v-2l-1-1-1 1v2zM96 212l1-1v-2l-1-1-1 1v2zM98 98l1-1v-2l-1-1-1 1v2zM98 116l1-1v-2l-1-1-1 1v2zM98 146l1-1v-2l-1-1-1 1v2zM100 128l1-1v-2l-1-1-1 1v2zM100 146l1-1v-2l-1-1-1 1v2zM100 236l1-1v-2l-1-1-1 1v2zM100 248l1-1v-2l-1-1-1 1v2zM102 122l1-1v-2l-1-1-1 1v2zM102 224l1-1v-2l-1-1-1 1v2zM104 122l1-1v-2l-1-1-1 1v2zM104 128l1-1v-2l-1-1-1 1v2zM106 140l1-1v-2l-1-1-1 1v2zM106 152l1-1v-2l-1-1-1 1v2zM106 188l1-1v-2l-1-1-1 1v2zM106 206l1-1v-2l-1-1-1 1v2zM106 224l1-1v-2l-1-1-1 1v2zM108 116l1-1v-2l-1-1-1 1v2zM108 122l1-1v-2l-1-1-1 1v2zM108 134l1-1v-2l-1-1-1 1v2zM108 146l1-1v-2l-1-1-1 1v2zM108 170l1-1v-2l-1-1-1 1v2zM108 200l1-1v-2l-1-1-1 1v2zM108 236l1-1v-2l-1-1-1 1v2zM108 260l1-1v-2l-1-1-1 1v2zM110 116l1-1v-2l-1-1-1 1v2zM110 236l1-1v-2l-1-1-1 1v2zM112 164l1-1v-2l-1-1-1 1v2zM112 176l1-1v-2l-1-1-1 1v2zM112 188l1-1v-2l-1-1-1 1v2zM112 230l1-1v-2l-1-1-1 1v2zM114 170l1-1v-2l-1-1-1 1v2zM114 242l1-1v-2l-1-1-1 1v2zM116 188l1-1v-2l-1-1-1 1v2zM118 164l1-1v-2l-1-1-1 1v2zM118 170l1-1v-2l-1-1-1 1v2zM118 212l1-1v-2l-1-1-1 1v2zM118 236l1-1v-2l-1-1-1 1v2zM118 242l1-1v-2l-1-1-1 1v2zM120 146l1-1v-2l-1-1-1 1v2zM120 152l1-1v-2l-1-1-1 1v2zM120 170l1-1v-2l-1-1-1 1v2zM120 206l1-1v-2l-1-1-1 1v2zM120 224l1-1v-2l-1-1-1 1v2zM122 164l1-1v-2l-1-1-1 1v2zM122 170l1-1v-2l-1-1-1 1v2zM124 140l1-1v-2l-1-1-1 1v2zM124 164l1-1v-2l-1-1-1 1v2zM124 182l1-1v-2l-1-1-1 1v2zM126 140l1-1v-2l-1-1-1 1v2zM126 182l1-1v-2l-1-1-1 1v2zM126 224l1-1v-2l-1-1-1 1v2zM126 230l1-1v-2l-1-1-1 1v2zM126 236l1-1v-2l-1-1-1 1v2zM128 152l1-1v-2l-1-1-1 1v2zM128 176l1-1v-2l-1-1-1 1v2zM128 218l1-1v-2l-1-1-1 1v2zM130 134l1-1v-2l-1-1-1 1v2zM130 140l1-1v-2l-1-1-1 1v2zM130 170l1-1v-2l-1-1-1 1v2zM132 92l1-1v-2l-1-1-1 1v2zM132 98l1-1v-2l-1-1-1 1v2zM132 146l1-1v-2l-1-1-1 1v2zM132 170l1-1v-2l-1-1-1 1v2zM134 134l1-1v-2l-1-1-1 1v2zM134 164l1-1v-2l-1-1-1 1v2zM134 212l1-1v-2l-1-1-1 1v2zM134 230l1-1v-2l-1-1-1 1v2zM136 122l1-1v-2l-1-1-1 1v2zM136 128l1-1v-2l-1-1-1 1v2zM136 134l1-1v-2l-1-1-1 1v2zM136 158l1-1v-2l-1-1-1 1v2zM136 164l1-1v-2l-1-1-1 1v2zM136 194l1-1v-2l-1-1-1 1v2zM136 218l1-1v-2l-1-1-1 1v2zM136 230l1-1v-2l-1-1-1 1v2zM138 134l1-1v-2l-1-1-1 1v2zM138 146l1-1v-2l-1-1-1 1v2zM138 164l1-1v-2l-1-1-1 1v2zM138 182l1-1v-2l-1-1-1 1v2zM138 188l1-1v-2l-1-1-1 1v2zM138 194l1-1v-2l-1-1-1 1v2zM140 170l1-1v-2l-1-1-1 1v2zM142 116l1-1v-2l-1-1-1 1v2zM142 128l1-1v-2l-1-1-1 1v2zM142 140l1-1v-2l-1-1-1 1v2zM142 170l1-1v-2l-1-1-1 1v2zM142 224l1-1v-2l-1-1-1 1v2zM144 128l1-1v-2l-1-1-1 1v2zM144 134l1-1v-2l-1-1-1 1v2zM144 140l1-1v-2l-1-1-1 1v2zM144 170l1-1v-2l-1-1-1 1v2zM144 212l1-1v-2l-1-1-1 1v2zM144 236l1-1v-2l-1-1-1 1v2zM144 242l1-1v-2l-1-1-1 1v2zM146 134l1-1v-2l-1-1-1 1v2zM146 164l1-1v-2l-1-1-1 1v2zM146 194l1-1v-2l-1-1-1 1v2zM146 230l1-1v-2l-1-1-1 1v2zM146 236l1-1v-2l-1-1-1 1v2zM148 140l1-1v-2l-1-1-1 1v2zM148 206l1-1v-2l-1-1-1 1v2zM150 116l1-1v-2l-1-1-1 1v2zM150 140l1-1v-2l-1-1-1 1v2zM150 236l1-1v-2l-1-1-1 1v2zM152 122l1-1v-2l-1-1-1 1v2zM152 134l1-1v-2l-1-1-1 1v2zM152 140l1-1v-2l-1-1-1 1v2zM152 170l1-1v-2l-1-1-1 1v2zM152 182l1-1v-2l-1-1-1 1v2zM152 206l1-1v-2l-1-1-1 1v2zM152 218l1-1v-2l-1-1-1 1v2zM152 242l1-1v-2l-1-1-1 1v2zM154 152l1-1v-2l-1-1-1 1v2zM158 122l1-1v-2l-1-1-1 1v2zM160 152l1-1v-2l-1-1-1 1v2zM162 122l1-1v-2l-1-1-1 1v2zM162 140l1-1v-2l-1-1-1 1v2zM164 152l1-1v-2l-1-1-1 1v2zM11 23l1-1v-2l-1-1-1 1v2zM13 83l1-1v-2l-1-1-1 1v2zM15 83l1-1v-2l-1-1-1 1v2zM17 89l1-1v-2l-1-1-1 1v2zM19 17l1-1v-2l-1-1-1 1v2zM19 71l1-1v-2l-1-1-1 1v2zM21 29l1-1v-2l-1-1-1 1v2zM21 113l1-1v-2l-1-1-1 1v2zM21 155l1-1v-2l-1-1-1 1v2zM23 29l1-1v-2l-1-1-1 1v2zM23 41l1-1v-2l-1-1-1 1v2zM23 53l1-1v-2l-1-1-1 1v2zM23 71l1-1v-2l-1-1-1 1v2zM23 149l1-1v-2l-1-1-1 1v2zM25 83l1-1v-2l-1-1-1 1v2zM25 125l1-1v-2l-1-1-1 1v2zM25 149l1-1v-2l-1-1-1 1v2zM27 29l1-1v-2l-1-1-1 1v2zM27 95l1-1v-2l-1-1-1 1v2zM27 101l1-1v-2l-1-1-1 1v2zM29 35l1-1v-2l-1-1-1 1v2zM29 41l1-1v-2l-1-1-1 1v2zM29 65l1-1v-2l-1-1-1 1v2zM29 101l1-1v-2l-1-1-1 1v2zM29 131l1-1v-2l-1-1-1 1v2zM29 137l1-1v-2l-1-1-1 1v2zM29 167l1-1v-2l-1-1-1 1v2zM31 17l1-1v-2l-1-1-1 1v2zM31 47l1-1v-2l-1-1-1 1v2zM31 107l1-1v-2l-1-1-1 1v2zM31 119l1-1v-2l-1-1-1 1v2zM31 179l1-1v-2l-1-1-1 1v2zM33 23l1-1v-2l-1-1-1 1v2zM33 71l1-1v-2l-1-1-1 1v2zM33 125l1-1v-2l-1-1-1 1v2zM33 143l1-1v-2l-1-1-1 1v2zM33 191l1-1v-2l-1-1-1 1v2zM35 65l1-1v-2l-1-1-1 1v2zM35 95l1-1v-2l-1-1-1 1v2zM35 113l1-1v-2l-1-1-1 1v2zM35 119l1-1v-2l-1-1-1 1v2zM35 179l1-1v-2l-1-1-1 1v2zM35 233l1-1v-2l-1-1-1 1v2zM37 29l1-1v-2l-1-1-1 1v2zM37 119l1-1v-2l-1-1-1 1v2zM37 155l1-1v-2l-1-1-1 1v2zM37 161l1-1v-2l-1-1-1 1v2zM37 191l1-1v-2l-1-1-1 1v2zM37 197l1-1v-2l-1-1-1 1v2zM37 215l1-1v-2l-1-1-1 1v2zM37 233l1-1v-2l-1-1-1 1v2zM39 149l1-1v-2l-1-1-1 1v2zM39 167l1-1v-2l-1-1-1 1v2zM39 191l1-1v-2l-1-1-1 1v2zM39 221l1-1v-2l-1-1-1 1v2zM39 227l1-1v-2l-1-1-1 1v2zM39 251l1-1v-2l-1-1-1 1v2zM41 89l1-1v-2l-1-1-1 1v2zM41 107l1-1v-2l-1-1-1 1v2zM41 155l1-1v-2l-1-1-1 1v2zM41 161l1-1v-2l-1-1-1 1v2zM41 185l1-1v-2l-1-1-1 1v2zM41 209l1-1v-2l-1-1-1 1v2zM41 227l1-1v-2l-1-1-1 1v2zM41 233l1-1v-2l-1-1-1 1v2zM43 59l1-1v-2l-1-1-1 1v2zM43 119l1-1v-2l-1-1-1 1v2zM43 203l1-1v-2l-1-1-1 1v2zM45 29l1-1v-2l-1-1-1 1v2zM45 107l1-1v-2l-1-1-1 1v2zM45 113l1-1v-2l-1-1-1 1v2zM45 131l1-1v-2l-1-1-1 1v2zM45 137l1-1v-2l-1-1-1 1v2zM45 167l1-1v-2l-1-1-1 1v2zM45 173l1-1v-2l-1-1-1 1v2zM45 197l1-1v-2l-1-1-1 1v2zM45 221l1-1v-2l-1-1-1 1v2zM45 227l1-1v-2l-1-1-1 1v2zM47 131l1-1v-2l-1-1-1 1v2zM47 155l1-1v-2l-1-1-1 1v2zM47 173l1-1v-2l-1-1-1 1v2zM47 239l1-1v-2l-1-1-1 1v2zM49 185l1-1v-2l-1-1-1 1v2zM49 197l1-1v-2l-1-1-1 1v2zM49 209l1-1v-2l-1-1-1 1v2zM51 137l1-1v-2l-1-1-1 1v2zM51 197l1-1v-2l-1-1-1 1v2zM51 203l1-1v-2l-1-1-1 1v2zM53 161l1-1v-2l-1-1-1 1v2zM53 209l1-1v-2l-1-1-1 1v2zM53 233l1-1v-2l-1-1-1 1v2zM55 41l1-1v-2l-1-1-1 1v2zM55 197l1-1v-2l-1-1-1 1v2zM55 227l1-1v-2l-1-1-1 1v2zM57 161l1-1v-2l-1-1-1 1v2zM57 227l1-1v-2l-1-1-1 1v2zM59 143l1-1v-2l-1-1-1 1v2zM59 209l1-1v-2l-1-1-1 1v2zM59 215l1-1v-2l-1-1-1 1v2zM59 221l1-1v-2l-1-1-1 1v2zM61 143l1-1v-2l-1-1-1 1v2zM61 149l1-1v-2l-1-1-1 1v2zM61 155l1-1v-2l-1-1-1 1v2zM61 215l1-1v-2l-1-1-1 1v2zM61 221l1-1v-2l-1-1-1 1v2zM61 239l1-1v-2l-1-1-1 1v2zM63 155l1-1v-2l-1-1-1 1v2zM63 161l1-1v-2l-1-1-1 1v2zM63 203l1-1v-2l-1-1-1 1v2zM63 233l1-1v-2l-1-1-1 1v2zM65 143l1-1v-2l-1-1-1 1v2zM67 161l1-1v-2l-1-1-1 1v2zM67 173l1-1v-2l-1-1-1 1v2zM67 203l1-1v-2l-1-1-1 1v2zM67 221l1-1v-2l-1-1-1 1v2zM69 137l1-1v-2l-1-1-1 1v2zM69 143l1-1v-2l-1-1-1 1v2zM69 155l1-1v-2l-1-1-1 1v2zM69 203l1-1v-2l-1-1-1 1v2zM69 233l1-1v-2l-1-1-1 1v2zM71 233l1-1v-2l-1-1-1 1v2zM73 137l1-1v-2l-1-1-1 1v2zM73 173l1-1v-2l-1-1-1 1v2zM73 209l1-1v-2l-1-1-1 1v2zM73 239l1-1v-2l-1-1-1 1v2zM75 167l1-1v-2l-1-1-1 1v2zM77 137l1-1v-2l-1-1-1 1v2zM77 197l1-1v-2l-1-1-1 1v2zM77 221l1-1v-2l-1-1-1 1v2zM77 227l1-1v-2l-1-1-1 1v2zM79 203l1-1v-2l-1-1-1 1v2zM79 245l1-1v-2l-1-1-1 1v2zM81 125l1-1v-2l-1-1-1 1v2zM81 203l1-1v-2l-1-1-1 1v2zM81 215l1-1v-2l-1-1-1 1v2zM81 221l1-1v-2l-1-1-1 1v2zM83 215l1-1v-2l-1-1-1 1v2zM85 155l1-1v-2l-1-1-1 1v2zM85 233l1-1v-2l-1-1-1 1v2zM87 215l1-1v-2l-1-1-1 1v2zM87 221l1-1v-2l-1-1-1 1v2zM89 155l1-1v-2l-1-1-1 1v2zM89 209l1-1v-2l-1-1-1 1v2zM89 215l1-1v-2l-1-1-1 1v2zM91 227l1-1v-2l-1-1-1 1v2zM91 233l1-1v-2l-1-1-1 1v2zM93 119l1-1v-2l-1-1-1 1v2zM93 143l1-1v-2l-1-1-1 1v2zM93 239l1-1v-2l-1-1-1 1v2zM93 263l1-1v-2l-1-1-1 1v2zM95 131l1-1v-2l-1-1-1 1v2zM95 155l1-1v-2l-1-1-1 1v2zM97 131l1-1v-2l-1-1-1 1v2zM97 137l1-1v-2l-1-1-1 1v2zM97 233l1-1v-2l-1-1-1 1v2zM99 221l1-1v-2l-1-1-1 1v2zM99 227l1-1v-2l-1-1-1 1v2zM99 233l1-1v-2l-1-1-1 1v2zM101 155l1-1v-2l-1-1-1 1v2zM101 161l1-1v-2l-1-1-1 1v2zM101 173l1-1v-2l-1-1-1 1v2zM103 107l1-1v-2l-1-1-1 1v2zM103 167l1-1v-2l-1-1-1 1v2zM103 173l1-1v-2l-1-1-1 1v2zM105 143l1-1v-2l-1-1-1 1v2zM105 233l1-1v-2l-1-1-1 1v2zM107 149l1-1v-2l-1-1-1 1v2zM107 227l1-1v-2l-1-1-1 1v2zM111 77l1-1v-2l-1-1-1 1v2zM111 149l1-1v-2l-1-1-1 1v2zM111 209l1-1v-2l-1-1-1 1v2zM111 251l1-1v-2l-1-1-1 1v2zM111 263l1-1v-2l-1-1-1 1v2zM113 143l1-1v-2l-1-1-1 1v2zM115 101l1-1v-2l-1-1-1 1v2zM115 119l1-1v-2l-1-1-1 1v2zM115 143l1-1v-2l-1-1-1 1v2zM115 185l1-1v-2l-1-1-1 1v2zM115 209l1-1v-2l-1-1-1 1v2zM115 245l1-1v-2l-1-1-1 1v2zM117 155l1-1v-2l-1-1-1 1v2zM117 173l1-1v-2l-1-1-1 1v2zM117 227l1-1v-2l-1-1-1 1v2zM119 137l1-1v-2l-1-1-1 1v2zM119 185l1-1v-2l-1-1-1 1v2zM119 197l1-1v-2l-1-1-1 1v2zM119 239l1-1v-2l-1-1-1 1v2zM119 269l1-1v-2l-1-1-1 1v2zM121 197l1-1v-2l-1-1-1 1v2zM121 221l1-1v-2l-1-1-1 1v2zM121 227l1-1v-2l-1-1-1 1v2zM123 161l1-1v-2l-1-1-1 1v2zM123 203l1-1v-2l-1-1-1 1v2zM123 221l1-1v-2l-1-1-1 1v2zM123 239l1-1v-2l-1-1-1 1v2zM125 137l1-1v-2l-1-1-1 1v2zM125 143l1-1v-2l-1-1-1 1v2zM125 173l1-1v-2l-1-1-1 1v2zM125 215l1-1v-2l-1-1-1 1v2zM127 113l1-1v-2l-1-1-1 1v2zM127 125l1-1v-2l-1-1-1 1v2zM127 131l1-1v-2l-1-1-1 1v2zM127 137l1-1v-2l-1-1-1 1v2zM127 173l1-1v-2l-1-1-1 1v2zM129 113l1-1v-2l-1-1-1 1v2zM129 143l1-1v-2l-1-1-1 1v2zM129 173l1-1v-2l-1-1-1 1v2zM129 209l1-1v-2l-1-1-1 1v2zM129 233l1-1v-2l-1-1-1 1v2zM131 119l1-1v-2l-1-1-1 1v2zM131 209l1-1v-2l-1-1-1 1v2zM133 113l1-1v-2l-1-1-1 1v2zM133 155l1-1v-2l-1-1-1 1v2zM133 161l1-1v-2l-1-1-1 1v2zM133 215l1-1v-2l-1-1-1 1v2zM133 227l1-1v-2l-1-1-1 1v2zM135 137l1-1v-2l-1-1-1 1v2zM135 155l1-1v-2l-1-1-1 1v2zM135 215l1-1v-2l-1-1-1 1v2zM135 263l1-1v-2l-1-1-1 1v2zM137 101l1-1v-2l-1-1-1 1v2zM137 161l1-1v-2l-1-1-1 1v2zM137 185l1-1v-2l-1-1-1 1v2zM139 107l1-1v-2l-1-1-1 1v2zM139 143l1-1v-2l-1-1-1 1v2zM139 185l1-1v-2l-1-1-1 1v2zM139 215l1-1v-2l-1-1-1 1v2zM139 227l1-1v-2l-1-1-1 1v2zM139 263l1-1v-2l-1-1-1 1v2zM141 101l1-1v-2l-1-1-1 1v2zM141 155l1-1v-2l-1-1-1 1v2zM141 161l1-1v-2l-1-1-1 1v2zM141 185l1-1v-2l-1-1-1 1v2zM141 191l1-1v-2l-1-1-1 1v2zM141 221l1-1v-2l-1-1-1 1v2zM141 227l1-1v-2l-1-1-1 1v2zM143 143l1-1v-2l-1-1-1 1v2zM143 161l1-1v-2l-1-1-1 1v2zM143 173l1-1v-2l-1-1-1 1v2zM143 239l1-1v-2l-1-1-1 1v2zM145 143l1-1v-2l-1-1-1 1v2zM145 167l1-1v-2l-1-1-1 1v2zM145 173l1-1v-2l-1-1-1 1v2zM145 179l1-1v-2l-1-1-1 1v2zM145 215l1-1v-2l-1-1-1 1v2zM147 119l1-1v-2l-1-1-1 1v2zM147 149l1-1v-2l-1-1-1 1v2zM147 173l1-1v-2l-1-1-1 1v2zM147 197l1-1v-2l-1-1-1 1v2zM147 209l1-1v-2l-1-1-1 1v2zM149 101l1-1v-2l-1-1-1 1v2zM149 107l1-1v-2l-1-1-1 1v2zM149 125l1-1v-2l-1-1-1 1v2zM149 149l1-1v-2l-1-1-1 1v2zM149 155l1-1v-2l-1-1-1 1v2zM149 179l1-1v-2l-1-1-1 1v2zM151 119l1-1v-2l-1-1-1 1v2zM151 125l1-1v-2l-1-1-1 1v2zM151 173l1-1v-2l-1-1-1 1v2zM151 239l1-1v-2l-1-1-1 1v2zM153 149l1-1v-2l-1-1-1 1v2zM155 107l1-1v-2l-1-1-1 1v2zM155 149l1-1v-2l-1-1-1 1v2zM155 179l1-1v-2l-1-1-1 1v2zM159 149l1-1v-2l-1-1-1 1v2zM163 113l1-1v-2l-1-1-1 1v2zM169 131l1-1v-2l-1-1-1 1v2zM183 167l1-1v-2l-1-1-1 1v2z"/>
<path id="h4" d="M16 92l1-1v-2l-1-1-1 1v2zM24 26l1-1v-2l-1-1-1 1v2zM24 62l1-1v-2l-1-1-1 1v2zM24 80l1-1v-2l-1-1-1 1v2zM26 50l1-1v-2l-1-1-1 1v2zM26 68l1-1v-2l-1-1-1 1v2zM26 74l1-1v-2l-1-1-1 1v2zM26 80l1-1v-2l-1-1-1 1v2zM26 92l1-1v-2l-1-1-1 1v2zM28 20l1-1v-2l-1-1-1 1v2zM28 92l1-1v-2l-1-1-1 1v2zM28 104l1-1v-2l-1-1-1 1v2zM28 128l1-1v-2l-1-1-1 1v2zM30 86l1-1v-2l-1-1-1 1v2zM30 110l1-1v-2l-1-1-1 1v2zM30 140l1-1v-2l-1-1-1 1v2zM30 146l1-1v-2l-1-1-1 1v2zM32 26l1-1v-2l-1-1-1 1v2zM32 44l1-1v-2l-1-1-1 1v2zM32 98l1-1v-2l-1-1-1 1v2zM32 104l1-1v-2l-1-1-1 1v2zM32 128l1-1v-2l-1-1-1 1v2zM32 134l1-1v-2l-1-1-1 1v2zM32 146l1-1v-2l-1-1-1 1v2zM34 134l1-1v-2l-1-1-1 1v2zM34 146l1-1v-2l-1-1-1 1v2zM36 74l1-1v-2l-1-1-1 1v2zM36 128l1-1v-2l-1-1-1 1v2zM38 146l1-1v-2l-1-1-1 1v2zM38 182l1-1v-2l-1-1-1 1v2zM40 122l1-1v-2l-1-1-1 1v2zM40 128l1-1v-2l-1-1-1 1v2zM42 122l1-1v-2l-1-1-1 1v2zM42 176l1-1v-2l-1-1-1 1v2zM42 182l1-1v-2l-1-1-1 1v2zM42 200l1-1v-2l-1-1-1 1v2zM42 206l1-1v-2l-1-1-1 1v2zM46 152l1-1v-2l-1-1-1 1v2zM46 170l1-1v-2l-1-1-1 1v2zM46 182l1-1v-2l-1-1-1 1v2zM46 194l1-1v-2l-1-1-1 1v2zM46 230l1-1v-2l-1-1-1 1v2zM48 164l1-1v-2l-1-1-1 1v2zM48 206l1-1v-2l-1-1-1 1v2zM50 128l1-1v-2l-1-1-1 1v2zM52 134l1-1v-2l-1-1-1 1v2zM52 152l1-1v-2l-1-1-1 1v2zM52 158l1-1v-2l-1-1-1 1v2zM52 170l1-1v-2l-1-1-1 1v2zM52 194l1-1v-2l-1-1-1 1v2zM54 146l1-1v-2l-1-1-1 1v2zM54 164l1-1v-2l-1-1-1 1v2zM56 170l1-1v-2l-1-1-1 1v2zM58 176l1-1v-2l-1-1-1 1v2zM58 188l1-1v-2l-1-1-1 1v2zM60 158l1-1v-2l-1-1-1 1v2zM60 194l1-1v-2l-1-1-1 1v2zM62 164l1-1v-2l-1-1-1 1v2zM62 200l1-1v-2l-1-1-1 1v2zM62 206l1-1v-2l-1-1-1 1v2zM64 116l1-1v-2l-1-1-1 1v2zM64 164l1-1v-2l-1-1-1 1v2zM66 188l1-1v-2l-1-1-1 1v2zM68 212l1-1v-2l-1-1-1 1v2zM70 134l1-1v-2l-1-1-1 1v2zM70 158l1-1v-2l-1-1-1 1v2zM70 164l1-1v-2l-1-1-1 1v2zM72 140l1-1v-2l-1-1-1 1v2zM72 146l1-1v-2l-1-1-1 1v2zM72 152l1-1v-2l-1-1-1 1v2zM72 188l1-1v-2l-1-1-1 1v2zM72 206l1-1v-2l-1-1-1 1v2zM72 236l1-1v-2l-1-1-1 1v2zM74 50l1-1v-2l-1-1-1 1v2zM74 128l1-1v-2l-1-1-1 1v2zM74 200l1-1v-2l-1-1-1 1v2zM74 224l1-1v-2l-1-1-1 1v2zM76 86l1-1v-2l-1-1-1 1v2zM76 134l1-1v-2l-1-1-1 1v2zM76 140l1-1v-2l-1-1-1 1v2zM76 194l1-1v-2l-1-1-1 1v2zM78 128l1-1v-2l-1-1-1 1v2zM78 164l1-1v-2l-1-1-1 1v2zM78 200l1-1v-2l-1-1-1 1v2zM78 212l1-1v-2l-1-1-1 1v2zM80 134l1-1v-2l-1-1-1 1v2zM80 158l1-1v-2l-1-1-1 1v2zM80 218l1-1v-2l-1-1-1 1v2zM82 146l1-1v-2l-1-1-1 1v2zM82 194l1-1v-2l-1-1-1 1v2zM82 230l1-1v-2l-1-1-1 1v2zM84 122l1-1v-2l-1-1-1 1v2zM84 266l1-1v-2l-1-1-1 1v2zM86 158l1-1v-2l-1-1-1 1v2zM86 170l1-1v-2l-1-1-1 1v2zM86 206l1-1v-2l-1-1-1 1v2zM88 152l1-1v-2l-1-1-1 1v2zM90 140l1-1v-2l-1-1-1 1v2zM90 158l1-1v-2l-1-1-1 1v2zM92 158l1-1v-2l-1-1-1 1v2zM94 122l1-1v-2l-1-1-1 1v2zM96 170l1-1v-2l-1-1-1 1v2zM96 188l1-1v-2l-1-1-1 1v2zM98 128l1-1v-2l-1-1-1 1v2zM98 158l1-1v-2l-1-1-1 1v2zM98 164l1-1v-2l-1-1-1 1v2zM98 170l1-1v-2l-1-1-1 1v2zM98 176l1-1v-2l-1-1-1 1v2zM98 212l1-1v-2l-1-1-1 1v2zM98 218l1-1v-2l-1-1-1 1v2zM100 122l1-1v-2l-1-1-1 1v2zM100 134l1-1v-2l-1-1-1 1v2zM100 152l1-1v-2l-1-1-1 1v2zM100 182l1-1v-2l-1-1-1 1v2zM100 194l1-1v-2l-1-1-1 1v2zM102 128l1-1v-2l-1-1-1 1v2zM102 152l1-1v-2l-1-1-1 1v2zM102 212l1-1v-2l-1-1-1 1v2zM104 146l1-1v-2l-1-1-1 1v2zM104 164l1-1v-2l-1-1-1 1v2zM104 176l1-1v-2l-1-1-1 1v2zM104 230l1-1v-2l-1-1-1 1v2zM106 158l1-1v-2l-1-1-1 1v2zM106 164l1-1v-2l-1-1-1 1v2zM108 218l1-1v-2l-1-1-1 1v2zM110 212l1-1v-2l-1-1-1 1v2zM110 242l1-1v-2l-1-1-1 1v2zM112 128l1-1v-2l-1-1-1 1v2zM112 152l1-1v-2l-1-1-1 1v2zM112 170l1-1v-2l-1-1-1 1v2zM112 182l1-1v-2l-1-1-1 1v2zM114 110l1-1v-2l-1-1-1 1v2zM114 128l1-1v-2l-1-1-1 1v2zM114 158l1-1v-2l-1-1-1 1v2zM114 164l1-1v-2l-1-1-1 1v2zM116 122l1-1v-2l-1-1-1 1v2zM116 146l1-1v-2l-1-1-1 1v2zM116 182l1-1v-2l-1-1-1 1v2zM116 200l1-1v-2l-1-1-1 1v2zM116 218l1-1v-2l-1-1-1 1v2zM118 128l1-1v-2l-1-1-1 1v2zM118 134l1-1v-2l-1-1-1 1v2zM118 188l1-1v-2l-1-1-1 1v2zM120 86l1-1v-2l-1-1-1 1v2zM120 110l1-1v-2l-1-1-1 1v2zM120 116l1-1v-2l-1-1-1 1v2zM120 122l1-1v-2l-1-1-1 1v2zM120 140l1-1v-2l-1-1-1 1v2zM120 236l1-1v-2l-1-1-1 1v2zM122 116l1-1v-2l-1-1-1 1v2zM122 176l1-1v-2l-1-1-1 1v2zM122 242l1-1v-2l-1-1-1 1v2zM124 98l1-1v-2l-1-1-1 1v2zM124 116l1-1v-2l-1-1-1 1v2zM124 146l1-1v-2l-1-1-1 1v2zM124 176l1-1v-2l-1-1-1 1v2zM124 188l1-1v-2l-1-1-1 1v2zM124 194l1-1v-2l-1-1-1 1v2zM124 236l1-1v-2l-1-1-1 1v2zM126 110l1-1v-2l-1-1-1 1v2zM126 146l1-1v-2l-1-1-1 1v2zM126 212l1-1v-2l-1-1-1 1v2zM128 122l1-1v-2l-1-1-1 1v2zM128 194l1-1v-2l-1-1-1 1v2zM130 122l1-1v-2l-1-1-1 1v2zM130 152l1-1v-2l-1-1-1 1v2zM130 182l1-1v-2l-1-1-1 1v2zM130 212l1-1v-2l-1-1-1 1v2zM130 224l1-1v-2l-1-1-1 1v2zM132 230l1-1v-2l-1-1-1 1v2zM132 236l1-1v-2l-1-1-1 1v2zM134 140l1-1v-2l-1-1-1 1v2zM134 194l1-1v-2l-1-1-1 1v2zM136 176l1-1v-2l-1-1-1 1v2zM136 200l1-1v-2l-1-1-1 1v2zM136 206l1-1v-2l-1-1-1 1v2zM138 104l1-1v-2l-1-1-1 1v2zM138 110l1-1v-2l-1-1-1 1v2zM138 176l1-1v-2l-1-1-1 1v2zM140 98l1-1v-2l-1-1-1 1v2zM140 134l1-1v-2l-1-1-1 1v2zM140 164l1-1v-2l-1-1-1 1v2zM140 206l1-1v-2l-1-1-1 1v2zM140 212l1-1v-2l-1-1-1 1v2zM142 152l1-1v-2l-1-1-1 1v2zM142 182l1-1v-2l-1-1-1 1v2zM142 200l1-1v-2l-1-1-1 1v2zM142 212l1-1v-2l-1-1-1 1v2zM144 98l1-1v-2l-1-1-1 1v2zM144 110l1-1v-2l-1-1-1 1v2zM146 122l1-1v-2l-1-1-1 1v2zM146 158l1-1v-2l-1-1-1 1v2zM146 176l1-1v-2l-1-1-1 1v2zM146 182l1-1v-2l-1-1-1 1v2zM148 194l1-1v-2l-1-1-1 1v2zM148 254l1-1v-2l-1-1-1 1v2zM150 104l1-1v-2l-1-1-1 1v2zM150 176l1-1v-2l-1-1-1 1v2zM152 152l1-1v-2l-1-1-1 1v2zM152 188l1-1v-2l-1-1-1 1v2zM156 140l1-1v-2l-1-1-1 1v2zM19 23l1-1v-2l-1-1-1 1v2zM19 59l1-1v-2l-1-1-1 1v2zM19 89l1-1v-2l-1-1-1 1v2zM25 53l1-1v-2l-1-1-1 1v2zM25 65l1-1v-2l-1-1-1 1v2zM27 17l1-1v-2l-1-1-1 1v2zM27 59l1-1v-2l-1-1-1 1v2zM27 65l1-1v-2l-1-1-1 1v2zM27 71l1-1v-2l-1-1-1 1v2zM27 125l1-1v-2l-1-1-1 1v2zM27 149l1-1v-2l-1-1-1 1v2zM29 17l1-1v-2l-1-1-1 1v2zM29 113l1-1v-2l-1-1-1 1v2zM29 119l1-1v-2l-1-1-1 1v2zM29 149l1-1v-2l-1-1-1 1v2zM31 35l1-1v-2l-1-1-1 1v2zM31 41l1-1v-2l-1-1-1 1v2zM31 65l1-1v-2l-1-1-1 1v2zM31 125l1-1v-2l-1-1-1 1v2zM33 95l1-1v-2l-1-1-1 1v2zM33 119l1-1v-2l-1-1-1 1v2zM35 29l1-1v-2l-1-1-1 1v2zM35 47l1-1v-2l-1-1-1 1v2zM35 131l1-1v-2l-1-1-1 1v2zM35 149l1-1v-2l-1-1-1 1v2zM35 191l1-1v-2l-1-1-1 1v2zM37 95l1-1v-2l-1-1-1 1v2zM37 107l1-1v-2l-1-1-1 1v2zM39 29l1-1v-2l-1-1-1 1v2zM39 95l1-1v-2l-1-1-1 1v2zM39 155l1-1v-2l-1-1-1 1v2zM39 179l1-1v-2l-1-1-1 1v2zM39 185l1-1v-2l-1-1-1 1v2zM39 197l1-1v-2l-1-1-1 1v2zM39 233l1-1v-2l-1-1-1 1v2zM41 125l1-1v-2l-1-1-1 1v2zM41 131l1-1v-2l-1-1-1 1v2zM41 137l1-1v-2l-1-1-1 1v2zM41 221l1-1v-2l-1-1-1 1v2zM43 149l1-1v-2l-1-1-1 1v2zM43 173l1-1v-2l-1-1-1 1v2zM45 71l1-1v-2l-1-1-1 1v2zM45 125l1-1v-2l-1-1-1 1v2zM45 179l1-1v-2l-1-1-1 1v2zM45 185l1-1v-2l-1-1-1 1v2zM45 191l1-1v-2l-1-1-1 1v2zM45 209l1-1v-2l-1-1-1 1v2zM47 65l1-1v-2l-1-1-1 1v2zM47 125l1-1v-2l-1-1-1 1v2zM47 161l1-1v-2l-1-1-1 1v2zM47 179l1-1v-2l-1-1-1 1v2zM47 191l1-1v-2l-1-1-1 1v2zM47 197l1-1v-2l-1-1-1 1v2zM47 221l1-1v-2l-1-1-1 1v2zM49 119l1-1v-2l-1-1-1 1v2zM49 137l1-1v-2l-1-1-1 1v2zM49 215l1-1v-2l-1-1-1 1v2zM49 221l1-1v-2l-1-1-1 1v2zM49 233l1-1v-2l-1-1-1 1v2zM51 149l1-1v-2l-1-1-1 1v2zM51 209l1-1v-2l-1-1-1 1v2zM53 107l1-1v-2l-1-1-1 1v2zM53 149l1-1v-2l-1-1-1 1v2zM53 155l1-1v-2l-1-1-1 1v2zM53 197l1-1v-2l-1-1-1 1v2zM53 215l1-1v-2l-1-1-1 1v2zM55 131l1-1v-2l-1-1-1 1v2zM55 149l1-1v-2l-1-1-1 1v2zM55 173l1-1v-2l-1-1-1 1v2zM55 191l1-1v-2l-1-1-1 1v2zM55 203l1-1v-2l-1-1-1 1v2zM57 137l1-1v-2l-1-1-1 1v2zM57 209l1-1v-2l-1-1-1 1v2zM57 221l1-1v-2l-1-1-1 1v2zM57 233l1-1v-2l-1-1-1 1v2zM59 41l1-1v-2l-1-1-1 1v2zM59 149l1-1v-2l-1-1-1 1v2zM59 233l1-1v-2l-1-1-1 1v2zM61 125l1-1v-2l-1-1-1 1v2zM61 161l1-1v-2l-1-1-1 1v2zM61 203l1-1v-2l-1-1-1 1v2zM61 209l1-1v-2l-1-1-1 1v2zM63 137l1-1v-2l-1-1-1 1v2zM63 209l1-1v-2l-1-1-1 1v2zM63 221l1-1v-2l-1-1-1 1v2zM63 227l1-1v-2l-1-1-1 1v2zM65 131l1-1v-2l-1-1-1 1v2zM65 137l1-1v-2l-1-1-1 1v2zM65 155l1-1v-2l-1-1-1 1v2zM65 203l1-1v-2l-1-1-1 1v2zM65 221l1-1v-2l-1-1-1 1v2zM65 233l1-1v-2l-1-1-1 1v2zM67 137l1-1v-2l-1-1-1 1v2zM67 149l1-1v-2l-1-1-1 1v2zM69 221l1-1v-2l-1-1-1 1v2zM71 185l1-1v-2l-1-1-1 1v2zM71 209l1-1v-2l-1-1-1 1v2zM73 107l1-1v-2l-1-1-1 1v2zM73 119l1-1v-2l-1-1-1 1v2zM73 149l1-1v-2l-1-1-1 1v2zM73 155l1-1v-2l-1-1-1 1v2zM73 161l1-1v-2l-1-1-1 1v2zM73 215l1-1v-2l-1-1-1 1v2zM75 125l1-1v-2l-1-1-1 1v2zM75 155l1-1v-2l-1-1-1 1v2zM75 185l1-1v-2l-1-1-1 1v2zM75 197l1-1v-2l-1-1-1 1v2zM75 209l1-1v-2l-1-1-1 1v2zM77 125l1-1v-2l-1-1-1 1v2zM77 155l1-1v-2l-1-1-1 1v2zM77 209l1-1v-2l-1-1-1 1v2zM77 215l1-1v-2l-1-1-1 1v2zM79 161l1-1v-2l-1-1-1 1v2zM79 197l1-1v-2l-1-1-1 1v2zM79 215l1-1v-2l-1-1-1 1v2zM79 221l1-1v-2l-1-1-1 1v2zM79 239l1-1v-2l-1-1-1 1v2zM81 107l1-1v-2l-1-1-1 1v2zM81 227l1-1v-2l-1-1-1 1v2zM83 101l1-1v-2l-1-1-1 1v2zM83 143l1-1v-2l-1-1-1 1v2zM83 227l1-1v-2l-1-1-1 1v2zM83 233l1-1v-2l-1-1-1 1v2zM85 167l1-1v-2l-1-1-1 1v2zM85 197l1-1v-2l-1-1-1 1v2zM85 215l1-1v-2l-1-1-1 1v2zM87 137l1-1v-2l-1-1-1 1v2zM87 149l1-1v-2l-1-1-1 1v2zM87 227l1-1v-2l-1-1-1 1v2zM87 257l1-1v-2l-1-1-1 1v2zM89 167l1-1v-2l-1-1-1 1v2zM91 215l1-1v-2l-1-1-1 1v2zM93 65l1-1v-2l-1-1-1 1v2zM93 95l1-1v-2l-1-1-1 1v2zM93 131l1-1v-2l-1-1-1 1v2zM93 167l1-1v-2l-1-1-1 1v2zM93 173l1-1v-2l-1-1-1 1v2zM93 221l1-1v-2l-1-1-1 1v2zM93 227l1-1v-2l-1-1-1 1v2zM95 143l1-1v-2l-1-1-1 1v2zM95 167l1-1v-2l-1-1-1 1v2zM95 173l1-1v-2l-1-1-1 1v2zM97 209l1-1v-2l-1-1-1 1v2zM97 227l1-1v-2l-1-1-1 1v2zM99 137l1-1v-2l-1-1-1 1v2zM99 143l1-1v-2l-1-1-1 1v2zM99 155l1-1v-2l-1-1-1 1v2zM103 101l1-1v-2l-1-1-1 1v2zM103 149l1-1v-2l-1-1-1 1v2zM103 185l1-1v-2l-1-1-1 1v2zM103 215l1-1v-2l-1-1-1 1v2zM103 221l1-1v-2l-1-1-1 1v2zM103 227l1-1v-2l-1-1-1 1v2zM105 101l1-1v-2l-1-1-1 1v2zM105 119l1-1v-2l-1-1-1 1v2zM105 131l1-1v-2l-1-1-1 1v2zM105 137l1-1v-2l-1-1-1 1v2zM105 149l1-1v-2l-1-1-1 1v2zM105 227l1-1v-2l-1-1-1 1v2zM107 119l1-1v-2l-1-1-1 1v2zM107 125l1-1v-2l-1-1-1 1v2zM107 143l1-1v-2l-1-1-1 1v2zM107 167l1-1v-2l-1-1-1 1v2zM107 221l1-1v-2l-1-1-1 1v2zM109 167l1-1v-2l-1-1-1 1v2zM109 215l1-1v-2l-1-1-1 1v2zM109 233l1-1v-2l-1-1-1 1v2zM111 125l1-1v-2l-1-1-1 1v2zM113 125l1-1v-2l-1-1-1 1v2zM113 131l1-1v-2l-1-1-1 1v2zM113 137l1-1v-2l-1-1-1 1v2zM113 161l1-1v-2l-1-1-1 1v2zM113 167l1-1v-2l-1-1-1 1v2zM113 173l1-1v-2l-1-1-1 1v2zM115 137l1-1v-2l-1-1-1 1v2zM115 155l1-1v-2l-1-1-1 1v2zM115 227l1-1v-2l-1-1-1 1v2zM115 239l1-1v-2l-1-1-1 1v2zM117 107l1-1v-2l-1-1-1 1v2zM117 167l1-1v-2l-1-1-1 1v2zM117 191l1-1v-2l-1-1-1 1v2zM117 203l1-1v-2l-1-1-1 1v2zM117 221l1-1v-2l-1-1-1 1v2zM119 119l1-1v-2l-1-1-1 1v2zM119 179l1-1v-2l-1-1-1 1v2zM119 191l1-1v-2l-1-1-1 1v2zM121 167l1-1v-2l-1-1-1 1v2zM121 179l1-1v-2l-1-1-1 1v2zM123 107l1-1v-2l-1-1-1 1v2zM123 179l1-1v-2l-1-1-1 1v2zM123 185l1-1v-2l-1-1-1 1v2zM123 233l1-1v-2l-1-1-1 1v2zM125 113l1-1v-2l-1-1-1 1v2zM125 185l1-1v-2l-1-1-1 1v2zM127 191l1-1v-2l-1-1-1 1v2zM127 197l1-1v-2l-1-1-1 1v2zM127 209l1-1v-2l-1-1-1 1v2zM127 227l1-1v-2l-1-1-1 1v2zM127 239l1-1v-2l-1-1-1 1v2zM129 101l1-1v-2l-1-1-1 1v2zM129 137l1-1v-2l-1-1-1 1v2zM129 149l1-1v-2l-1-1-1 1v2zM129 161l1-1v-2l-1-1-1 1v2zM129 179l1-1v-2l-1-1-1 1v2zM129 203l1-1v-2l-1-1-1 1v2zM129 215l1-1v-2l-1-1-1 1v2zM131 131l1-1v-2l-1-1-1 1v2zM131 155l1-1v-2l-1-1-1 1v2zM131 167l1-1v-2l-1-1-1 1v2zM131 179l1-1v-2l-1-1-1 1v2zM131 191l1-1v-2l-1-1-1 1v2zM133 131l1-1v-2l-1-1-1 1v2zM133 143l1-1v-2l-1-1-1 1v2zM133 203l1-1v-2l-1-1-1 1v2zM133 221l1-1v-2l-1-1-1 1v2zM137 131l1-1v-2l-1-1-1 1v2zM137 137l1-1v-2l-1-1-1 1v2zM137 203l1-1v-2l-1-1-1 1v2zM137 215l1-1v-2l-1-1-1 1v2zM139 131l1-1v-2l-1-1-1 1v2zM139 173l1-1v-2l-1-1-1 1v2zM139 191l1-1v-2l-1-1-1 1v2zM139 203l1-1v-2l-1-1-1 1v2zM141 179l1-1v-2l-1-1-1 1v2zM141 197l1-1v-2l-1-1-1 1v2zM141 239l1-1v-2l-1-1-1 1v2zM143 125l1-1v-2l-1-1-1 1v2zM143 137l1-1v-2l-1-1-1 1v2zM143 167l1-1v-2l-1-1-1 1v2zM143 179l1-1v-2l-1-1-1 1v2zM143 185l1-1v-2l-1-1-1 1v2zM143 191l1-1v-2l-1-1-1 1v2zM145 119l1-1v-2l-1-1-1 1v2zM145 125l1-1v-2l-1-1-1 1v2zM145 149l1-1v-2l-1-1-1 1v2zM145 197l1-1v-2l-1-1-1 1v2zM147 131l1-1v-2l-1-1-1 1v2zM149 119l1-1v-2l-1-1-1 1v2zM149 191l1-1v-2l-1-1-1 1v2zM149 215l1-1v-2l-1-1-1 1v2zM151 167l1-1v-2l-1-1-1 1v2zM151 203l1-1v-2l-1-1-1 1v2zM151 233l1-1v-2l-1-1-1 1v2zM153 131l1-1v-2l-1-1-1 1v2zM153 137l1-1v-2l-1-1-1 1v2zM153 173l1-1v-2l-1-1-1 1v2zM163 179l1-1v-2l-1-1-1 1v2z"/>
<path id="h5" d="M22 56l1-1v-2l-1-1-1 1v2zM24 14l1-1v-2l-1-1-1 1v2zM24 20l1-1v-2l-1-1-1 1v2zM26 110l1-1v-2l-1-1-1 1v2zM28 44l1-1v-2l-1-1-1 1v2zM28 68l1-1v-2l-1-1-1 1v2zM28 74l1-1v-2l-1-1-1 1v2zM28 86l1-1v-2l-1-1-1 1v2zM28 116l1-1v-2l-1-1-1 1v2zM28 122l1-1v-2l-1-1-1 1v2zM30 68l1-1v-2l-1-1-1 1v2zM30 80l1-1v-2l-1-1-1 1v2zM32 32l1-1v-2l-1-1-1 1v2zM32 68l1-1v-2l-1-1-1 1v2zM34 26l1-1v-2l-1-1-1 1v2zM34 68l1-1v-2l-1-1-1 1v2zM34 86l1-1v-2l-1-1-1 1v2zM34 122l1-1v-2l-1-1-1 1v2zM34 176l1-1v-2l-1-1-1 1v2zM36 158l1-1v-2l-1-1-1 1v2zM36 170l1-1v-2l-1-1-1 1v2zM36 176l1-1v-2l-1-1-1 1v2zM38 194l1-1v-2l-1-1-1 1v2zM40 38l1-1v-2l-1-1-1 1v2zM40 86l1-1v-2l-1-1-1 1v2zM40 116l1-1v-2l-1-1-1 1v2zM42 38l1-1v-2l-1-1-1 1v2zM42 110l1-1v-2l-1-1-1 1v2zM42 128l1-1v-2l-1-1-1 1v2zM44 86l1-1v-2l-1-1-1 1v2zM44 122l1-1v-2l-1-1-1 1v2zM44 140l1-1v-2l-1-1-1 1v2zM44 158l1-1v-2l-1-1-1 1v2zM44 212l1-1v-2l-1-1-1 1v2zM46 32l1-1v-2l-1-1-1 1v2zM46 122l1-1v-2l-1-1-1 1v2zM46 146l1-1v-2l-1-1-1 1v2zM46 176l1-1v-2l-1-1-1 1v2zM46 212l1-1v-2l-1-1-1 1v2zM48 92l1-1v-2l-1-1-1 1v2zM48 176l1-1v-2l-1-1-1 1v2zM48 188l1-1v-2l-1-1-1 1v2zM48 212l1-1v-2l-1-1-1 1v2zM50 140l1-1v-2l-1-1-1 1v2zM50 152l1-1v-2l-1-1-1 1v2zM50 170l1-1v-2l-1-1-1 1v2zM50 230l1-1v-2l-1-1-1 1v2zM52 116l1-1v-2l-1-1-1 1v2zM52 122l1-1v-2l-1-1-1 1v2zM52 128l1-1v-2l-1-1-1 1v2zM52 140l1-1v-2l-1-1-1 1v2zM52 146l1-1v-2l-1-1-1 1v2zM52 176l1-1v-2l-1-1-1 1v2zM54 110l1-1v-2l-1-1-1 1v2zM54 116l1-1v-2l-1-1-1 1v2zM54 170l1-1v-2l-1-1-1 1v2zM54 188l1-1v-2l-1-1-1 1v2zM56 116l1-1v-2l-1-1-1 1v2zM56 200l1-1v-2l-1-1-1 1v2zM56 206l1-1v-2l-1-1-1 1v2zM56 212l1-1v-2l-1-1-1 1v2zM56 218l1-1v-2l-1-1-1 1v2zM58 134l1-1v-2l-1-1-1 1v2zM58 140l1-1v-2l-1-1-1 1v2zM58 218l1-1v-2l-1-1-1 1v2zM60 116l1-1v-2l-1-1-1 1v2zM60 140l1-1v-2l-1-1-1 1v2zM60 188l1-1v-2l-1-1-1 1v2zM60 206l1-1v-2l-1-1-1 1v2zM60 218l1-1v-2l-1-1-1 1v2zM60 230l1-1v-2l-1-1-1 1v2zM62 116l1-1v-2l-1-1-1 1v2zM62 140l1-1v-2l-1-1-1 1v2zM62 152l1-1v-2l-1-1-1 1v2zM62 236l1-1v-2l-1-1-1 1v2zM64 134l1-1v-2l-1-1-1 1v2zM64 146l1-1v-2l-1-1-1 1v2zM64 158l1-1v-2l-1-1-1 1v2zM64 176l1-1v-2l-1-1-1 1v2zM64 188l1-1v-2l-1-1-1 1v2zM64 194l1-1v-2l-1-1-1 1v2zM66 158l1-1v-2l-1-1-1 1v2zM66 224l1-1v-2l-1-1-1 1v2zM66 230l1-1v-2l-1-1-1 1v2zM68 200l1-1v-2l-1-1-1 1v2zM68 230l1-1v-2l-1-1-1 1v2zM72 176l1-1v-2l-1-1-1 1v2zM72 182l1-1v-2l-1-1-1 1v2zM72 212l1-1v-2l-1-1-1 1v2zM74 164l1-1v-2l-1-1-1 1v2zM74 170l1-1v-2l-1-1-1 1v2zM74 206l1-1v-2l-1-1-1 1v2zM74 212l1-1v-2l-1-1-1 1v2zM76 218l1-1v-2l-1-1-1 1v2zM78 134l1-1v-2l-1-1-1 1v2zM78 158l1-1v-2l-1-1-1 1v2zM78 170l1-1v-2l-1-1-1 1v2zM78 188l1-1v-2l-1-1-1 1v2zM80 116l1-1v-2l-1-1-1 1v2zM80 164l1-1v-2l-1-1-1 1v2zM80 206l1-1v-2l-1-1-1 1v2zM80 230l1-1v-2l-1-1-1 1v2zM82 128l1-1v-2l-1-1-1 1v2zM82 212l1-1v-2l-1-1-1 1v2zM84 86l1-1v-2l-1-1-1 1v2zM84 92l1-1v-2l-1-1-1 1v2zM84 158l1-1v-2l-1-1-1 1v2zM84 218l1-1v-2l-1-1-1 1v2zM86 140l1-1v-2l-1-1-1 1v2zM86 146l1-1v-2l-1-1-1 1v2zM86 212l1-1v-2l-1-1-1 1v2zM88 110l1-1v-2l-1-1-1 1v2zM88 134l1-1v-2l-1-1-1 1v2zM88 140l1-1v-2l-1-1-1 1v2zM88 146l1-1v-2l-1-1-1 1v2zM88 176l1-1v-2l-1-1-1 1v2zM90 122l1-1v-2l-1-1-1 1v2zM90 134l1-1v-2l-1-1-1 1v2zM90 152l1-1v-2l-1-1-1 1v2zM90 164l1-1v-2l-1-1-1 1v2zM90 170l1-1v-2l-1-1-1 1v2zM90 176l1-1v-2l-1-1-1 1v2zM90 182l1-1v-2l-1-1-1 1v2zM92 122l1-1v-2l-1-1-1 1v2zM92 188l1-1v-2l-1-1-1 1v2zM94 86l1-1v-2l-1-1-1 1v2zM94 134l1-1v-2l-1-1-1 1v2zM94 158l1-1v-2l-1-1-1 1v2zM94 170l1-1v-2l-1-1-1 1v2zM94 206l1-1v-2l-1-1-1 1v2zM96 116l1-1v-2l-1-1-1 1v2zM96 146l1-1v-2l-1-1-1 1v2zM96 152l1-1v-2l-1-1-1 1v2zM100 140l1-1v-2l-1-1-1 1v2zM100 170l1-1v-2l-1-1-1 1v2zM100 188l1-1v-2l-1-1-1 1v2zM100 212l1-1v-2l-1-1-1 1v2zM100 230l1-1v-2l-1-1-1 1v2zM102 188l1-1v-2l-1-1-1 1v2zM102 206l1-1v-2l-1-1-1 1v2zM104 158l1-1v-2l-1-1-1 1v2zM106 122l1-1v-2l-1-1-1 1v2zM106 176l1-1v-2l-1-1-1 1v2zM106 200l1-1v-2l-1-1-1 1v2zM108 98l1-1v-2l-1-1-1 1v2zM108 176l1-1v-2l-1-1-1 1v2zM108 188l1-1v-2l-1-1-1 1v2zM108 194l1-1v-2l-1-1-1 1v2zM108 206l1-1v-2l-1-1-1 1v2zM108 230l1-1v-2l-1-1-1 1v2zM110 110l1-1v-2l-1-1-1 1v2zM110 122l1-1v-2l-1-1-1 1v2zM110 146l1-1v-2l-1-1-1 1v2zM110 188l1-1v-2l-1-1-1 1v2zM110 218l1-1v-2l-1-1-1 1v2zM112 92l1-1v-2l-1-1-1 1v2zM112 140l1-1v-2l-1-1-1 1v2zM112 158l1-1v-2l-1-1-1 1v2zM112 224l1-1v-2l-1-1-1 1v2zM114 98l1-1v-2l-1-1-1 1v2zM114 140l1-1v-2l-1-1-1 1v2zM114 152l1-1v-2l-1-1-1 1v2zM114 182l1-1v-2l-1-1-1 1v2zM114 188l1-1v-2l-1-1-1 1v2zM114 206l1-1v-2l-1-1-1 1v2zM116 80l1-1v-2l-1-1-1 1v2zM116 170l1-1v-2l-1-1-1 1v2zM118 86l1-1v-2l-1-1-1 1v2zM118 116l1-1v-2l-1-1-1 1v2zM118 182l1-1v-2l-1-1-1 1v2zM118 230l1-1v-2l-1-1-1 1v2zM120 134l1-1v-2l-1-1-1 1v2zM120 200l1-1v-2l-1-1-1 1v2zM122 104l1-1v-2l-1-1-1 1v2zM122 122l1-1v-2l-1-1-1 1v2zM122 194l1-1v-2l-1-1-1 1v2zM122 206l1-1v-2l-1-1-1 1v2zM122 212l1-1v-2l-1-1-1 1v2zM126 134l1-1v-2l-1-1-1 1v2zM126 164l1-1v-2l-1-1-1 1v2zM126 194l1-1v-2l-1-1-1 1v2zM126 206l1-1v-2l-1-1-1 1v2zM126 218l1-1v-2l-1-1-1 1v2zM128 110l1-1v-2l-1-1-1 1v2zM128 128l1-1v-2l-1-1-1 1v2zM128 134l1-1v-2l-1-1-1 1v2zM128 236l1-1v-2l-1-1-1 1v2zM130 218l1-1v-2l-1-1-1 1v2zM132 110l1-1v-2l-1-1-1 1v2zM132 116l1-1v-2l-1-1-1 1v2zM132 122l1-1v-2l-1-1-1 1v2zM132 128l1-1v-2l-1-1-1 1v2zM132 134l1-1v-2l-1-1-1 1v2zM132 182l1-1v-2l-1-1-1 1v2zM132 194l1-1v-2l-1-1-1 1v2zM132 218l1-1v-2l-1-1-1 1v2zM132 242l1-1v-2l-1-1-1 1v2zM134 122l1-1v-2l-1-1-1 1v2zM134 128l1-1v-2l-1-1-1 1v2zM134 200l1-1v-2l-1-1-1 1v2zM136 116l1-1v-2l-1-1-1 1v2zM136 152l1-1v-2l-1-1-1 1v2zM138 116l1-1v-2l-1-1-1 1v2zM138 128l1-1v-2l-1-1-1 1v2zM138 152l1-1v-2l-1-1-1 1v2zM138 200l1-1v-2l-1-1-1 1v2zM138 206l1-1v-2l-1-1-1 1v2zM140 116l1-1v-2l-1-1-1 1v2zM140 182l1-1v-2l-1-1-1 1v2zM142 158l1-1v-2l-1-1-1 1v2zM144 176l1-1v-2l-1-1-1 1v2zM146 128l1-1v-2l-1-1-1 1v2zM148 110l1-1v-2l-1-1-1 1v2zM148 188l1-1v-2l-1-1-1 1v2zM150 206l1-1v-2l-1-1-1 1v2zM152 128l1-1v-2l-1-1-1 1v2zM152 158l1-1v-2l-1-1-1 1v2zM152 176l1-1v-2l-1-1-1 1v2zM15 35l1-1v-2l-1-1-1 1v2zM17 119l1-1v-2l-1-1-1 1v2zM25 41l1-1v-2l-1-1-1 1v2zM25 71l1-1v-2l-1-1-1 1v2zM27 35l1-1v-2l-1-1-1 1v2zM27 41l1-1v-2l-1-1-1 1v2zM27 47l1-1v-2l-1-1-1 1v2zM27 83l1-1v-2l-1-1-1 1v2zM27 89l1-1v-2l-1-1-1 1v2zM27 113l1-1v-2l-1-1-1 1v2zM29 77l1-1v-2l-1-1-1 1v2zM29 83l1-1v-2l-1-1-1 1v2zM31 29l1-1v-2l-1-1-1 1v2zM31 71l1-1v-2l-1-1-1 1v2zM31 101l1-1v-2l-1-1-1 1v2zM31 155l1-1v-2l-1-1-1 1v2zM33 29l1-1v-2l-1-1-1 1v2zM33 101l1-1v-2l-1-1-1 1v2zM33 113l1-1v-2l-1-1-1 1v2zM35 23l1-1v-2l-1-1-1 1v2zM35 71l1-1v-2l-1-1-1 1v2zM35 83l1-1v-2l-1-1-1 1v2zM35 125l1-1v-2l-1-1-1 1v2zM35 143l1-1v-2l-1-1-1 1v2zM35 167l1-1v-2l-1-1-1 1v2zM37 47l1-1v-2l-1-1-1 1v2zM37 83l1-1v-2l-1-1-1 1v2zM37 143l1-1v-2l-1-1-1 1v2zM37 149l1-1v-2l-1-1-1 1v2zM39 65l1-1v-2l-1-1-1 1v2zM39 101l1-1v-2l-1-1-1 1v2zM39 125l1-1v-2l-1-1-1 1v2zM41 41l1-1v-2l-1-1-1 1v2zM41 113l1-1v-2l-1-1-1 1v2zM41 167l1-1v-2l-1-1-1 1v2zM41 191l1-1v-2l-1-1-1 1v2zM43 95l1-1v-2l-1-1-1 1v2zM43 125l1-1v-2l-1-1-1 1v2zM43 143l1-1v-2l-1-1-1 1v2zM43 161l1-1v-2l-1-1-1 1v2zM43 167l1-1v-2l-1-1-1 1v2zM43 179l1-1v-2l-1-1-1 1v2zM45 143l1-1v-2l-1-1-1 1v2zM47 35l1-1v-2l-1-1-1 1v2zM47 119l1-1v-2l-1-1-1 1v2zM47 137l1-1v-2l-1-1-1 1v2zM47 143l1-1v-2l-1-1-1 1v2zM47 149l1-1v-2l-1-1-1 1v2zM47 209l1-1v-2l-1-1-1 1v2zM49 35l1-1v-2l-1-1-1 1v2zM49 65l1-1v-2l-1-1-1 1v2zM49 125l1-1v-2l-1-1-1 1v2zM49 143l1-1v-2l-1-1-1 1v2zM49 161l1-1v-2l-1-1-1 1v2zM49 179l1-1v-2l-1-1-1 1v2zM49 203l1-1v-2l-1-1-1 1v2zM49 227l1-1v-2l-1-1-1 1v2zM51 35l1-1v-2l-1-1-1 1v2zM51 41l1-1v-2l-1-1-1 1v2zM51 125l1-1v-2l-1-1-1 1v2zM51 179l1-1v-2l-1-1-1 1v2zM53 131l1-1v-2l-1-1-1 1v2zM53 185l1-1v-2l-1-1-1 1v2zM53 191l1-1v-2l-1-1-1 1v2zM55 107l1-1v-2l-1-1-1 1v2zM55 137l1-1v-2l-1-1-1 1v2zM55 185l1-1v-2l-1-1-1 1v2zM57 131l1-1v-2l-1-1-1 1v2zM57 167l1-1v-2l-1-1-1 1v2zM59 47l1-1v-2l-1-1-1 1v2zM59 89l1-1v-2l-1-1-1 1v2zM59 155l1-1v-2l-1-1-1 1v2zM61 41l1-1v-2l-1-1-1 1v2zM61 191l1-1v-2l-1-1-1 1v2zM61 227l1-1v-2l-1-1-1 1v2zM63 47l1-1v-2l-1-1-1 1v2zM65 125l1-1v-2l-1-1-1 1v2zM65 173l1-1v-2l-1-1-1 1v2zM65 191l1-1v-2l-1-1-1 1v2zM65 197l1-1v-2l-1-1-1 1v2zM65 215l1-1v-2l-1-1-1 1v2zM67 155l1-1v-2l-1-1-1 1v2zM67 215l1-1v-2l-1-1-1 1v2zM69 47l1-1v-2l-1-1-1 1v2zM69 125l1-1v-2l-1-1-1 1v2zM69 149l1-1v-2l-1-1-1 1v2zM71 125l1-1v-2l-1-1-1 1v2zM71 131l1-1v-2l-1-1-1 1v2zM71 197l1-1v-2l-1-1-1 1v2zM71 215l1-1v-2l-1-1-1 1v2zM71 221l1-1v-2l-1-1-1 1v2zM73 143l1-1v-2l-1-1-1 1v2zM73 227l1-1v-2l-1-1-1 1v2zM73 233l1-1v-2l-1-1-1 1v2zM75 215l1-1v-2l-1-1-1 1v2zM77 149l1-1v-2l-1-1-1 1v2zM77 203l1-1v-2l-1-1-1 1v2zM79 137l1-1v-2l-1-1-1 1v2zM79 143l1-1v-2l-1-1-1 1v2zM79 149l1-1v-2l-1-1-1 1v2zM79 185l1-1v-2l-1-1-1 1v2zM79 227l1-1v-2l-1-1-1 1v2zM81 101l1-1v-2l-1-1-1 1v2zM81 137l1-1v-2l-1-1-1 1v2zM81 155l1-1v-2l-1-1-1 1v2zM83 137l1-1v-2l-1-1-1 1v2zM83 185l1-1v-2l-1-1-1 1v2zM85 59l1-1v-2l-1-1-1 1v2zM85 137l1-1v-2l-1-1-1 1v2zM85 143l1-1v-2l-1-1-1 1v2zM85 161l1-1v-2l-1-1-1 1v2zM85 185l1-1v-2l-1-1-1 1v2zM87 125l1-1v-2l-1-1-1 1v2zM87 161l1-1v-2l-1-1-1 1v2zM87 167l1-1v-2l-1-1-1 1v2zM87 173l1-1v-2l-1-1-1 1v2zM89 107l1-1v-2l-1-1-1 1v2zM89 173l1-1v-2l-1-1-1 1v2zM89 221l1-1v-2l-1-1-1 1v2zM89 227l1-1v-2l-1-1-1 1v2zM91 137l1-1v-2l-1-1-1 1v2zM91 149l1-1v-2l-1-1-1 1v2zM91 161l1-1v-2l-1-1-1 1v2zM91 203l1-1v-2l-1-1-1 1v2zM93 125l1-1v-2l-1-1-1 1v2zM93 149l1-1v-2l-1-1-1 1v2zM93 155l1-1v-2l-1-1-1 1v2zM93 185l1-1v-2l-1-1-1 1v2zM93 209l1-1v-2l-1-1-1 1v2zM95 137l1-1v-2l-1-1-1 1v2zM95 203l1-1v-2l-1-1-1 1v2zM97 113l1-1v-2l-1-1-1 1v2zM97 173l1-1v-2l-1-1-1 1v2zM97 179l1-1v-2l-1-1-1 1v2zM97 203l1-1v-2l-1-1-1 1v2zM97 215l1-1v-2l-1-1-1 1v2zM99 107l1-1v-2l-1-1-1 1v2zM99 119l1-1v-2l-1-1-1 1v2zM99 167l1-1v-2l-1-1-1 1v2zM99 185l1-1v-2l-1-1-1 1v2zM99 209l1-1v-2l-1-1-1 1v2zM101 137l1-1v-2l-1-1-1 1v2zM101 149l1-1v-2l-1-1-1 1v2zM101 197l1-1v-2l-1-1-1 1v2zM101 203l1-1v-2l-1-1-1 1v2zM103 113l1-1v-2l-1-1-1 1v2zM103 125l1-1v-2l-1-1-1 1v2zM103 143l1-1v-2l-1-1-1 1v2zM103 197l1-1v-2l-1-1-1 1v2zM105 107l1-1v-2l-1-1-1 1v2zM105 179l1-1v-2l-1-1-1 1v2zM107 161l1-1v-2l-1-1-1 1v2zM107 179l1-1v-2l-1-1-1 1v2zM107 215l1-1v-2l-1-1-1 1v2zM111 113l1-1v-2l-1-1-1 1v2zM111 197l1-1v-2l-1-1-1 1v2zM111 203l1-1v-2l-1-1-1 1v2zM111 215l1-1v-2l-1-1-1 1v2zM111 221l1-1v-2l-1-1-1 1v2zM113 107l1-1v-2l-1-1-1 1v2zM113 155l1-1v-2l-1-1-1 1v2zM113 215l1-1v-2l-1-1-1 1v2zM115 233l1-1v-2l-1-1-1 1v2zM117 119l1-1v-2l-1-1-1 1v2zM117 137l1-1v-2l-1-1-1 1v2zM117 197l1-1v-2l-1-1-1 1v2zM119 101l1-1v-2l-1-1-1 1v2zM119 203l1-1v-2l-1-1-1 1v2zM119 227l1-1v-2l-1-1-1 1v2zM121 233l1-1v-2l-1-1-1 1v2zM123 215l1-1v-2l-1-1-1 1v2zM125 95l1-1v-2l-1-1-1 1v2zM125 209l1-1v-2l-1-1-1 1v2zM125 239l1-1v-2l-1-1-1 1v2zM127 107l1-1v-2l-1-1-1 1v2zM127 119l1-1v-2l-1-1-1 1v2zM127 143l1-1v-2l-1-1-1 1v2zM127 149l1-1v-2l-1-1-1 1v2zM127 179l1-1v-2l-1-1-1 1v2zM127 185l1-1v-2l-1-1-1 1v2zM129 131l1-1v-2l-1-1-1 1v2zM129 221l1-1v-2l-1-1-1 1v2zM131 107l1-1v-2l-1-1-1 1v2zM131 125l1-1v-2l-1-1-1 1v2zM131 149l1-1v-2l-1-1-1 1v2zM131 239l1-1v-2l-1-1-1 1v2zM133 125l1-1v-2l-1-1-1 1v2zM133 137l1-1v-2l-1-1-1 1v2zM133 149l1-1v-2l-1-1-1 1v2zM133 167l1-1v-2l-1-1-1 1v2zM133 173l1-1v-2l-1-1-1 1v2zM133 185l1-1v-2l-1-1-1 1v2zM133 197l1-1v-2l-1-1-1 1v2zM133 209l1-1v-2l-1-1-1 1v2zM133 233l1-1v-2l-1-1-1 1v2zM133 239l1-1v-2l-1-1-1 1v2zM135 167l1-1v-2l-1-1-1 1v2zM135 179l1-1v-2l-1-1-1 1v2zM135 191l1-1v-2l-1-1-1 1v2zM137 155l1-1v-2l-1-1-1 1v2zM137 191l1-1v-2l-1-1-1 1v2zM139 125l1-1v-2l-1-1-1 1v2zM139 155l1-1v-2l-1-1-1 1v2zM141 131l1-1v-2l-1-1-1 1v2zM141 137l1-1v-2l-1-1-1 1v2zM141 167l1-1v-2l-1-1-1 1v2zM143 107l1-1v-2l-1-1-1 1v2zM145 107l1-1v-2l-1-1-1 1v2zM145 113l1-1v-2l-1-1-1 1v2zM145 137l1-1v-2l-1-1-1 1v2zM147 113l1-1v-2l-1-1-1 1v2zM147 245l1-1v-2l-1-1-1 1v2zM151 113l1-1v-2l-1-1-1 1v2zM153 107l1-1v-2l-1-1-1 1v2z"/>
<path id="h7" d="M28 98l1-1v-2l-1-1-1 1v2zM30 38l1-1v-2l-1-1-1 1v2zM30 56l1-1v-2l-1-1-1 1v2zM30 62l1-1v-2l-1-1-1 1v2zM32 20l1-1v-2l-1-1-1 1v2zM32 80l1-1v-2l-1-1-1 1v2zM34 20l1-1v-2l-1-1-1 1v2zM34 50l1-1v-2l-1-1-1 1v2zM34 80l1-1v-2l-1-1-1 1v2zM34 104l1-1v-2l-1-1-1 1v2zM36 38l1-1v-2l-1-1-1 1v2zM36 80l1-1v-2l-1-1-1 1v2zM36 116l1-1v-2l-1-1-1 1v2zM38 56l1-1v-2l-1-1-1 1v2zM38 128l1-1v-2l-1-1-1 1v2zM38 236l1-1v-2l-1-1-1 1v2zM40 44l1-1v-2l-1-1-1 1v2zM40 98l1-1v-2l-1-1-1 1v2zM40 104l1-1v-2l-1-1-1 1v2zM40 140l1-1v-2l-1-1-1 1v2zM40 170l1-1v-2l-1-1-1 1v2zM40 230l1-1v-2l-1-1-1 1v2zM42 62l1-1v-2l-1-1-1 1v2zM42 158l1-1v-2l-1-1-1 1v2zM44 92l1-1v-2l-1-1-1 1v2zM44 152l1-1v-2l-1-1-1 1v2zM44 176l1-1v-2l-1-1-1 1v2zM44 200l1-1v-2l-1-1-1 1v2zM46 158l1-1v-2l-1-1-1 1v2zM48 110l1-1v-2l-1-1-1 1v2zM48 116l1-1v-2l-1-1-1 1v2zM48 122l1-1v-2l-1-1-1 1v2zM48 134l1-1v-2l-1-1-1 1v2zM48 170l1-1v-2l-1-1-1 1v2zM50 176l1-1v-2l-1-1-1 1v2zM50 188l1-1v-2l-1-1-1 1v2zM50 212l1-1v-2l-1-1-1 1v2zM52 98l1-1v-2l-1-1-1 1v2zM54 134l1-1v-2l-1-1-1 1v2zM56 38l1-1v-2l-1-1-1 1v2zM56 128l1-1v-2l-1-1-1 1v2zM56 164l1-1v-2l-1-1-1 1v2zM56 176l1-1v-2l-1-1-1 1v2zM58 116l1-1v-2l-1-1-1 1v2zM58 170l1-1v-2l-1-1-1 1v2zM60 110l1-1v-2l-1-1-1 1v2zM60 134l1-1v-2l-1-1-1 1v2zM62 194l1-1v-2l-1-1-1 1v2zM64 44l1-1v-2l-1-1-1 1v2zM64 128l1-1v-2l-1-1-1 1v2zM64 230l1-1v-2l-1-1-1 1v2zM66 128l1-1v-2l-1-1-1 1v2zM66 140l1-1v-2l-1-1-1 1v2zM68 146l1-1v-2l-1-1-1 1v2zM68 164l1-1v-2l-1-1-1 1v2zM68 188l1-1v-2l-1-1-1 1v2zM70 206l1-1v-2l-1-1-1 1v2zM70 212l1-1v-2l-1-1-1 1v2zM74 140l1-1v-2l-1-1-1 1v2zM74 152l1-1v-2l-1-1-1 1v2zM74 176l1-1v-2l-1-1-1 1v2zM74 188l1-1v-2l-1-1-1 1v2zM76 104l1-1v-2l-1-1-1 1v2zM76 110l1-1v-2l-1-1-1 1v2zM76 170l1-1v-2l-1-1-1 1v2zM76 188l1-1v-2l-1-1-1 1v2zM76 212l1-1v-2l-1-1-1 1v2zM76 230l1-1v-2l-1-1-1 1v2zM78 110l1-1v-2l-1-1-1 1v2zM78 194l1-1v-2l-1-1-1 1v2zM80 122l1-1v-2l-1-1-1 1v2zM80 224l1-1v-2l-1-1-1 1v2zM82 116l1-1v-2l-1-1-1 1v2zM82 122l1-1v-2l-1-1-1 1v2zM82 134l1-1v-2l-1-1-1 1v2zM82 140l1-1v-2l-1-1-1 1v2zM84 206l1-1v-2l-1-1-1 1v2zM86 104l1-1v-2l-1-1-1 1v2zM86 152l1-1v-2l-1-1-1 1v2zM86 176l1-1v-2l-1-1-1 1v2zM88 92l1-1v-2l-1-1-1 1v2zM88 128l1-1v-2l-1-1-1 1v2zM88 194l1-1v-2l-1-1-1 1v2zM88 206l1-1v-2l-1-1-1 1v2zM90 188l1-1v-2l-1-1-1 1v2zM92 110l1-1v-2l-1-1-1 1v2zM92 128l1-1v-2l-1-1-1 1v2zM92 140l1-1v-2l-1-1-1 1v2zM92 152l1-1v-2l-1-1-1 1v2zM92 212l1-1v-2l-1-1-1 1v2zM94 152l1-1v-2l-1-1-1 1v2zM94 230l1-1v-2l-1-1-1 1v2zM96 140l1-1v-2l-1-1-1 1v2zM96 182l1-1v-2l-1-1-1 1v2zM96 200l1-1v-2l-1-1-1 1v2zM96 206l1-1v-2l-1-1-1 1v2zM98 86l1-1v-2l-1-1-1 1v2zM98 122l1-1v-2l-1-1-1 1v2zM100 116l1-1v-2l-1-1-1 1v2zM102 140l1-1v-2l-1-1-1 1v2zM102 164l1-1v-2l-1-1-1 1v2zM102 176l1-1v-2l-1-1-1 1v2zM102 194l1-1v-2l-1-1-1 1v2zM104 110l1-1v-2l-1-1-1 1v2zM104 134l1-1v-2l-1-1-1 1v2zM104 152l1-1v-2l-1-1-1 1v2zM104 182l1-1v-2l-1-1-1 1v2zM104 188l1-1v-2l-1-1-1 1v2zM104 212l1-1v-2l-1-1-1 1v2zM106 116l1-1v-2l-1-1-1 1v2zM106 128l1-1v-2l-1-1-1 1v2zM106 194l1-1v-2l-1-1-1 1v2zM106 212l1-1v-2l-1-1-1 1v2zM108 164l1-1v-2l-1-1-1 1v2zM108 212l1-1v-2l-1-1-1 1v2zM110 170l1-1v-2l-1-1-1 1v2zM110 194l1-1v-2l-1-1-1 1v2zM110 200l1-1v-2l-1-1-1 1v2zM112 110l1-1v-2l-1-1-1 1v2zM114 104l1-1v-2l-1-1-1 1v2zM114 146l1-1v-2l-1-1-1 1v2zM116 116l1-1v-2l-1-1-1 1v2zM116 140l1-1v-2l-1-1-1 1v2zM116 152l1-1v-2l-1-1-1 1v2zM118 140l1-1v-2l-1-1-1 1v2zM118 152l1-1v-2l-1-1-1 1v2zM118 194l1-1v-2l-1-1-1 1v2zM120 164l1-1v-2l-1-1-1 1v2zM120 176l1-1v-2l-1-1-1 1v2zM120 194l1-1v-2l-1-1-1 1v2zM122 86l1-1v-2l-1-1-1 1v2zM122 140l1-1v-2l-1-1-1 1v2zM124 104l1-1v-2l-1-1-1 1v2zM124 122l1-1v-2l-1-1-1 1v2zM124 134l1-1v-2l-1-1-1 1v2zM124 152l1-1v-2l-1-1-1 1v2zM124 218l1-1v-2l-1-1-1 1v2zM126 188l1-1v-2l-1-1-1 1v2zM128 104l1-1v-2l-1-1-1 1v2zM128 158l1-1v-2l-1-1-1 1v2zM130 92l1-1v-2l-1-1-1 1v2zM130 194l1-1v-2l-1-1-1 1v2zM140 110l1-1v-2l-1-1-1 1v2zM140 122l1-1v-2l-1-1-1 1v2zM142 104l1-1v-2l-1-1-1 1v2zM148 128l1-1v-2l-1-1-1 1v2zM150 128l1-1v-2l-1-1-1 1v2zM152 104l1-1v-2l-1-1-1 1v2zM154 110l1-1v-2l-1-1-1 1v2zM154 128l1-1v-2l-1-1-1 1v2zM27 23l1-1v-2l-1-1-1 1v2zM27 53l1-1v-2l-1-1-1 1v2zM29 47l1-1v-2l-1-1-1 1v2zM29 71l1-1v-2l-1-1-1 1v2zM31 23l1-1v-2l-1-1-1 1v2zM31 77l1-1v-2l-1-1-1 1v2zM31 113l1-1v-2l-1-1-1 1v2zM31 149l1-1v-2l-1-1-1 1v2zM33 41l1-1v-2l-1-1-1 1v2zM33 47l1-1v-2l-1-1-1 1v2zM33 65l1-1v-2l-1-1-1 1v2zM33 77l1-1v-2l-1-1-1 1v2zM35 77l1-1v-2l-1-1-1 1v2zM37 65l1-1v-2l-1-1-1 1v2zM37 227l1-1v-2l-1-1-1 1v2zM39 35l1-1v-2l-1-1-1 1v2zM39 131l1-1v-2l-1-1-1 1v2zM41 29l1-1v-2l-1-1-1 1v2zM41 65l1-1v-2l-1-1-1 1v2zM41 77l1-1v-2l-1-1-1 1v2zM43 71l1-1v-2l-1-1-1 1v2zM43 185l1-1v-2l-1-1-1 1v2zM43 209l1-1v-2l-1-1-1 1v2zM45 155l1-1v-2l-1-1-1 1v2zM45 215l1-1v-2l-1-1-1 1v2zM47 233l1-1v-2l-1-1-1 1v2zM49 131l1-1v-2l-1-1-1 1v2zM49 173l1-1v-2l-1-1-1 1v2zM51 173l1-1v-2l-1-1-1 1v2zM51 185l1-1v-2l-1-1-1 1v2zM53 35l1-1v-2l-1-1-1 1v2zM53 143l1-1v-2l-1-1-1 1v2zM53 167l1-1v-2l-1-1-1 1v2zM55 47l1-1v-2l-1-1-1 1v2zM55 155l1-1v-2l-1-1-1 1v2zM55 167l1-1v-2l-1-1-1 1v2zM55 233l1-1v-2l-1-1-1 1v2zM57 47l1-1v-2l-1-1-1 1v2zM59 203l1-1v-2l-1-1-1 1v2zM59 227l1-1v-2l-1-1-1 1v2zM61 167l1-1v-2l-1-1-1 1v2zM61 173l1-1v-2l-1-1-1 1v2zM61 185l1-1v-2l-1-1-1 1v2zM61 233l1-1v-2l-1-1-1 1v2zM63 149l1-1v-2l-1-1-1 1v2zM65 101l1-1v-2l-1-1-1 1v2zM65 167l1-1v-2l-1-1-1 1v2zM67 131l1-1v-2l-1-1-1 1v2zM67 143l1-1v-2l-1-1-1 1v2zM67 167l1-1v-2l-1-1-1 1v2zM67 197l1-1v-2l-1-1-1 1v2zM69 197l1-1v-2l-1-1-1 1v2zM71 149l1-1v-2l-1-1-1 1v2zM71 203l1-1v-2l-1-1-1 1v2zM73 131l1-1v-2l-1-1-1 1v2zM73 191l1-1v-2l-1-1-1 1v2zM73 203l1-1v-2l-1-1-1 1v2zM75 161l1-1v-2l-1-1-1 1v2zM75 203l1-1v-2l-1-1-1 1v2zM77 119l1-1v-2l-1-1-1 1v2zM77 161l1-1v-2l-1-1-1 1v2zM77 167l1-1v-2l-1-1-1 1v2zM79 119l1-1v-2l-1-1-1 1v2zM79 125l1-1v-2l-1-1-1 1v2zM81 143l1-1v-2l-1-1-1 1v2zM81 149l1-1v-2l-1-1-1 1v2zM81 167l1-1v-2l-1-1-1 1v2zM83 125l1-1v-2l-1-1-1 1v2zM83 155l1-1v-2l-1-1-1 1v2zM83 173l1-1v-2l-1-1-1 1v2zM85 173l1-1v-2l-1-1-1 1v2zM85 203l1-1v-2l-1-1-1 1v2zM87 203l1-1v-2l-1-1-1 1v2zM87 209l1-1v-2l-1-1-1 1v2zM89 131l1-1v-2l-1-1-1 1v2zM91 155l1-1v-2l-1-1-1 1v2zM91 167l1-1v-2l-1-1-1 1v2zM93 107l1-1v-2l-1-1-1 1v2zM95 71l1-1v-2l-1-1-1 1v2zM95 101l1-1v-2l-1-1-1 1v2zM95 209l1-1v-2l-1-1-1 1v2zM97 221l1-1v-2l-1-1-1 1v2zM99 131l1-1v-2l-1-1-1 1v2zM99 161l1-1v-2l-1-1-1 1v2zM101 107l1-1v-2l-1-1-1 1v2zM101 215l1-1v-2l-1-1-1 1v2zM101 221l1-1v-2l-1-1-1 1v2zM103 209l1-1v-2l-1-1-1 1v2zM105 95l1-1v-2l-1-1-1 1v2zM105 125l1-1v-2l-1-1-1 1v2zM105 197l1-1v-2l-1-1-1 1v2zM105 203l1-1v-2l-1-1-1 1v2zM107 107l1-1v-2l-1-1-1 1v2zM109 77l1-1v-2l-1-1-1 1v2zM109 131l1-1v-2l-1-1-1 1v2zM109 179l1-1v-2l-1-1-1 1v2zM109 209l1-1v-2l-1-1-1 1v2zM111 101l1-1v-2l-1-1-1 1v2zM111 107l1-1v-2l-1-1-1 1v2zM111 119l1-1v-2l-1-1-1 1v2zM111 155l1-1v-2l-1-1-1 1v2zM111 167l1-1v-2l-1-1-1 1v2zM113 203l1-1v-2l-1-1-1 1v2zM117 83l1-1v-2l-1-1-1 1v2zM117 113l1-1v-2l-1-1-1 1v2zM117 131l1-1v-2l-1-1-1 1v2zM117 149l1-1v-2l-1-1-1 1v2zM117 185l1-1v-2l-1-1-1 1v2zM117 209l1-1v-2l-1-1-1 1v2zM117 239l1-1v-2l-1-1-1 1v2zM119 149l1-1v-2l-1-1-1 1v2zM121 125l1-1v-2l-1-1-1 1v2zM121 149l1-1v-2l-1-1-1 1v2zM121 185l1-1v-2l-1-1-1 1v2zM123 173l1-1v-2l-1-1-1 1v2zM125 101l1-1v-2l-1-1-1 1v2zM125 107l1-1v-2l-1-1-1 1v2zM125 197l1-1v-2l-1-1-1 1v2zM129 107l1-1v-2l-1-1-1 1v2zM129 125l1-1v-2l-1-1-1 1v2zM129 197l1-1v-2l-1-1-1 1v2zM131 137l1-1v-2l-1-1-1 1v2zM131 185l1-1v-2l-1-1-1 1v2zM133 95l1-1v-2l-1-1-1 1v2zM133 179l1-1v-2l-1-1-1 1v2zM135 107l1-1v-2l-1-1-1 1v2zM135 125l1-1v-2l-1-1-1 1v2zM135 131l1-1v-2l-1-1-1 1v2zM135 149l1-1v-2l-1-1-1 1v2zM135 203l1-1v-2l-1-1-1 1v2zM137 119l1-1v-2l-1-1-1 1v2zM137 143l1-1v-2l-1-1-1 1v2zM141 107l1-1v-2l-1-1-1 1v2zM143 113l1-1v-2l-1-1-1 1v2zM143 119l1-1v-2l-1-1-1 1v2zM143 131l1-1v-2l-1-1-1 1v2zM143 149l1-1v-2l-1-1-1 1v2zM143 197l1-1v-2l-1-1-1 1v2zM145 239l1-1v-2l-1-1-1 1v2zM147 101l1-1v-2l-1-1-1 1v2zM147 107l1-1v-2l-1-1-1 1v2zM147 143l1-1v-2l-1-1-1 1v2zM149 113l1-1v-2l-1-1-1 1v2zM153 161l1-1v-2l-1-1-1 1v2z"/>
<path id="h8" d="M32 50l1-1v-2l-1-1-1 1v2zM32 56l1-1v-2l-1-1-1 1v2zM32 62l1-1v-2l-1-1-1 1v2zM32 74l1-1v-2l-1-1-1 1v2zM34 128l1-1v-2l-1-1-1 1v2zM36 86l1-1v-2l-1-1-1 1v2zM36 110l1-1v-2l-1-1-1 1v2zM38 32l1-1v-2l-1-1-1 1v2zM38 62l1-1v-2l-1-1-1 1v2zM38 110l1-1v-2l-1-1-1 1v2zM38 176l1-1v-2l-1-1-1 1v2zM40 74l1-1v-2l-1-1-1 1v2zM40 110l1-1v-2l-1-1-1 1v2zM42 50l1-1v-2l-1-1-1 1v2zM46 98l1-1v-2l-1-1-1 1v2zM46 128l1-1v-2l-1-1-1 1v2zM48 44l1-1v-2l-1-1-1 1v2zM50 44l1-1v-2l-1-1-1 1v2zM50 86l1-1v-2l-1-1-1 1v2zM50 116l1-1v-2l-1-1-1 1v2zM52 38l1-1v-2l-1-1-1 1v2zM54 38l1-1v-2l-1-1-1 1v2zM54 140l1-1v-2l-1-1-1 1v2zM54 176l1-1v-2l-1-1-1 1v2zM58 128l1-1v-2l-1-1-1 1v2zM58 200l1-1v-2l-1-1-1 1v2zM60 152l1-1v-2l-1-1-1 1v2zM60 164l1-1v-2l-1-1-1 1v2zM62 122l1-1v-2l-1-1-1 1v2zM62 176l1-1v-2l-1-1-1 1v2zM62 188l1-1v-2l-1-1-1 1v2zM66 134l1-1v-2l-1-1-1 1v2zM66 164l1-1v-2l-1-1-1 1v2zM66 170l1-1v-2l-1-1-1 1v2zM68 122l1-1v-2l-1-1-1 1v2zM70 110l1-1v-2l-1-1-1 1v2zM70 122l1-1v-2l-1-1-1 1v2zM70 170l1-1v-2l-1-1-1 1v2zM70 182l1-1v-2l-1-1-1 1v2zM72 164l1-1v-2l-1-1-1 1v2zM72 218l1-1v-2l-1-1-1 1v2zM74 194l1-1v-2l-1-1-1 1v2zM76 164l1-1v-2l-1-1-1 1v2zM78 122l1-1v-2l-1-1-1 1v2zM80 176l1-1v-2l-1-1-1 1v2zM80 188l1-1v-2l-1-1-1 1v2zM80 200l1-1v-2l-1-1-1 1v2zM82 206l1-1v-2l-1-1-1 1v2zM84 140l1-1v-2l-1-1-1 1v2zM84 152l1-1v-2l-1-1-1 1v2zM84 194l1-1v-2l-1-1-1 1v2zM86 116l1-1v-2l-1-1-1 1v2zM86 128l1-1v-2l-1-1-1 1v2zM86 164l1-1v-2l-1-1-1 1v2zM86 182l1-1v-2l-1-1-1 1v2zM88 104l1-1v-2l-1-1-1 1v2zM90 116l1-1v-2l-1-1-1 1v2zM92 86l1-1v-2l-1-1-1 1v2zM92 116l1-1v-2l-1-1-1 1v2zM94 104l1-1v-2l-1-1-1 1v2zM94 110l1-1v-2l-1-1-1 1v2zM94 128l1-1v-2l-1-1-1 1v2zM94 140l1-1v-2l-1-1-1 1v2zM94 164l1-1v-2l-1-1-1 1v2zM94 176l1-1v-2l-1-1-1 1v2zM98 152l1-1v-2l-1-1-1 1v2zM98 200l1-1v-2l-1-1-1 1v2zM100 86l1-1v-2l-1-1-1 1v2zM100 110l1-1v-2l-1-1-1 1v2zM100 218l1-1v-2l-1-1-1 1v2zM102 146l1-1v-2l-1-1-1 1v2zM102 182l1-1v-2l-1-1-1 1v2zM102 200l1-1v-2l-1-1-1 1v2zM104 170l1-1v-2l-1-1-1 1v2zM106 110l1-1v-2l-1-1-1 1v2zM108 110l1-1v-2l-1-1-1 1v2zM110 98l1-1v-2l-1-1-1 1v2zM110 206l1-1v-2l-1-1-1 1v2zM112 194l1-1v-2l-1-1-1 1v2zM114 122l1-1v-2l-1-1-1 1v2zM114 134l1-1v-2l-1-1-1 1v2zM114 176l1-1v-2l-1-1-1 1v2zM116 110l1-1v-2l-1-1-1 1v2zM116 128l1-1v-2l-1-1-1 1v2zM116 134l1-1v-2l-1-1-1 1v2zM116 176l1-1v-2l-1-1-1 1v2zM116 206l1-1v-2l-1-1-1 1v2zM116 212l1-1v-2l-1-1-1 1v2zM118 122l1-1v-2l-1-1-1 1v2zM118 146l1-1v-2l-1-1-1 1v2zM118 176l1-1v-2l-1-1-1 1v2zM118 200l1-1v-2l-1-1-1 1v2zM120 128l1-1v-2l-1-1-1 1v2zM120 158l1-1v-2l-1-1-1 1v2zM120 182l1-1v-2l-1-1-1 1v2zM120 212l1-1v-2l-1-1-1 1v2zM122 218l1-1v-2l-1-1-1 1v2zM124 110l1-1v-2l-1-1-1 1v2zM126 98l1-1v-2l-1-1-1 1v2zM128 116l1-1v-2l-1-1-1 1v2zM128 200l1-1v-2l-1-1-1 1v2zM130 116l1-1v-2l-1-1-1 1v2zM130 146l1-1v-2l-1-1-1 1v2zM132 140l1-1v-2l-1-1-1 1v2zM132 206l1-1v-2l-1-1-1 1v2zM134 104l1-1v-2l-1-1-1 1v2zM134 110l1-1v-2l-1-1-1 1v2zM136 104l1-1v-2l-1-1-1 1v2zM136 110l1-1v-2l-1-1-1 1v2zM136 188l1-1v-2l-1-1-1 1v2zM138 98l1-1v-2l-1-1-1 1v2zM138 122l1-1v-2l-1-1-1 1v2zM140 224l1-1v-2l-1-1-1 1v2zM142 236l1-1v-2l-1-1-1 1v2zM144 122l1-1v-2l-1-1-1 1v2zM148 122l1-1v-2l-1-1-1 1v2zM152 110l1-1v-2l-1-1-1 1v2zM25 77l1-1v-2l-1-1-1 1v2zM29 95l1-1v-2l-1-1-1 1v2zM31 59l1-1v-2l-1-1-1 1v2zM31 89l1-1v-2l-1-1-1 1v2zM31 137l1-1v-2l-1-1-1 1v2zM33 35l1-1v-2l-1-1-1 1v2zM33 53l1-1v-2l-1-1-1 1v2zM33 59l1-1v-2l-1-1-1 1v2zM35 53l1-1v-2l-1-1-1 1v2zM37 77l1-1v-2l-1-1-1 1v2zM37 89l1-1v-2l-1-1-1 1v2zM37 173l1-1v-2l-1-1-1 1v2zM37 185l1-1v-2l-1-1-1 1v2zM39 41l1-1v-2l-1-1-1 1v2zM41 35l1-1v-2l-1-1-1 1v2zM41 71l1-1v-2l-1-1-1 1v2zM43 65l1-1v-2l-1-1-1 1v2zM43 107l1-1v-2l-1-1-1 1v2zM45 41l1-1v-2l-1-1-1 1v2zM45 149l1-1v-2l-1-1-1 1v2zM47 47l1-1v-2l-1-1-1 1v2zM47 59l1-1v-2l-1-1-1 1v2zM47 71l1-1v-2l-1-1-1 1v2zM47 203l1-1v-2l-1-1-1 1v2zM49 113l1-1v-2l-1-1-1 1v2zM49 155l1-1v-2l-1-1-1 1v2zM51 119l1-1v-2l-1-1-1 1v2zM53 89l1-1v-2l-1-1-1 1v2zM55 65l1-1v-2l-1-1-1 1v2zM55 125l1-1v-2l-1-1-1 1v2zM57 149l1-1v-2l-1-1-1 1v2zM57 179l1-1v-2l-1-1-1 1v2zM57 197l1-1v-2l-1-1-1 1v2zM59 119l1-1v-2l-1-1-1 1v2zM59 137l1-1v-2l-1-1-1 1v2zM59 167l1-1v-2l-1-1-1 1v2zM61 137l1-1v-2l-1-1-1 1v2zM63 101l1-1v-2l-1-1-1 1v2zM63 119l1-1v-2l-1-1-1 1v2zM63 125l1-1v-2l-1-1-1 1v2zM65 149l1-1v-2l-1-1-1 1v2zM67 209l1-1v-2l-1-1-1 1v2zM69 167l1-1v-2l-1-1-1 1v2zM69 191l1-1v-2l-1-1-1 1v2zM71 107l1-1v-2l-1-1-1 1v2zM71 155l1-1v-2l-1-1-1 1v2zM73 197l1-1v-2l-1-1-1 1v2zM75 131l1-1v-2l-1-1-1 1v2zM75 179l1-1v-2l-1-1-1 1v2zM77 53l1-1v-2l-1-1-1 1v2zM77 95l1-1v-2l-1-1-1 1v2zM77 107l1-1v-2l-1-1-1 1v2zM77 143l1-1v-2l-1-1-1 1v2zM77 191l1-1v-2l-1-1-1 1v2zM79 155l1-1v-2l-1-1-1 1v2zM79 167l1-1v-2l-1-1-1 1v2zM81 95l1-1v-2l-1-1-1 1v2zM81 173l1-1v-2l-1-1-1 1v2zM83 179l1-1v-2l-1-1-1 1v2zM85 107l1-1v-2l-1-1-1 1v2zM85 125l1-1v-2l-1-1-1 1v2zM87 95l1-1v-2l-1-1-1 1v2zM87 107l1-1v-2l-1-1-1 1v2zM87 185l1-1v-2l-1-1-1 1v2zM87 191l1-1v-2l-1-1-1 1v2zM89 113l1-1v-2l-1-1-1 1v2zM89 149l1-1v-2l-1-1-1 1v2zM91 101l1-1v-2l-1-1-1 1v2zM91 113l1-1v-2l-1-1-1 1v2zM91 197l1-1v-2l-1-1-1 1v2zM93 89l1-1v-2l-1-1-1 1v2zM93 101l1-1v-2l-1-1-1 1v2zM93 203l1-1v-2l-1-1-1 1v2zM95 107l1-1v-2l-1-1-1 1v2zM95 125l1-1v-2l-1-1-1 1v2zM95 197l1-1v-2l-1-1-1 1v2zM97 77l1-1v-2l-1-1-1 1v2zM97 167l1-1v-2l-1-1-1 1v2zM97 185l1-1v-2l-1-1-1 1v2zM99 149l1-1v-2l-1-1-1 1v2zM99 179l1-1v-2l-1-1-1 1v2zM99 197l1-1v-2l-1-1-1 1v2zM99 203l1-1v-2l-1-1-1 1v2zM101 71l1-1v-2l-1-1-1 1v2zM101 185l1-1v-2l-1-1-1 1v2zM101 209l1-1v-2l-1-1-1 1v2zM105 113l1-1v-2l-1-1-1 1v2zM105 185l1-1v-2l-1-1-1 1v2zM107 137l1-1v-2l-1-1-1 1v2zM109 149l1-1v-2l-1-1-1 1v2zM109 185l1-1v-2l-1-1-1 1v2zM109 203l1-1v-2l-1-1-1 1v2zM111 185l1-1v-2l-1-1-1 1v2zM111 191l1-1v-2l-1-1-1 1v2zM113 101l1-1v-2l-1-1-1 1v2zM113 113l1-1v-2l-1-1-1 1v2zM113 191l1-1v-2l-1-1-1 1v2zM113 197l1-1v-2l-1-1-1 1v2zM115 95l1-1v-2l-1-1-1 1v2zM115 113l1-1v-2l-1-1-1 1v2zM115 215l1-1v-2l-1-1-1 1v2zM117 101l1-1v-2l-1-1-1 1v2zM117 143l1-1v-2l-1-1-1 1v2zM117 215l1-1v-2l-1-1-1 1v2zM119 95l1-1v-2l-1-1-1 1v2zM119 131l1-1v-2l-1-1-1 1v2zM119 143l1-1v-2l-1-1-1 1v2zM119 209l1-1v-2l-1-1-1 1v2zM121 113l1-1v-2l-1-1-1 1v2zM121 119l1-1v-2l-1-1-1 1v2zM121 131l1-1v-2l-1-1-1 1v2zM121 137l1-1v-2l-1-1-1 1v2zM121 215l1-1v-2l-1-1-1 1v2zM123 143l1-1v-2l-1-1-1 1v2zM123 209l1-1v-2l-1-1-1 1v2zM125 155l1-1v-2l-1-1-1 1v2zM125 191l1-1v-2l-1-1-1 1v2zM129 119l1-1v-2l-1-1-1 1v2zM129 155l1-1v-2l-1-1-1 1v2zM129 191l1-1v-2l-1-1-1 1v2zM131 215l1-1v-2l-1-1-1 1v2zM133 101l1-1v-2l-1-1-1 1v2zM133 107l1-1v-2l-1-1-1 1v2zM133 119l1-1v-2l-1-1-1 1v2zM135 95l1-1v-2l-1-1-1 1v2zM135 143l1-1v-2l-1-1-1 1v2zM137 107l1-1v-2l-1-1-1 1v2zM137 239l1-1v-2l-1-1-1 1v2zM141 113l1-1v-2l-1-1-1 1v2zM141 119l1-1v-2l-1-1-1 1v2zM145 101l1-1v-2l-1-1-1 1v2zM147 137l1-1v-2l-1-1-1 1v2z"/>
<path id="h9" d="M28 56l1-1v-2l-1-1-1 1v2zM30 50l1-1v-2l-1-1-1 1v2zM32 92l1-1v-2l-1-1-1 1v2zM34 44l1-1v-2l-1-1-1 1v2zM34 74l1-1v-2l-1-1-1 1v2zM34 92l1-1v-2l-1-1-1 1v2zM36 56l1-1v-2l-1-1-1 1v2zM36 92l1-1v-2l-1-1-1 1v2zM38 26l1-1v-2l-1-1-1 1v2zM38 44l1-1v-2l-1-1-1 1v2zM38 80l1-1v-2l-1-1-1 1v2zM38 86l1-1v-2l-1-1-1 1v2zM38 116l1-1v-2l-1-1-1 1v2zM40 56l1-1v-2l-1-1-1 1v2zM40 80l1-1v-2l-1-1-1 1v2zM42 44l1-1v-2l-1-1-1 1v2zM42 80l1-1v-2l-1-1-1 1v2zM42 98l1-1v-2l-1-1-1 1v2zM44 38l1-1v-2l-1-1-1 1v2zM44 56l1-1v-2l-1-1-1 1v2zM44 98l1-1v-2l-1-1-1 1v2zM44 116l1-1v-2l-1-1-1 1v2zM44 164l1-1v-2l-1-1-1 1v2zM46 44l1-1v-2l-1-1-1 1v2zM46 68l1-1v-2l-1-1-1 1v2zM46 86l1-1v-2l-1-1-1 1v2zM46 104l1-1v-2l-1-1-1 1v2zM46 116l1-1v-2l-1-1-1 1v2zM48 50l1-1v-2l-1-1-1 1v2zM48 80l1-1v-2l-1-1-1 1v2zM50 68l1-1v-2l-1-1-1 1v2zM50 110l1-1v-2l-1-1-1 1v2zM54 194l1-1v-2l-1-1-1 1v2zM56 122l1-1v-2l-1-1-1 1v2zM58 182l1-1v-2l-1-1-1 1v2zM60 98l1-1v-2l-1-1-1 1v2zM60 122l1-1v-2l-1-1-1 1v2zM60 182l1-1v-2l-1-1-1 1v2zM64 56l1-1v-2l-1-1-1 1v2zM66 146l1-1v-2l-1-1-1 1v2zM66 152l1-1v-2l-1-1-1 1v2zM70 176l1-1v-2l-1-1-1 1v2zM72 128l1-1v-2l-1-1-1 1v2zM72 170l1-1v-2l-1-1-1 1v2zM74 116l1-1v-2l-1-1-1 1v2zM76 116l1-1v-2l-1-1-1 1v2zM76 128l1-1v-2l-1-1-1 1v2zM76 152l1-1v-2l-1-1-1 1v2zM76 158l1-1v-2l-1-1-1 1v2zM76 200l1-1v-2l-1-1-1 1v2zM78 140l1-1v-2l-1-1-1 1v2zM80 98l1-1v-2l-1-1-1 1v2zM80 194l1-1v-2l-1-1-1 1v2zM82 170l1-1v-2l-1-1-1 1v2zM82 218l1-1v-2l-1-1-1 1v2zM84 110l1-1v-2l-1-1-1 1v2zM86 74l1-1v-2l-1-1-1 1v2zM88 98l1-1v-2l-1-1-1 1v2zM90 86l1-1v-2l-1-1-1 1v2zM90 128l1-1v-2l-1-1-1 1v2zM92 68l1-1v-2l-1-1-1 1v2zM92 170l1-1v-2l-1-1-1 1v2zM92 176l1-1v-2l-1-1-1 1v2zM94 116l1-1v-2l-1-1-1 1v2zM94 182l1-1v-2l-1-1-1 1v2zM96 122l1-1v-2l-1-1-1 1v2zM96 128l1-1v-2l-1-1-1 1v2zM96 158l1-1v-2l-1-1-1 1v2zM96 176l1-1v-2l-1-1-1 1v2zM98 68l1-1v-2l-1-1-1 1v2zM98 110l1-1v-2l-1-1-1 1v2zM100 104l1-1v-2l-1-1-1 1v2zM102 116l1-1v-2l-1-1-1 1v2zM104 116l1-1v-2l-1-1-1 1v2zM104 194l1-1v-2l-1-1-1 1v2zM106 74l1-1v-2l-1-1-1 1v2zM106 182l1-1v-2l-1-1-1 1v2zM110 86l1-1v-2l-1-1-1 1v2zM110 104l1-1v-2l-1-1-1 1v2zM110 128l1-1v-2l-1-1-1 1v2zM112 98l1-1v-2l-1-1-1 1v2zM112 200l1-1v-2l-1-1-1 1v2zM112 206l1-1v-2l-1-1-1 1v2zM112 212l1-1v-2l-1-1-1 1v2zM114 80l1-1v-2l-1-1-1 1v2zM114 116l1-1v-2l-1-1-1 1v2zM114 194l1-1v-2l-1-1-1 1v2zM114 200l1-1v-2l-1-1-1 1v2zM116 86l1-1v-2l-1-1-1 1v2zM124 128l1-1v-2l-1-1-1 1v2zM126 122l1-1v-2l-1-1-1 1v2zM128 98l1-1v-2l-1-1-1 1v2zM130 98l1-1v-2l-1-1-1 1v2zM130 110l1-1v-2l-1-1-1 1v2zM130 200l1-1v-2l-1-1-1 1v2zM132 104l1-1v-2l-1-1-1 1v2zM132 200l1-1v-2l-1-1-1 1v2zM134 98l1-1v-2l-1-1-1 1v2zM146 110l1-1v-2l-1-1-1 1v2zM29 53l1-1v-2l-1-1-1 1v2zM31 53l1-1v-2l-1-1-1 1v2zM33 89l1-1v-2l-1-1-1 1v2zM35 59l1-1v-2l-1-1-1 1v2zM35 89l1-1v-2l-1-1-1 1v2zM37 35l1-1v-2l-1-1-1 1v2zM37 167l1-1v-2l-1-1-1 1v2zM39 23l1-1v-2l-1-1-1 1v2zM39 119l1-1v-2l-1-1-1 1v2zM41 101l1-1v-2l-1-1-1 1v2zM41 119l1-1v-2l-1-1-1 1v2zM41 197l1-1v-2l-1-1-1 1v2zM43 35l1-1v-2l-1-1-1 1v2zM43 113l1-1v-2l-1-1-1 1v2zM45 83l1-1v-2l-1-1-1 1v2zM47 113l1-1v-2l-1-1-1 1v2zM47 167l1-1v-2l-1-1-1 1v2zM49 167l1-1v-2l-1-1-1 1v2zM49 191l1-1v-2l-1-1-1 1v2zM51 107l1-1v-2l-1-1-1 1v2zM51 167l1-1v-2l-1-1-1 1v2zM53 47l1-1v-2l-1-1-1 1v2zM53 59l1-1v-2l-1-1-1 1v2zM53 95l1-1v-2l-1-1-1 1v2zM53 101l1-1v-2l-1-1-1 1v2zM53 113l1-1v-2l-1-1-1 1v2zM53 179l1-1v-2l-1-1-1 1v2zM55 95l1-1v-2l-1-1-1 1v2zM55 101l1-1v-2l-1-1-1 1v2zM55 179l1-1v-2l-1-1-1 1v2zM57 59l1-1v-2l-1-1-1 1v2zM57 125l1-1v-2l-1-1-1 1v2zM59 125l1-1v-2l-1-1-1 1v2zM59 131l1-1v-2l-1-1-1 1v2zM59 173l1-1v-2l-1-1-1 1v2zM59 185l1-1v-2l-1-1-1 1v2zM61 197l1-1v-2l-1-1-1 1v2zM63 131l1-1v-2l-1-1-1 1v2zM63 191l1-1v-2l-1-1-1 1v2zM65 53l1-1v-2l-1-1-1 1v2zM65 179l1-1v-2l-1-1-1 1v2zM65 227l1-1v-2l-1-1-1 1v2zM67 185l1-1v-2l-1-1-1 1v2zM69 107l1-1v-2l-1-1-1 1v2zM69 173l1-1v-2l-1-1-1 1v2zM71 167l1-1v-2l-1-1-1 1v2zM75 137l1-1v-2l-1-1-1 1v2zM75 173l1-1v-2l-1-1-1 1v2zM75 191l1-1v-2l-1-1-1 1v2zM79 107l1-1v-2l-1-1-1 1v2zM81 185l1-1v-2l-1-1-1 1v2zM81 191l1-1v-2l-1-1-1 1v2zM81 197l1-1v-2l-1-1-1 1v2zM83 119l1-1v-2l-1-1-1 1v2zM85 101l1-1v-2l-1-1-1 1v2zM85 131l1-1v-2l-1-1-1 1v2zM87 155l1-1v-2l-1-1-1 1v2zM89 119l1-1v-2l-1-1-1 1v2zM91 179l1-1v-2l-1-1-1 1v2zM93 179l1-1v-2l-1-1-1 1v2zM95 95l1-1v-2l-1-1-1 1v2zM95 113l1-1v-2l-1-1-1 1v2zM97 107l1-1v-2l-1-1-1 1v2zM97 143l1-1v-2l-1-1-1 1v2zM99 101l1-1v-2l-1-1-1 1v2zM101 101l1-1v-2l-1-1-1 1v2zM101 113l1-1v-2l-1-1-1 1v2zM101 119l1-1v-2l-1-1-1 1v2zM101 167l1-1v-2l-1-1-1 1v2zM101 191l1-1v-2l-1-1-1 1v2zM103 155l1-1v-2l-1-1-1 1v2zM103 203l1-1v-2l-1-1-1 1v2zM107 101l1-1v-2l-1-1-1 1v2zM107 173l1-1v-2l-1-1-1 1v2zM107 203l1-1v-2l-1-1-1 1v2zM109 107l1-1v-2l-1-1-1 1v2zM109 125l1-1v-2l-1-1-1 1v2zM109 155l1-1v-2l-1-1-1 1v2zM113 179l1-1v-2l-1-1-1 1v2zM113 185l1-1v-2l-1-1-1 1v2zM115 125l1-1v-2l-1-1-1 1v2zM115 131l1-1v-2l-1-1-1 1v2zM115 149l1-1v-2l-1-1-1 1v2zM115 179l1-1v-2l-1-1-1 1v2zM119 83l1-1v-2l-1-1-1 1v2zM119 113l1-1v-2l-1-1-1 1v2zM121 107l1-1v-2l-1-1-1 1v2zM121 203l1-1v-2l-1-1-1 1v2zM121 209l1-1v-2l-1-1-1 1v2zM123 95l1-1v-2l-1-1-1 1v2zM123 113l1-1v-2l-1-1-1 1v2zM123 137l1-1v-2l-1-1-1 1v2zM127 95l1-1v-2l-1-1-1 1v2zM131 197l1-1v-2l-1-1-1 1v2zM135 209l1-1v-2l-1-1-1 1v2zM137 113l1-1v-2l-1-1-1 1v2zM137 179l1-1v-2l-1-1-1 1v2zM139 101l1-1v-2l-1-1-1 1v2zM139 113l1-1v-2l-1-1-1 1v2zM139 119l1-1v-2l-1-1-1 1v2zM139 149l1-1v-2l-1-1-1 1v2zM141 125l1-1v-2l-1-1-1 1v2z"/>
<path id="h11" d="M26 62l1-1v-2l-1-1-1 1v2zM34 62l1-1v-2l-1-1-1 1v2zM34 110l1-1v-2l-1-1-1 1v2zM36 32l1-1v-2l-1-1-1 1v2zM36 62l1-1v-2l-1-1-1 1v2zM36 98l1-1v-2l-1-1-1 1v2zM38 68l1-1v-2l-1-1-1 1v2zM38 74l1-1v-2l-1-1-1 1v2zM38 104l1-1v-2l-1-1-1 1v2zM40 50l1-1v-2l-1-1-1 1v2zM42 74l1-1v-2l-1-1-1 1v2zM46 56l1-1v-2l-1-1-1 1v2zM46 110l1-1v-2l-1-1-1 1v2zM48 38l1-1v-2l-1-1-1 1v2zM48 56l1-1v-2l-1-1-1 1v2zM48 68l1-1v-2l-1-1-1 1v2zM48 98l1-1v-2l-1-1-1 1v2zM52 44l1-1v-2l-1-1-1 1v2zM52 86l1-1v-2l-1-1-1 1v2zM54 44l1-1v-2l-1-1-1 1v2zM56 110l1-1v-2l-1-1-1 1v2zM58 122l1-1v-2l-1-1-1 1v2zM58 152l1-1v-2l-1-1-1 1v2zM58 158l1-1v-2l-1-1-1 1v2zM58 164l1-1v-2l-1-1-1 1v2zM60 86l1-1v-2l-1-1-1 1v2zM62 56l1-1v-2l-1-1-1 1v2zM62 86l1-1v-2l-1-1-1 1v2zM62 104l1-1v-2l-1-1-1 1v2zM64 122l1-1v-2l-1-1-1 1v2zM68 110l1-1v-2l-1-1-1 1v2zM68 116l1-1v-2l-1-1-1 1v2zM70 188l1-1v-2l-1-1-1 1v2zM72 194l1-1v-2l-1-1-1 1v2zM76 176l1-1v-2l-1-1-1 1v2zM78 152l1-1v-2l-1-1-1 1v2zM80 104l1-1v-2l-1-1-1 1v2zM80 110l1-1v-2l-1-1-1 1v2zM80 128l1-1v-2l-1-1-1 1v2zM80 212l1-1v-2l-1-1-1 1v2zM82 158l1-1v-2l-1-1-1 1v2zM84 104l1-1v-2l-1-1-1 1v2zM84 134l1-1v-2l-1-1-1 1v2zM86 98l1-1v-2l-1-1-1 1v2zM86 194l1-1v-2l-1-1-1 1v2zM88 116l1-1v-2l-1-1-1 1v2zM88 122l1-1v-2l-1-1-1 1v2zM88 188l1-1v-2l-1-1-1 1v2zM90 104l1-1v-2l-1-1-1 1v2zM90 110l1-1v-2l-1-1-1 1v2zM90 212l1-1v-2l-1-1-1 1v2zM92 98l1-1v-2l-1-1-1 1v2zM92 194l1-1v-2l-1-1-1 1v2zM94 200l1-1v-2l-1-1-1 1v2zM96 194l1-1v-2l-1-1-1 1v2zM98 182l1-1v-2l-1-1-1 1v2zM98 188l1-1v-2l-1-1-1 1v2zM100 98l1-1v-2l-1-1-1 1v2zM102 98l1-1v-2l-1-1-1 1v2zM102 110l1-1v-2l-1-1-1 1v2zM104 206l1-1v-2l-1-1-1 1v2zM110 80l1-1v-2l-1-1-1 1v2zM110 92l1-1v-2l-1-1-1 1v2zM110 140l1-1v-2l-1-1-1 1v2zM116 98l1-1v-2l-1-1-1 1v2zM116 194l1-1v-2l-1-1-1 1v2zM118 98l1-1v-2l-1-1-1 1v2zM120 104l1-1v-2l-1-1-1 1v2zM122 200l1-1v-2l-1-1-1 1v2zM126 116l1-1v-2l-1-1-1 1v2zM140 104l1-1v-2l-1-1-1 1v2zM142 110l1-1v-2l-1-1-1 1v2zM148 104l1-1v-2l-1-1-1 1v2zM31 83l1-1v-2l-1-1-1 1v2zM35 35l1-1v-2l-1-1-1 1v2zM35 107l1-1v-2l-1-1-1 1v2zM37 23l1-1v-2l-1-1-1 1v2zM37 41l1-1v-2l-1-1-1 1v2zM39 47l1-1v-2l-1-1-1 1v2zM39 71l1-1v-2l-1-1-1 1v2zM39 89l1-1v-2l-1-1-1 1v2zM41 47l1-1v-2l-1-1-1 1v2zM43 77l1-1v-2l-1-1-1 1v2zM43 83l1-1v-2l-1-1-1 1v2zM45 101l1-1v-2l-1-1-1 1v2zM47 101l1-1v-2l-1-1-1 1v2zM47 107l1-1v-2l-1-1-1 1v2zM49 47l1-1v-2l-1-1-1 1v2zM49 53l1-1v-2l-1-1-1 1v2zM49 149l1-1v-2l-1-1-1 1v2zM51 89l1-1v-2l-1-1-1 1v2zM51 113l1-1v-2l-1-1-1 1v2zM51 191l1-1v-2l-1-1-1 1v2zM53 125l1-1v-2l-1-1-1 1v2zM55 71l1-1v-2l-1-1-1 1v2zM55 113l1-1v-2l-1-1-1 1v2zM57 143l1-1v-2l-1-1-1 1v2zM57 155l1-1v-2l-1-1-1 1v2zM57 173l1-1v-2l-1-1-1 1v2zM57 191l1-1v-2l-1-1-1 1v2zM59 191l1-1v-2l-1-1-1 1v2zM61 131l1-1v-2l-1-1-1 1v2zM61 179l1-1v-2l-1-1-1 1v2zM63 173l1-1v-2l-1-1-1 1v2zM63 197l1-1v-2l-1-1-1 1v2zM65 119l1-1v-2l-1-1-1 1v2zM65 185l1-1v-2l-1-1-1 1v2zM67 53l1-1v-2l-1-1-1 1v2zM67 125l1-1v-2l-1-1-1 1v2zM73 125l1-1v-2l-1-1-1 1v2zM73 167l1-1v-2l-1-1-1 1v2zM73 179l1-1v-2l-1-1-1 1v2zM75 143l1-1v-2l-1-1-1 1v2zM77 101l1-1v-2l-1-1-1 1v2zM77 113l1-1v-2l-1-1-1 1v2zM79 131l1-1v-2l-1-1-1 1v2zM79 173l1-1v-2l-1-1-1 1v2zM83 95l1-1v-2l-1-1-1 1v2zM83 113l1-1v-2l-1-1-1 1v2zM83 131l1-1v-2l-1-1-1 1v2zM83 203l1-1v-2l-1-1-1 1v2zM85 149l1-1v-2l-1-1-1 1v2zM85 209l1-1v-2l-1-1-1 1v2zM87 119l1-1v-2l-1-1-1 1v2zM87 131l1-1v-2l-1-1-1 1v2zM87 197l1-1v-2l-1-1-1 1v2zM89 125l1-1v-2l-1-1-1 1v2zM89 203l1-1v-2l-1-1-1 1v2zM91 185l1-1v-2l-1-1-1 1v2zM91 209l1-1v-2l-1-1-1 1v2zM93 83l1-1v-2l-1-1-1 1v2zM95 119l1-1v-2l-1-1-1 1v2zM95 179l1-1v-2l-1-1-1 1v2zM99 77l1-1v-2l-1-1-1 1v2zM99 173l1-1v-2l-1-1-1 1v2zM99 191l1-1v-2l-1-1-1 1v2zM103 137l1-1v-2l-1-1-1 1v2zM103 179l1-1v-2l-1-1-1 1v2zM105 191l1-1v-2l-1-1-1 1v2zM107 209l1-1v-2l-1-1-1 1v2zM109 95l1-1v-2l-1-1-1 1v2zM109 113l1-1v-2l-1-1-1 1v2zM109 137l1-1v-2l-1-1-1 1v2zM109 173l1-1v-2l-1-1-1 1v2zM109 191l1-1v-2l-1-1-1 1v2zM109 197l1-1v-2l-1-1-1 1v2zM111 83l1-1v-2l-1-1-1 1v2zM111 95l1-1v-2l-1-1-1 1v2zM115 107l1-1v-2l-1-1-1 1v2zM121 95l1-1v-2l-1-1-1 1v2zM123 119l1-1v-2l-1-1-1 1v2zM123 197l1-1v-2l-1-1-1 1v2zM125 89l1-1v-2l-1-1-1 1v2zM127 101l1-1v-2l-1-1-1 1v2zM131 95l1-1v-2l-1-1-1 1v2zM143 101l1-1v-2l-1-1-1 1v2z"/>
<path id="h12" d="M34 38l1-1v-2l-1-1-1 1v2zM34 56l1-1v-2l-1-1-1 1v2zM36 50l1-1v-2l-1-1-1 1v2zM38 92l1-1v-2l-1-1-1 1v2zM40 194l1-1v-2l-1-1-1 1v2zM42 86l1-1v-2l-1-1-1 1v2zM44 50l1-1v-2l-1-1-1 1v2zM44 110l1-1v-2l-1-1-1 1v2zM48 104l1-1v-2l-1-1-1 1v2zM50 38l1-1v-2l-1-1-1 1v2zM50 50l1-1v-2l-1-1-1 1v2zM50 80l1-1v-2l-1-1-1 1v2zM50 98l1-1v-2l-1-1-1 1v2zM52 68l1-1v-2l-1-1-1 1v2zM52 92l1-1v-2l-1-1-1 1v2zM54 68l1-1v-2l-1-1-1 1v2zM56 98l1-1v-2l-1-1-1 1v2zM56 188l1-1v-2l-1-1-1 1v2zM58 98l1-1v-2l-1-1-1 1v2zM60 50l1-1v-2l-1-1-1 1v2zM60 176l1-1v-2l-1-1-1 1v2zM64 182l1-1v-2l-1-1-1 1v2zM66 50l1-1v-2l-1-1-1 1v2zM66 68l1-1v-2l-1-1-1 1v2zM66 110l1-1v-2l-1-1-1 1v2zM66 176l1-1v-2l-1-1-1 1v2zM68 158l1-1v-2l-1-1-1 1v2zM70 128l1-1v-2l-1-1-1 1v2zM72 116l1-1v-2l-1-1-1 1v2zM74 182l1-1v-2l-1-1-1 1v2zM76 182l1-1v-2l-1-1-1 1v2zM78 176l1-1v-2l-1-1-1 1v2zM80 86l1-1v-2l-1-1-1 1v2zM80 170l1-1v-2l-1-1-1 1v2zM82 92l1-1v-2l-1-1-1 1v2zM84 62l1-1v-2l-1-1-1 1v2zM84 98l1-1v-2l-1-1-1 1v2zM84 128l1-1v-2l-1-1-1 1v2zM84 176l1-1v-2l-1-1-1 1v2zM88 182l1-1v-2l-1-1-1 1v2zM88 200l1-1v-2l-1-1-1 1v2zM90 194l1-1v-2l-1-1-1 1v2zM90 200l1-1v-2l-1-1-1 1v2zM92 182l1-1v-2l-1-1-1 1v2zM94 188l1-1v-2l-1-1-1 1v2zM96 68l1-1v-2l-1-1-1 1v2zM96 86l1-1v-2l-1-1-1 1v2zM96 104l1-1v-2l-1-1-1 1v2zM98 206l1-1v-2l-1-1-1 1v2zM100 206l1-1v-2l-1-1-1 1v2zM104 98l1-1v-2l-1-1-1 1v2zM106 104l1-1v-2l-1-1-1 1v2zM108 86l1-1v-2l-1-1-1 1v2zM108 128l1-1v-2l-1-1-1 1v2zM108 182l1-1v-2l-1-1-1 1v2zM110 164l1-1v-2l-1-1-1 1v2zM118 92l1-1v-2l-1-1-1 1v2zM118 206l1-1v-2l-1-1-1 1v2zM120 98l1-1v-2l-1-1-1 1v2zM122 110l1-1v-2l-1-1-1 1v2zM130 104l1-1v-2l-1-1-1 1v2zM144 104l1-1v-2l-1-1-1 1v2zM144 116l1-1v-2l-1-1-1 1v2zM29 89l1-1v-2l-1-1-1 1v2zM37 59l1-1v-2l-1-1-1 1v2zM39 53l1-1v-2l-1-1-1 1v2zM39 77l1-1v-2l-1-1-1 1v2zM39 83l1-1v-2l-1-1-1 1v2zM41 53l1-1v-2l-1-1-1 1v2zM41 95l1-1v-2l-1-1-1 1v2zM41 179l1-1v-2l-1-1-1 1v2zM43 47l1-1v-2l-1-1-1 1v2zM43 101l1-1v-2l-1-1-1 1v2zM45 53l1-1v-2l-1-1-1 1v2zM45 89l1-1v-2l-1-1-1 1v2zM47 95l1-1v-2l-1-1-1 1v2zM49 107l1-1v-2l-1-1-1 1v2zM51 47l1-1v-2l-1-1-1 1v2zM51 53l1-1v-2l-1-1-1 1v2zM51 59l1-1v-2l-1-1-1 1v2zM51 101l1-1v-2l-1-1-1 1v2zM51 155l1-1v-2l-1-1-1 1v2zM53 65l1-1v-2l-1-1-1 1v2zM55 89l1-1v-2l-1-1-1 1v2zM57 101l1-1v-2l-1-1-1 1v2zM57 119l1-1v-2l-1-1-1 1v2zM59 71l1-1v-2l-1-1-1 1v2zM59 179l1-1v-2l-1-1-1 1v2zM61 95l1-1v-2l-1-1-1 1v2zM61 107l1-1v-2l-1-1-1 1v2zM61 113l1-1v-2l-1-1-1 1v2zM63 53l1-1v-2l-1-1-1 1v2zM63 167l1-1v-2l-1-1-1 1v2zM65 47l1-1v-2l-1-1-1 1v2zM67 101l1-1v-2l-1-1-1 1v2zM71 53l1-1v-2l-1-1-1 1v2zM71 101l1-1v-2l-1-1-1 1v2zM71 173l1-1v-2l-1-1-1 1v2zM71 179l1-1v-2l-1-1-1 1v2zM73 101l1-1v-2l-1-1-1 1v2zM73 185l1-1v-2l-1-1-1 1v2zM75 149l1-1v-2l-1-1-1 1v2zM77 131l1-1v-2l-1-1-1 1v2zM77 179l1-1v-2l-1-1-1 1v2zM77 185l1-1v-2l-1-1-1 1v2zM79 95l1-1v-2l-1-1-1 1v2zM79 179l1-1v-2l-1-1-1 1v2zM81 131l1-1v-2l-1-1-1 1v2zM81 209l1-1v-2l-1-1-1 1v2zM83 149l1-1v-2l-1-1-1 1v2zM83 191l1-1v-2l-1-1-1 1v2zM85 179l1-1v-2l-1-1-1 1v2zM87 101l1-1v-2l-1-1-1 1v2zM87 113l1-1v-2l-1-1-1 1v2zM89 83l1-1v-2l-1-1-1 1v2zM89 95l1-1v-2l-1-1-1 1v2zM89 101l1-1v-2l-1-1-1 1v2zM89 197l1-1v-2l-1-1-1 1v2zM91 107l1-1v-2l-1-1-1 1v2zM91 191l1-1v-2l-1-1-1 1v2zM93 137l1-1v-2l-1-1-1 1v2zM95 185l1-1v-2l-1-1-1 1v2zM97 197l1-1v-2l-1-1-1 1v2zM103 131l1-1v-2l-1-1-1 1v2zM105 209l1-1v-2l-1-1-1 1v2zM107 185l1-1v-2l-1-1-1 1v2zM109 119l1-1v-2l-1-1-1 1v2zM111 179l1-1v-2l-1-1-1 1v2zM113 83l1-1v-2l-1-1-1 1v2zM113 89l1-1v-2l-1-1-1 1v2zM115 83l1-1v-2l-1-1-1 1v2zM115 191l1-1v-2l-1-1-1 1v2zM115 197l1-1v-2l-1-1-1 1v2zM115 203l1-1v-2l-1-1-1 1v2zM117 95l1-1v-2l-1-1-1 1v2zM121 101l1-1v-2l-1-1-1 1v2zM123 131l1-1v-2l-1-1-1 1v2zM125 119l1-1v-2l-1-1-1 1v2zM125 125l1-1v-2l-1-1-1 1v2zM125 131l1-1v-2l-1-1-1 1v2zM125 179l1-1v-2l-1-1-1 1v2zM135 101l1-1v-2l-1-1-1 1v2zM135 113l1-1v-2l-1-1-1 1v2z"/>
<path id="h13" d="M28 62l1-1v-2l-1-1-1 1v2zM36 68l1-1v-2l-1-1-1 1v2zM38 38l1-1v-2l-1-1-1 1v2zM40 62l1-1v-2l-1-1-1 1v2zM40 92l1-1v-2l-1-1-1 1v2zM42 32l1-1v-2l-1-1-1 1v2zM42 68l1-1v-2l-1-1-1 1v2zM46 38l1-1v-2l-1-1-1 1v2zM48 32l1-1v-2l-1-1-1 1v2zM50 56l1-1v-2l-1-1-1 1v2zM50 62l1-1v-2l-1-1-1 1v2zM52 56l1-1v-2l-1-1-1 1v2zM52 104l1-1v-2l-1-1-1 1v2zM52 110l1-1v-2l-1-1-1 1v2zM54 50l1-1v-2l-1-1-1 1v2zM54 80l1-1v-2l-1-1-1 1v2zM54 98l1-1v-2l-1-1-1 1v2zM54 104l1-1v-2l-1-1-1 1v2zM56 44l1-1v-2l-1-1-1 1v2zM56 74l1-1v-2l-1-1-1 1v2zM56 104l1-1v-2l-1-1-1 1v2zM58 50l1-1v-2l-1-1-1 1v2zM58 80l1-1v-2l-1-1-1 1v2zM66 56l1-1v-2l-1-1-1 1v2zM66 116l1-1v-2l-1-1-1 1v2zM66 194l1-1v-2l-1-1-1 1v2zM68 176l1-1v-2l-1-1-1 1v2zM68 182l1-1v-2l-1-1-1 1v2zM68 194l1-1v-2l-1-1-1 1v2zM70 50l1-1v-2l-1-1-1 1v2zM72 122l1-1v-2l-1-1-1 1v2zM76 98l1-1v-2l-1-1-1 1v2zM78 92l1-1v-2l-1-1-1 1v2zM78 98l1-1v-2l-1-1-1 1v2zM80 92l1-1v-2l-1-1-1 1v2zM80 152l1-1v-2l-1-1-1 1v2zM82 110l1-1v-2l-1-1-1 1v2zM82 188l1-1v-2l-1-1-1 1v2zM86 122l1-1v-2l-1-1-1 1v2zM86 188l1-1v-2l-1-1-1 1v2zM86 200l1-1v-2l-1-1-1 1v2zM88 68l1-1v-2l-1-1-1 1v2zM88 86l1-1v-2l-1-1-1 1v2zM90 98l1-1v-2l-1-1-1 1v2zM92 104l1-1v-2l-1-1-1 1v2zM94 74l1-1v-2l-1-1-1 1v2zM94 98l1-1v-2l-1-1-1 1v2zM98 80l1-1v-2l-1-1-1 1v2zM100 92l1-1v-2l-1-1-1 1v2zM102 92l1-1v-2l-1-1-1 1v2zM104 86l1-1v-2l-1-1-1 1v2zM104 92l1-1v-2l-1-1-1 1v2zM104 200l1-1v-2l-1-1-1 1v2zM106 86l1-1v-2l-1-1-1 1v2zM112 122l1-1v-2l-1-1-1 1v2zM120 92l1-1v-2l-1-1-1 1v2zM122 128l1-1v-2l-1-1-1 1v2zM124 206l1-1v-2l-1-1-1 1v2zM126 92l1-1v-2l-1-1-1 1v2zM130 128l1-1v-2l-1-1-1 1v2zM37 71l1-1v-2l-1-1-1 1v2zM37 113l1-1v-2l-1-1-1 1v2zM39 113l1-1v-2l-1-1-1 1v2zM41 59l1-1v-2l-1-1-1 1v2zM43 41l1-1v-2l-1-1-1 1v2zM43 89l1-1v-2l-1-1-1 1v2zM45 77l1-1v-2l-1-1-1 1v2zM45 95l1-1v-2l-1-1-1 1v2zM47 53l1-1v-2l-1-1-1 1v2zM47 77l1-1v-2l-1-1-1 1v2zM47 83l1-1v-2l-1-1-1 1v2zM47 89l1-1v-2l-1-1-1 1v2zM49 41l1-1v-2l-1-1-1 1v2zM49 83l1-1v-2l-1-1-1 1v2zM49 95l1-1v-2l-1-1-1 1v2zM49 101l1-1v-2l-1-1-1 1v2zM51 77l1-1v-2l-1-1-1 1v2zM53 71l1-1v-2l-1-1-1 1v2zM55 77l1-1v-2l-1-1-1 1v2zM57 77l1-1v-2l-1-1-1 1v2zM57 185l1-1v-2l-1-1-1 1v2zM61 53l1-1v-2l-1-1-1 1v2zM61 59l1-1v-2l-1-1-1 1v2zM61 119l1-1v-2l-1-1-1 1v2zM67 47l1-1v-2l-1-1-1 1v2zM67 191l1-1v-2l-1-1-1 1v2zM69 119l1-1v-2l-1-1-1 1v2zM71 113l1-1v-2l-1-1-1 1v2zM71 191l1-1v-2l-1-1-1 1v2zM75 101l1-1v-2l-1-1-1 1v2zM75 113l1-1v-2l-1-1-1 1v2zM75 119l1-1v-2l-1-1-1 1v2zM79 83l1-1v-2l-1-1-1 1v2zM79 101l1-1v-2l-1-1-1 1v2zM81 179l1-1v-2l-1-1-1 1v2zM83 167l1-1v-2l-1-1-1 1v2zM87 83l1-1v-2l-1-1-1 1v2zM91 95l1-1v-2l-1-1-1 1v2zM93 197l1-1v-2l-1-1-1 1v2zM95 89l1-1v-2l-1-1-1 1v2zM97 191l1-1v-2l-1-1-1 1v2zM101 95l1-1v-2l-1-1-1 1v2zM103 77l1-1v-2l-1-1-1 1v2zM105 77l1-1v-2l-1-1-1 1v2zM111 131l1-1v-2l-1-1-1 1v2zM113 95l1-1v-2l-1-1-1 1v2zM117 89l1-1v-2l-1-1-1 1v2zM119 107l1-1v-2l-1-1-1 1v2zM119 125l1-1v-2l-1-1-1 1v2zM123 191l1-1v-2l-1-1-1 1v2zM131 101l1-1v-2l-1-1-1 1v2zM131 113l1-1v-2l-1-1-1 1v2z"/>
<path id="h15" d="M38 50l1-1v-2l-1-1-1 1v2zM40 32l1-1v-2l-1-1-1 1v2zM42 104l1-1v-2l-1-1-1 1v2zM44 32l1-1v-2l-1-1-1 1v2zM44 62l1-1v-2l-1-1-1 1v2zM44 74l1-1v-2l-1-1-1 1v2zM46 50l1-1v-2l-1-1-1 1v2zM54 56l1-1v-2l-1-1-1 1v2zM56 68l1-1v-2l-1-1-1 1v2zM56 86l1-1v-2l-1-1-1 1v2zM58 92l1-1v-2l-1-1-1 1v2zM60 80l1-1v-2l-1-1-1 1v2zM62 44l1-1v-2l-1-1-1 1v2zM62 50l1-1v-2l-1-1-1 1v2zM64 50l1-1v-2l-1-1-1 1v2zM64 68l1-1v-2l-1-1-1 1v2zM66 182l1-1v-2l-1-1-1 1v2zM70 98l1-1v-2l-1-1-1 1v2zM70 104l1-1v-2l-1-1-1 1v2zM70 140l1-1v-2l-1-1-1 1v2zM78 86l1-1v-2l-1-1-1 1v2zM78 104l1-1v-2l-1-1-1 1v2zM78 116l1-1v-2l-1-1-1 1v2zM78 182l1-1v-2l-1-1-1 1v2zM82 68l1-1v-2l-1-1-1 1v2zM82 86l1-1v-2l-1-1-1 1v2zM82 104l1-1v-2l-1-1-1 1v2zM84 80l1-1v-2l-1-1-1 1v2zM84 188l1-1v-2l-1-1-1 1v2zM88 74l1-1v-2l-1-1-1 1v2zM88 80l1-1v-2l-1-1-1 1v2zM92 206l1-1v-2l-1-1-1 1v2zM94 80l1-1v-2l-1-1-1 1v2zM96 98l1-1v-2l-1-1-1 1v2zM98 92l1-1v-2l-1-1-1 1v2zM102 86l1-1v-2l-1-1-1 1v2zM108 80l1-1v-2l-1-1-1 1v2zM108 104l1-1v-2l-1-1-1 1v2zM112 80l1-1v-2l-1-1-1 1v2zM112 86l1-1v-2l-1-1-1 1v2zM112 104l1-1v-2l-1-1-1 1v2zM118 104l1-1v-2l-1-1-1 1v2zM122 98l1-1v-2l-1-1-1 1v2zM126 104l1-1v-2l-1-1-1 1v2zM126 200l1-1v-2l-1-1-1 1v2zM33 83l1-1v-2l-1-1-1 1v2zM35 41l1-1v-2l-1-1-1 1v2zM41 83l1-1v-2l-1-1-1 1v2zM43 29l1-1v-2l-1-1-1 1v2zM45 47l1-1v-2l-1-1-1 1v2zM49 71l1-1v-2l-1-1-1 1v2zM51 95l1-1v-2l-1-1-1 1v2zM53 119l1-1v-2l-1-1-1 1v2zM55 59l1-1v-2l-1-1-1 1v2zM57 95l1-1v-2l-1-1-1 1v2zM57 107l1-1v-2l-1-1-1 1v2zM59 107l1-1v-2l-1-1-1 1v2zM63 65l1-1v-2l-1-1-1 1v2zM63 95l1-1v-2l-1-1-1 1v2zM65 77l1-1v-2l-1-1-1 1v2zM65 107l1-1v-2l-1-1-1 1v2zM67 65l1-1v-2l-1-1-1 1v2zM67 77l1-1v-2l-1-1-1 1v2zM69 101l1-1v-2l-1-1-1 1v2zM71 77l1-1v-2l-1-1-1 1v2zM71 119l1-1v-2l-1-1-1 1v2zM79 191l1-1v-2l-1-1-1 1v2zM81 119l1-1v-2l-1-1-1 1v2zM83 197l1-1v-2l-1-1-1 1v2zM85 95l1-1v-2l-1-1-1 1v2zM87 89l1-1v-2l-1-1-1 1v2zM87 179l1-1v-2l-1-1-1 1v2zM89 179l1-1v-2l-1-1-1 1v2zM89 191l1-1v-2l-1-1-1 1v2zM91 71l1-1v-2l-1-1-1 1v2zM91 119l1-1v-2l-1-1-1 1v2zM95 77l1-1v-2l-1-1-1 1v2zM97 71l1-1v-2l-1-1-1 1v2zM97 101l1-1v-2l-1-1-1 1v2zM97 119l1-1v-2l-1-1-1 1v2zM99 95l1-1v-2l-1-1-1 1v2zM101 83l1-1v-2l-1-1-1 1v2zM101 179l1-1v-2l-1-1-1 1v2zM103 89l1-1v-2l-1-1-1 1v2zM103 95l1-1v-2l-1-1-1 1v2zM107 95l1-1v-2l-1-1-1 1v2zM107 191l1-1v-2l-1-1-1 1v2zM107 197l1-1v-2l-1-1-1 1v2zM121 89l1-1v-2l-1-1-1 1v2zM123 101l1-1v-2l-1-1-1 1v2zM129 95l1-1v-2l-1-1-1 1v2z"/>
<path id="h16" d="M30 74l1-1v-2l-1-1-1 1v2zM40 68l1-1v-2l-1-1-1 1v2zM42 56l1-1v-2l-1-1-1 1v2zM44 80l1-1v-2l-1-1-1 1v2zM46 92l1-1v-2l-1-1-1 1v2zM52 50l1-1v-2l-1-1-1 1v2zM52 62l1-1v-2l-1-1-1 1v2zM54 86l1-1v-2l-1-1-1 1v2zM54 92l1-1v-2l-1-1-1 1v2zM56 50l1-1v-2l-1-1-1 1v2zM56 92l1-1v-2l-1-1-1 1v2zM58 68l1-1v-2l-1-1-1 1v2zM58 74l1-1v-2l-1-1-1 1v2zM58 86l1-1v-2l-1-1-1 1v2zM60 92l1-1v-2l-1-1-1 1v2zM60 128l1-1v-2l-1-1-1 1v2zM62 68l1-1v-2l-1-1-1 1v2zM62 182l1-1v-2l-1-1-1 1v2zM64 74l1-1v-2l-1-1-1 1v2zM68 50l1-1v-2l-1-1-1 1v2zM70 86l1-1v-2l-1-1-1 1v2zM72 86l1-1v-2l-1-1-1 1v2zM76 122l1-1v-2l-1-1-1 1v2zM80 182l1-1v-2l-1-1-1 1v2zM84 182l1-1v-2l-1-1-1 1v2zM86 86l1-1v-2l-1-1-1 1v2zM88 170l1-1v-2l-1-1-1 1v2zM92 80l1-1v-2l-1-1-1 1v2zM98 194l1-1v-2l-1-1-1 1v2zM100 74l1-1v-2l-1-1-1 1v2zM104 80l1-1v-2l-1-1-1 1v2zM106 98l1-1v-2l-1-1-1 1v2zM108 92l1-1v-2l-1-1-1 1v2zM114 86l1-1v-2l-1-1-1 1v2zM116 104l1-1v-2l-1-1-1 1v2zM136 98l1-1v-2l-1-1-1 1v2zM39 59l1-1v-2l-1-1-1 1v2zM43 53l1-1v-2l-1-1-1 1v2zM45 65l1-1v-2l-1-1-1 1v2zM47 41l1-1v-2l-1-1-1 1v2zM49 59l1-1v-2l-1-1-1 1v2zM51 65l1-1v-2l-1-1-1 1v2zM53 41l1-1v-2l-1-1-1 1v2zM57 83l1-1v-2l-1-1-1 1v2zM59 59l1-1v-2l-1-1-1 1v2zM59 101l1-1v-2l-1-1-1 1v2zM61 101l1-1v-2l-1-1-1 1v2zM63 113l1-1v-2l-1-1-1 1v2zM63 179l1-1v-2l-1-1-1 1v2zM63 185l1-1v-2l-1-1-1 1v2zM67 119l1-1v-2l-1-1-1 1v2zM69 59l1-1v-2l-1-1-1 1v2zM69 185l1-1v-2l-1-1-1 1v2zM71 59l1-1v-2l-1-1-1 1v2zM75 107l1-1v-2l-1-1-1 1v2zM79 113l1-1v-2l-1-1-1 1v2zM81 89l1-1v-2l-1-1-1 1v2zM81 113l1-1v-2l-1-1-1 1v2zM83 89l1-1v-2l-1-1-1 1v2zM83 107l1-1v-2l-1-1-1 1v2zM85 77l1-1v-2l-1-1-1 1v2zM85 119l1-1v-2l-1-1-1 1v2zM85 191l1-1v-2l-1-1-1 1v2zM87 65l1-1v-2l-1-1-1 1v2zM89 77l1-1v-2l-1-1-1 1v2zM89 185l1-1v-2l-1-1-1 1v2zM91 77l1-1v-2l-1-1-1 1v2zM95 191l1-1v-2l-1-1-1 1v2zM97 95l1-1v-2l-1-1-1 1v2zM99 113l1-1v-2l-1-1-1 1v2zM101 131l1-1v-2l-1-1-1 1v2zM105 89l1-1v-2l-1-1-1 1v2zM107 113l1-1v-2l-1-1-1 1v2zM111 89l1-1v-2l-1-1-1 1v2zM135 119l1-1v-2l-1-1-1 1v2z"/>
<path id="h17" d="M44 44l1-1v-2l-1-1-1 1v2zM44 104l1-1v-2l-1-1-1 1v2zM46 62l1-1v-2l-1-1-1 1v2zM46 80l1-1v-2l-1-1-1 1v2zM48 86l1-1v-2l-1-1-1 1v2zM50 74l1-1v-2l-1-1-1 1v2zM50 92l1-1v-2l-1-1-1 1v2zM50 104l1-1v-2l-1-1-1 1v2zM54 62l1-1v-2l-1-1-1 1v2zM58 44l1-1v-2l-1-1-1 1v2zM58 56l1-1v-2l-1-1-1 1v2zM58 110l1-1v-2l-1-1-1 1v2zM60 44l1-1v-2l-1-1-1 1v2zM60 56l1-1v-2l-1-1-1 1v2zM60 104l1-1v-2l-1-1-1 1v2zM62 128l1-1v-2l-1-1-1 1v2zM66 86l1-1v-2l-1-1-1 1v2zM66 122l1-1v-2l-1-1-1 1v2zM72 104l1-1v-2l-1-1-1 1v2zM76 92l1-1v-2l-1-1-1 1v2zM82 80l1-1v-2l-1-1-1 1v2zM82 98l1-1v-2l-1-1-1 1v2zM82 182l1-1v-2l-1-1-1 1v2zM86 110l1-1v-2l-1-1-1 1v2zM90 92l1-1v-2l-1-1-1 1v2zM92 92l1-1v-2l-1-1-1 1v2zM96 74l1-1v-2l-1-1-1 1v2zM98 104l1-1v-2l-1-1-1 1v2zM102 80l1-1v-2l-1-1-1 1v2zM104 74l1-1v-2l-1-1-1 1v2zM104 104l1-1v-2l-1-1-1 1v2zM106 92l1-1v-2l-1-1-1 1v2zM122 92l1-1v-2l-1-1-1 1v2zM53 83l1-1v-2l-1-1-1 1v2zM55 53l1-1v-2l-1-1-1 1v2zM55 83l1-1v-2l-1-1-1 1v2zM57 89l1-1v-2l-1-1-1 1v2zM59 65l1-1v-2l-1-1-1 1v2zM61 47l1-1v-2l-1-1-1 1v2zM61 65l1-1v-2l-1-1-1 1v2zM61 71l1-1v-2l-1-1-1 1v2zM63 71l1-1v-2l-1-1-1 1v2zM63 107l1-1v-2l-1-1-1 1v2zM65 59l1-1v-2l-1-1-1 1v2zM67 59l1-1v-2l-1-1-1 1v2zM69 113l1-1v-2l-1-1-1 1v2zM73 53l1-1v-2l-1-1-1 1v2zM83 59l1-1v-2l-1-1-1 1v2zM85 89l1-1v-2l-1-1-1 1v2zM89 89l1-1v-2l-1-1-1 1v2zM97 83l1-1v-2l-1-1-1 1v2zM101 77l1-1v-2l-1-1-1 1v2zM107 77l1-1v-2l-1-1-1 1v2zM113 209l1-1v-2l-1-1-1 1v2zM115 89l1-1v-2l-1-1-1 1v2zM119 89l1-1v-2l-1-1-1 1v2z"/>
<path id="h19" d="M48 62l1-1v-2l-1-1-1 1v2zM56 56l1-1v-2l-1-1-1 1v2zM58 104l1-1v-2l-1-1-1 1v2zM60 68l1-1v-2l-1-1-1 1v2zM64 62l1-1v-2l-1-1-1 1v2zM64 86l1-1v-2l-1-1-1 1v2zM66 62l1-1v-2l-1-1-1 1v2zM72 98l1-1v-2l-1-1-1 1v2zM74 110l1-1v-2l-1-1-1 1v2zM78 80l1-1v-2l-1-1-1 1v2zM84 68l1-1v-2l-1-1-1 1v2zM90 80l1-1v-2l-1-1-1 1v2zM94 68l1-1v-2l-1-1-1 1v2zM96 80l1-1v-2l-1-1-1 1v2zM102 104l1-1v-2l-1-1-1 1v2zM49 77l1-1v-2l-1-1-1 1v2zM49 89l1-1v-2l-1-1-1 1v2zM51 83l1-1v-2l-1-1-1 1v2zM57 113l1-1v-2l-1-1-1 1v2zM59 83l1-1v-2l-1-1-1 1v2zM59 95l1-1v-2l-1-1-1 1v2zM61 77l1-1v-2l-1-1-1 1v2zM63 59l1-1v-2l-1-1-1 1v2zM65 71l1-1v-2l-1-1-1 1v2zM67 71l1-1v-2l-1-1-1 1v2zM69 77l1-1v-2l-1-1-1 1v2zM69 179l1-1v-2l-1-1-1 1v2zM73 83l1-1v-2l-1-1-1 1v2zM75 89l1-1v-2l-1-1-1 1v2zM75 95l1-1v-2l-1-1-1 1v2zM85 113l1-1v-2l-1-1-1 1v2zM89 71l1-1v-2l-1-1-1 1v2zM93 191l1-1v-2l-1-1-1 1v2zM99 89l1-1v-2l-1-1-1 1v2zM103 83l1-1v-2l-1-1-1 1v2zM103 191l1-1v-2l-1-1-1 1v2zM109 101l1-1v-2l-1-1-1 1v2z"/>
<path id="h20" d="M42 92l1-1v-2l-1-1-1 1v2zM46 74l1-1v-2l-1-1-1 1v2zM54 74l1-1v-2l-1-1-1 1v2zM56 62l1-1v-2l-1-1-1 1v2zM58 62l1-1v-2l-1-1-1 1v2zM62 62l1-1v-2l-1-1-1 1v2zM62 98l1-1v-2l-1-1-1 1v2zM62 110l1-1v-2l-1-1-1 1v2zM66 80l1-1v-2l-1-1-1 1v2zM66 98l1-1v-2l-1-1-1 1v2zM68 56l1-1v-2l-1-1-1 1v2zM68 98l1-1v-2l-1-1-1 1v2zM68 104l1-1v-2l-1-1-1 1v2zM74 98l1-1v-2l-1-1-1 1v2zM74 104l1-1v-2l-1-1-1 1v2zM78 74l1-1v-2l-1-1-1 1v2zM86 80l1-1v-2l-1-1-1 1v2zM106 80l1-1v-2l-1-1-1 1v2zM114 92l1-1v-2l-1-1-1 1v2zM124 92l1-1v-2l-1-1-1 1v2zM128 92l1-1v-2l-1-1-1 1v2zM45 59l1-1v-2l-1-1-1 1v2zM63 77l1-1v-2l-1-1-1 1v2zM65 113l1-1v-2l-1-1-1 1v2zM67 95l1-1v-2l-1-1-1 1v2zM67 107l1-1v-2l-1-1-1 1v2zM67 179l1-1v-2l-1-1-1 1v2zM69 53l1-1v-2l-1-1-1 1v2zM69 65l1-1v-2l-1-1-1 1v2zM71 95l1-1v-2l-1-1-1 1v2zM77 89l1-1v-2l-1-1-1 1v2zM79 89l1-1v-2l-1-1-1 1v2zM85 65l1-1v-2l-1-1-1 1v2zM85 83l1-1v-2l-1-1-1 1v2zM91 89l1-1v-2l-1-1-1 1v2zM93 77l1-1v-2l-1-1-1 1v2zM99 71l1-1v-2l-1-1-1 1v2zM107 89l1-1v-2l-1-1-1 1v2zM109 83l1-1v-2l-1-1-1 1v2z"/>
<path id="h22" d="M56 80l1-1v-2l-1-1-1 1v2zM68 74l1-1v-2l-1-1-1 1v2zM72 50l1-1v-2l-1-1-1 1v2zM72 80l1-1v-2l-1-1-1 1v2zM86 92l1-1v-2l-1-1-1 1v2zM90 74l1-1v-2l-1-1-1 1v2zM92 74l1-1v-2l-1-1-1 1v2zM94 194l1-1v-2l-1-1-1 1v2zM96 92l1-1v-2l-1-1-1 1v2zM100 80l1-1v-2l-1-1-1 1v2zM116 92l1-1v-2l-1-1-1 1v2zM45 35l1-1v-2l-1-1-1 1v2zM55 119l1-1v-2l-1-1-1 1v2zM57 53l1-1v-2l-1-1-1 1v2zM57 65l1-1v-2l-1-1-1 1v2zM59 53l1-1v-2l-1-1-1 1v2zM59 113l1-1v-2l-1-1-1 1v2zM61 89l1-1v-2l-1-1-1 1v2zM63 89l1-1v-2l-1-1-1 1v2zM65 83l1-1v-2l-1-1-1 1v2zM69 95l1-1v-2l-1-1-1 1v2zM73 113l1-1v-2l-1-1-1 1v2zM81 59l1-1v-2l-1-1-1 1v2zM89 65l1-1v-2l-1-1-1 1v2zM91 83l1-1v-2l-1-1-1 1v2zM99 83l1-1v-2l-1-1-1 1v2zM101 89l1-1v-2l-1-1-1 1v2zM109 89l1-1v-2l-1-1-1 1v2z"/>
<path id="h23" d="M48 74l1-1v-2l-1-1-1 1v2zM52 80l1-1v-2l-1-1-1 1v2zM60 62l1-1v-2l-1-1-1 1v2zM62 80l1-1v-2l-1-1-1 1v2zM64 92l1-1v-2l-1-1-1 1v2zM64 98l1-1v-2l-1-1-1 1v2zM64 104l1-1v-2l-1-1-1 1v2zM66 92l1-1v-2l-1-1-1 1v2zM66 104l1-1v-2l-1-1-1 1v2zM68 62l1-1v-2l-1-1-1 1v2zM68 86l1-1v-2l-1-1-1 1v2zM72 56l1-1v-2l-1-1-1 1v2zM72 92l1-1v-2l-1-1-1 1v2zM74 86l1-1v-2l-1-1-1 1v2zM80 56l1-1v-2l-1-1-1 1v2zM80 62l1-1v-2l-1-1-1 1v2zM86 68l1-1v-2l-1-1-1 1v2zM94 92l1-1v-2l-1-1-1 1v2zM96 110l1-1v-2l-1-1-1 1v2zM98 74l1-1v-2l-1-1-1 1v2zM53 77l1-1v-2l-1-1-1 1v2zM57 71l1-1v-2l-1-1-1 1v2zM69 83l1-1v-2l-1-1-1 1v2zM73 65l1-1v-2l-1-1-1 1v2zM73 89l1-1v-2l-1-1-1 1v2zM73 95l1-1v-2l-1-1-1 1v2zM81 83l1-1v-2l-1-1-1 1v2zM83 77l1-1v-2l-1-1-1 1v2zM95 83l1-1v-2l-1-1-1 1v2zM97 89l1-1v-2l-1-1-1 1v2zM107 83l1-1v-2l-1-1-1 1v2z"/>
<path id="h24" d="M60 74l1-1v-2l-1-1-1 1v2zM64 110l1-1v-2l-1-1-1 1v2zM72 110l1-1v-2l-1-1-1 1v2zM74 56l1-1v-2l-1-1-1 1v2zM74 92l1-1v-2l-1-1-1 1v2zM76 68l1-1v-2l-1-1-1 1v2zM78 68l1-1v-2l-1-1-1 1v2zM82 74l1-1v-2l-1-1-1 1v2zM84 74l1-1v-2l-1-1-1 1v2zM53 53l1-1v-2l-1-1-1 1v2zM57 41l1-1v-2l-1-1-1 1v2zM59 77l1-1v-2l-1-1-1 1v2zM61 83l1-1v-2l-1-1-1 1v2zM65 65l1-1v-2l-1-1-1 1v2zM67 113l1-1v-2l-1-1-1 1v2zM73 77l1-1v-2l-1-1-1 1v2zM77 59l1-1v-2l-1-1-1 1v2zM79 65l1-1v-2l-1-1-1 1v2zM83 65l1-1v-2l-1-1-1 1v2zM91 65l1-1v-2l-1-1-1 1v2z"/>
<path id="h26" d="M62 92l1-1v-2l-1-1-1 1v2zM68 68l1-1v-2l-1-1-1 1v2zM70 56l1-1v-2l-1-1-1 1v2zM70 74l1-1v-2l-1-1-1 1v2zM74 68l1-1v-2l-1-1-1 1v2zM80 74l1-1v-2l-1-1-1 1v2zM80 80l1-1v-2l-1-1-1 1v2zM82 62l1-1v-2l-1-1-1 1v2zM86 62l1-1v-2l-1-1-1 1v2zM88 62l1-1v-2l-1-1-1 1v2zM90 68l1-1v-2l-1-1-1 1v2zM102 74l1-1v-2l-1-1-1 1v2zM65 89l1-1v-2l-1-1-1 1v2zM71 71l1-1v-2l-1-1-1 1v2zM73 59l1-1v-2l-1-1-1 1v2zM75 53l1-1v-2l-1-1-1 1v2zM87 71l1-1v-2l-1-1-1 1v2zM87 77l1-1v-2l-1-1-1 1v2zM93 113l1-1v-2l-1-1-1 1v2z"/>
<path id="h27" d="M64 80l1-1v-2l-1-1-1 1v2zM68 80l1-1v-2l-1-1-1 1v2zM70 68l1-1v-2l-1-1-1 1v2zM80 68l1-1v-2l-1-1-1 1v2zM69 71l1-1v-2l-1-1-1 1v2zM71 65l1-1v-2l-1-1-1 1v2zM75 83l1-1v-2l-1-1-1 1v2zM81 71l1-1v-2l-1-1-1 1v2zM83 71l1-1v-2l-1-1-1 1v2zM93 71l1-1v-2l-1-1-1 1v2zM105 83l1-1v-2l-1-1-1 1v2zM123 89l1-1v-2l-1-1-1 1v2z"/>
<path id="h28" d="M52 74l1-1v-2l-1-1-1 1v2zM72 68l1-1v-2l-1-1-1 1v2zM72 74l1-1v-2l-1-1-1 1v2zM75 59l1-1v-2l-1-1-1 1v2zM75 77l1-1v-2l-1-1-1 1v2zM79 59l1-1v-2l-1-1-1 1v2zM85 71l1-1v-2l-1-1-1 1v2z"/>
<path id="h30" d="M72 62l1-1v-2l-1-1-1 1v2zM76 56l1-1v-2l-1-1-1 1v2zM63 83l1-1v-2l-1-1-1 1v2zM71 89l1-1v-2l-1-1-1 1v2zM75 65l1-1v-2l-1-1-1 1v2z"/>
<path id="h31" d="M70 80l1-1v-2l-1-1-1 1v2zM76 80l1-1v-2l-1-1-1 1v2zM65 95l1-1v-2l-1-1-1 1v2zM77 65l1-1v-2l-1-1-1 1v2zM81 77l1-1v-2l-1-1-1 1v2z"/>
<path id="h32" d="M68 92l1-1v-2l-1-1-1 1v2zM70 62l1-1v-2l-1-1-1 1v2zM70 92l1-1v-2l-1-1-1 1v2zM74 80l1-1v-2l-1-1-1 1v2zM78 62l1-1v-2l-1-1-1 1v2zM67 83l1-1v-2l-1-1-1 1v2zM75 71l1-1v-2l-1-1-1 1v2zM81 65l1-1v-2l-1-1-1 1v2zM83 83l1-1v-2l-1-1-1 1v2z"/>
<path id="h34" d="M74 62l1-1v-2l-1-1-1 1v2zM79 77l1-1v-2l-1-1-1 1v2z"/>
<path id="h35" d="M74 74l1-1v-2l-1-1-1 1v2zM73 71l1-1v-2l-1-1-1 1v2z"/>
<path id="h36" d="M76 62l1-1v-2l-1-1-1 1v2zM69 89l1-1v-2l-1-1-1 1v2zM71 83l1-1v-2l-1-1-1 1v2zM77 71l1-1v-2l-1-1-1 1v2zM77 77l1-1v-2l-1-1-1 1v2zM77 83l1-1v-2l-1-1-1 1v2z"/>
<path id="h38" d="M66 74l1-1v-2l-1-1-1 1v2zM76 74l1-1v-2l-1-1-1 1v2zM79 71l1-1v-2l-1-1-1 1v2z"/>
<path id="h39" d="M62 74l1-1v-2l-1-1-1 1v2zM78 56l1-1v-2l-1-1-1 1v2zM67 89l1-1v-2l-1-1-1 1v2z"/>
</defs>
<g transform="translate(99.3,347.0) scale(1.6000,-1.0167)" stroke-width="0.8" stroke-linejoin="round"><use href="#h0" fill="#440154" stroke="#440154"/><use href="#h1" fill="#460a5d" stroke="#460a5d"/><use href="#h3" fill="#481c6e" stroke="#481c6e"/><use href="#h4" fill="#482576" stroke="#482576"/><use href="#h5" fill="#472d7b" stroke="#472d7b"/><use href="#h7" fill="#433d84" stroke="#433d84"/><use href="#h8" fill="#404588" stroke="#404588"/><use href="#h9" fill="#3d4d8a" stroke="#3d4d8a"/><use href="#h11" fill="#375b8d" stroke="#375b8d"/><use href="#h12" fill="#34618d" stroke="#34618d"/><use href="#h13" fill="#31688e" stroke="#31688e"/><use href="#h15" fill="#2b748e" stroke="#2b748e"/><use href="#h16" fill="#297b8e" stroke="#297b8e"/><use href="#h17" fill="#26818e" stroke="#26818e"/><use href="#h19" fill="#228d8d" stroke="#228d8d"/><use href="#h20" fill="#20938c" stroke="#20938c"/><use href="#h22" fill="#1fa088" stroke="#1fa088"/><use href="#h23" fill="#21a585" stroke="#21a585"/><use href="#h24" fill="#25ac82" stroke="#25ac82"/><use href="#h26" fill="#35b779" stroke="#35b779"/><use href="#h27" fill="#40bd72" stroke="#40bd72"/><use href="#h28" fill="#4cc26c" stroke="#4cc26c"/><use href="#h30" fill="#67cc5c" stroke="#67cc5c"/><use href="#h31" fill="#77d153" stroke="#77d153"/><use href="#h32" fill="#89d548" stroke="#89d548"/><use href="#h34" fill="#aadc32" stroke="#aadc32"/><use href="#h35" fill="#bade28" stroke="#bade28"/><use href="#h36" fill="#cde11d" stroke="#cde11d"/><use href="#h38" fill="#efe51c" stroke="#efe51c"/><use href="#h39" fill="#fde725" stroke="#fde725"/></g>
<g transform="translate(99.3,347.0) scale(1.6000,-1.0167)"><use href="#h0" fill="#440154"/><use href="#h1" fill="#460a5d"/><use href="#h3" fill="#481c6e"/><use href="#h4" fill="#482576"/><use href="#h5" fill="#472d7b"/><use href="#h7" fill="#433d84"/><use href="#h8" fill="#404588"/><use href="#h9" fill="#3d4d8a"/><use href="#h11" fill="#375b8d"/><use href="#h12" fill="#34618d"/><use href="#h13" fill="#31688e"/><use href="#h15" fill="#2b748e"/><use href="#h16" fill="#297b8e"/><use href="#h17" fill="#26818e"/><use href="#h19" fill="#228d8d"/><use href="#h20" fill="#20938c"/><use href="#h22" fill="#1fa088"/><use href="#h23" fill="#21a585"/><use href="#h24" fill="#25ac82"/><use href="#h26" fill="#35b779"/><use href="#h27" fill="#40bd72"/><use href="#h28" fill="#4cc26c"/><use href="#h30" fill="#67cc5c"/><use href="#h31" fill="#77d153"/><use href="#h32" fill="#89d548"/><use href="#h34" fill="#aadc32"/><use href="#h35" fill="#bade28"/><use href="#h36" fill="#cde11d"/><use href="#h38" fill="#efe51c"/><use href="#h39" fill="#fde725"/></g>
<line x1="83.6" y1="233" x2="418.1" y2="233" stroke="#ff0000" stroke-width="2.0" />
</g>
<rect x="83.6" y="10.7" width="334.5" height="334.5" fill="none" stroke="#000" stroke-width="1.2"/>
<line x1="120.3" y1="345.2" x2="120.3" y2="350" stroke="#000" stroke-width="1.1" />
<text x="110.17" y="364.4" font-size="13.6" textLength="20.13" lengthAdjust="spacingAndGlyphs" >0.4</text>
<line x1="194.7" y1="345.2" x2="194.7" y2="350" stroke="#000" stroke-width="1.1" />
<text x="184.77" y="364.4" font-size="13.6" textLength="19.9" lengthAdjust="spacingAndGlyphs" >0.5</text>
<line x1="269.1" y1="345.2" x2="269.1" y2="350" stroke="#000" stroke-width="1.1" />
<text x="259.01" y="364.4" font-size="13.6" textLength="20.25" lengthAdjust="spacingAndGlyphs" >0.6</text>
<line x1="343.5" y1="345.2" x2="343.5" y2="350" stroke="#000" stroke-width="1.1" />
<text x="333.56" y="364.4" font-size="13.6" textLength="20.02" lengthAdjust="spacingAndGlyphs" >0.7</text>
<line x1="417.9" y1="345.2" x2="417.9" y2="350" stroke="#000" stroke-width="1.1" />
<text x="407.85" y="364.4" font-size="13.6" textLength="20.18" lengthAdjust="spacingAndGlyphs" >0.8</text>
<line x1="78.8" y1="337.9" x2="83.6" y2="337.9" stroke="#000" stroke-width="1.1" />
<text x="45.8" y="342.65" font-size="13.6" textLength="28.41" lengthAdjust="spacingAndGlyphs" >9.75</text>
<line x1="78.8" y1="297.55" x2="83.6" y2="297.55" stroke="#000" stroke-width="1.1" />
<text x="37.43" y="302.3" font-size="13.6" textLength="36.72" lengthAdjust="spacingAndGlyphs" >10.00</text>
<line x1="78.8" y1="257.2" x2="83.6" y2="257.2" stroke="#000" stroke-width="1.1" />
<text x="37.7" y="261.95" font-size="13.6" textLength="36.49" lengthAdjust="spacingAndGlyphs" >10.25</text>
<line x1="78.8" y1="216.85" x2="83.6" y2="216.85" stroke="#000" stroke-width="1.1" />
<text x="37.43" y="221.6" font-size="13.6" textLength="36.72" lengthAdjust="spacingAndGlyphs" >10.50</text>
<line x1="78.8" y1="176.5" x2="83.6" y2="176.5" stroke="#000" stroke-width="1.1" />
<text x="37.7" y="181.25" font-size="13.6" textLength="36.49" lengthAdjust="spacingAndGlyphs" >10.75</text>
<line x1="78.8" y1="136.15" x2="83.6" y2="136.15" stroke="#000" stroke-width="1.1" />
<text x="37.39" y="140.9" font-size="13.6" textLength="36.79" lengthAdjust="spacingAndGlyphs" >11.00</text>
<line x1="78.8" y1="95.8" x2="83.6" y2="95.8" stroke="#000" stroke-width="1.1" />
<text x="37.66" y="100.55" font-size="13.6" textLength="36.55" lengthAdjust="spacingAndGlyphs" >11.25</text>
<line x1="78.8" y1="55.45" x2="83.6" y2="55.45" stroke="#000" stroke-width="1.1" />
<text x="37.39" y="60.2" font-size="13.6" textLength="36.79" lengthAdjust="spacingAndGlyphs" >11.50</text>
<line x1="78.8" y1="15.1" x2="83.6" y2="15.1" stroke="#000" stroke-width="1.1" />
<text x="37.66" y="19.85" font-size="13.6" textLength="36.55" lengthAdjust="spacingAndGlyphs" >11.75</text>
<clipPath id="c2"><rect x="504.1" y="10.7" width="334.9" height="334.5"/></clipPath>
<g clip-path="url(#c2)">
<line x1="587.7" y1="345.2" x2="587.7" y2="10.7" stroke="#1f77b4" stroke-width="2.0" stroke-dasharray="6.9 3.3" stroke-dashoffset="5.7"/>
<line x1="597.2" y1="345.2" x2="597.2" y2="10.7" stroke="#ff7f0e" stroke-width="2.0" stroke-dasharray="6.9 3.3" stroke-dashoffset="5.7"/>
<line x1="600.9" y1="345.2" x2="600.9" y2="10.7" stroke="#2ca02c" stroke-width="2.0" stroke-dasharray="6.9 3.3" stroke-dashoffset="5.7"/>
<line x1="605" y1="345.2" x2="605" y2="10.7" stroke="#d62728" stroke-width="2.0" stroke-dasharray="6.9 3.3" stroke-dashoffset="5.7"/>
<line x1="626.9" y1="345.2" x2="626.9" y2="10.7" stroke="#9467bd" stroke-width="2.0" stroke-dasharray="6.9 3.3" stroke-dashoffset="5.7"/>
<polyline points="518.75,76.8 569.75,130.5 620.75,177.5 671.75,195.2 722.75,234.7 773.75,266.5 824.75,317.5" fill="none" stroke="#1f77b4" stroke-width="2.0" stroke-linejoin="round" stroke-linecap="square"/>
<polyline points="518.75,80.5 569.75,129.3 620.75,173.6 671.75,183.4 722.75,229.5 773.75,264.8 824.75,306.5" fill="none" stroke="#ff7f0e" stroke-width="2.0" stroke-linejoin="round" stroke-linecap="square"/>
<polyline points="518.75,82.7 569.75,128.3 620.75,167 671.75,179.1 722.75,227.2 773.75,259.8 824.75,309.1" fill="none" stroke="#2ca02c" stroke-width="2.0" stroke-linejoin="round" stroke-linecap="square"/>
<polyline points="518.75,87.7 569.75,124.9 620.75,166.1 671.75,171.8 722.75,214.7 773.75,252.9 824.75,315.1" fill="none" stroke="#d62728" stroke-width="2.0" stroke-linejoin="round" stroke-linecap="square"/>
<polyline points="518.75,97 569.75,127.3 620.75,162.4 671.75,156 722.75,193.9 773.75,223.4 824.75,269.2" fill="none" stroke="#9467bd" stroke-width="2.0" stroke-linejoin="round" stroke-linecap="square"/>
</g>
<rect x="504.1" y="10.7" width="334.9" height="334.5" fill="none" stroke="#000" stroke-width="1.2"/>
<line x1="506" y1="345.2" x2="506" y2="350" stroke="#000" stroke-width="1.1" />
<text x="495.93" y="364.4" font-size="13.6" textLength="20.14" lengthAdjust="spacingAndGlyphs" >0.0</text>
<line x1="557" y1="345.2" x2="557" y2="350" stroke="#000" stroke-width="1.1" />
<text x="547.15" y="364.4" font-size="13.6" textLength="19.85" lengthAdjust="spacingAndGlyphs" >0.2</text>
<line x1="608" y1="345.2" x2="608" y2="350" stroke="#000" stroke-width="1.1" />
<text x="597.87" y="364.4" font-size="13.6" textLength="20.13" lengthAdjust="spacingAndGlyphs" >0.4</text>
<line x1="659" y1="345.2" x2="659" y2="350" stroke="#000" stroke-width="1.1" />
<text x="648.91" y="364.4" font-size="13.6" textLength="20.25" lengthAdjust="spacingAndGlyphs" >0.6</text>
<line x1="710" y1="345.2" x2="710" y2="350" stroke="#000" stroke-width="1.1" />
<text x="699.95" y="364.4" font-size="13.6" textLength="20.18" lengthAdjust="spacingAndGlyphs" >0.8</text>
<line x1="761" y1="345.2" x2="761" y2="350" stroke="#000" stroke-width="1.1" />
<text x="750.68" y="364.4" font-size="13.6" textLength="20.09" lengthAdjust="spacingAndGlyphs" >1.0</text>
<line x1="812" y1="345.2" x2="812" y2="350" stroke="#000" stroke-width="1.1" />
<text x="801.91" y="364.4" font-size="13.6" textLength="19.79" lengthAdjust="spacingAndGlyphs" >1.2</text>
<line x1="499.3" y1="47.6" x2="504.1" y2="47.6" stroke="#000" stroke-width="1.1" />
<line x1="499.3" y1="171.7" x2="504.1" y2="171.7" stroke="#000" stroke-width="1.1" />
<line x1="501.3" y1="134.34" x2="504.1" y2="134.34" stroke="#000" stroke-width="0.85" />
<line x1="501.3" y1="112.49" x2="504.1" y2="112.49" stroke="#000" stroke-width="0.85" />
<line x1="501.3" y1="96.98" x2="504.1" y2="96.98" stroke="#000" stroke-width="0.85" />
<line x1="501.3" y1="84.96" x2="504.1" y2="84.96" stroke="#000" stroke-width="0.85" />
<line x1="501.3" y1="75.13" x2="504.1" y2="75.13" stroke="#000" stroke-width="0.85" />
<line x1="501.3" y1="66.82" x2="504.1" y2="66.82" stroke="#000" stroke-width="0.85" />
<line x1="501.3" y1="59.63" x2="504.1" y2="59.63" stroke="#000" stroke-width="0.85" />
<line x1="501.3" y1="53.28" x2="504.1" y2="53.28" stroke="#000" stroke-width="0.85" />
<line x1="499.3" y1="295.8" x2="504.1" y2="295.8" stroke="#000" stroke-width="1.1" />
<line x1="501.3" y1="258.44" x2="504.1" y2="258.44" stroke="#000" stroke-width="0.85" />
<line x1="501.3" y1="236.59" x2="504.1" y2="236.59" stroke="#000" stroke-width="0.85" />
<line x1="501.3" y1="221.08" x2="504.1" y2="221.08" stroke="#000" stroke-width="0.85" />
<line x1="501.3" y1="209.06" x2="504.1" y2="209.06" stroke="#000" stroke-width="0.85" />
<line x1="501.3" y1="199.23" x2="504.1" y2="199.23" stroke="#000" stroke-width="0.85" />
<line x1="501.3" y1="190.92" x2="504.1" y2="190.92" stroke="#000" stroke-width="0.85" />
<line x1="501.3" y1="183.73" x2="504.1" y2="183.73" stroke="#000" stroke-width="0.85" />
<line x1="501.3" y1="177.38" x2="504.1" y2="177.38" stroke="#000" stroke-width="0.85" />
<line x1="501.3" y1="345.18" x2="504.1" y2="345.18" stroke="#000" stroke-width="0.85" />
<line x1="501.3" y1="333.16" x2="504.1" y2="333.16" stroke="#000" stroke-width="0.85" />
<line x1="501.3" y1="323.33" x2="504.1" y2="323.33" stroke="#000" stroke-width="0.85" />
<line x1="501.3" y1="315.02" x2="504.1" y2="315.02" stroke="#000" stroke-width="0.85" />
<line x1="501.3" y1="307.83" x2="504.1" y2="307.83" stroke="#000" stroke-width="0.85" />
<line x1="501.3" y1="301.48" x2="504.1" y2="301.48" stroke="#000" stroke-width="0.85" />
<text x="473.03" y="53.2" font-size="13.6" textLength="21.86" lengthAdjust="spacingAndGlyphs" >10<tspan font-size="9.52" dy="-4.8">0</tspan></text>
<text x="465.54" y="177.3" font-size="13.6" textLength="29.47" lengthAdjust="spacingAndGlyphs" >10<tspan font-size="9.52" dy="-4.8">−1</tspan></text>
<text x="465.61" y="301.4" font-size="13.6" textLength="29.4" lengthAdjust="spacingAndGlyphs" >10<tspan font-size="9.52" dy="-4.8">−2</tspan></text>
<rect x="688.7" y="18.3" width="143.4" height="112.4" rx="2.8" fill="#fff" fill-opacity="0.8" stroke="#d6d6d6" stroke-width="1"/>
<line x1="693.9" y1="29.8" x2="724.9" y2="29.8" stroke="#1f77b4" stroke-width="2.0" />
<text x="736.54" y="34.8" font-size="15.1" textLength="88.4" lengthAdjust="spacingAndGlyphs" >0.8&lt; <tspan font-style="italic">n</tspan> &lt;2.6</text>
<line x1="693.9" y1="51.45" x2="724.9" y2="51.45" stroke="#ff7f0e" stroke-width="2.0" />
<text x="736.33" y="56.45" font-size="15.1" textLength="88.51" lengthAdjust="spacingAndGlyphs" >2.6&lt; <tspan font-style="italic">n</tspan> &lt;3.6</text>
<line x1="693.9" y1="73.1" x2="724.9" y2="73.1" stroke="#2ca02c" stroke-width="2.0" />
<text x="736.55" y="78.1" font-size="15.1" textLength="88.25" lengthAdjust="spacingAndGlyphs" >3.6&lt; <tspan font-style="italic">n</tspan> &lt;4.6</text>
<line x1="693.9" y1="94.75" x2="724.9" y2="94.75" stroke="#d62728" stroke-width="2.0" />
<text x="736.81" y="99.75" font-size="15.1" textLength="88.39" lengthAdjust="spacingAndGlyphs" >4.6&lt; <tspan font-style="italic">n</tspan> &lt;5.6</text>
<line x1="693.9" y1="116.4" x2="724.9" y2="116.4" stroke="#9467bd" stroke-width="2.0" />
<text x="736.5" y="121.4" font-size="15.1" textLength="74.32" lengthAdjust="spacingAndGlyphs" >5.6&lt; <tspan font-style="italic">n</tspan> &lt;8</text>
<clipPath id="c3"><rect x="925.7" y="10.7" width="334.5" height="334.5"/></clipPath>
<g clip-path="url(#c3)">
<polyline points="939.55,65.7 991.7,70.6 1041.7,125.5 1093,154.7 1143.5,193.5 1194.6,239.1 1245.2,299.7" fill="none" stroke="#1f77b4" stroke-width="2.0" stroke-linejoin="round" stroke-linecap="square"/>
<polyline points="939.55,47.1 991.7,68.5 1041.7,99.7 1093,150.9 1143.5,185.7 1194.6,238 1245.2,299.3" fill="none" stroke="#ff7f0e" stroke-width="2.0" stroke-linejoin="round" stroke-linecap="square"/>
<polyline points="939.55,32.4 991.7,61.6 1041.7,100.7 1093,145.8 1143.5,183.5 1194.6,245.8 1245.2,301.7" fill="none" stroke="#2ca02c" stroke-width="2.0" stroke-linejoin="round" stroke-linecap="square"/>
<polyline points="939.55,44.2 991.7,48 1041.7,102.7 1093,145.8 1143.5,186.8 1194.6,248 1245.2,313.2" fill="none" stroke="#d62728" stroke-width="2.0" stroke-linejoin="round" stroke-linecap="square"/>
<polyline points="939.55,25.8 991.7,34.5 1041.7,83.8 1093,121.2 1143.5,176 1194.6,231.3 1245.2,329.4" fill="none" stroke="#9467bd" stroke-width="2.0" stroke-linejoin="round" stroke-linecap="square"/>
</g>
<rect x="925.7" y="10.7" width="334.5" height="334.5" fill="none" stroke="#000" stroke-width="1.2"/>
<line x1="920.9" y1="17" x2="925.7" y2="17" stroke="#000" stroke-width="1.1" />
<line x1="920.9" y1="123.8" x2="925.7" y2="123.8" stroke="#000" stroke-width="1.1" />
<line x1="922.9" y1="91.65" x2="925.7" y2="91.65" stroke="#000" stroke-width="0.85" />
<line x1="922.9" y1="72.84" x2="925.7" y2="72.84" stroke="#000" stroke-width="0.85" />
<line x1="922.9" y1="59.5" x2="925.7" y2="59.5" stroke="#000" stroke-width="0.85" />
<line x1="922.9" y1="49.15" x2="925.7" y2="49.15" stroke="#000" stroke-width="0.85" />
<line x1="922.9" y1="40.69" x2="925.7" y2="40.69" stroke="#000" stroke-width="0.85" />
<line x1="922.9" y1="33.54" x2="925.7" y2="33.54" stroke="#000" stroke-width="0.85" />
<line x1="922.9" y1="27.35" x2="925.7" y2="27.35" stroke="#000" stroke-width="0.85" />
<line x1="922.9" y1="21.89" x2="925.7" y2="21.89" stroke="#000" stroke-width="0.85" />
<line x1="920.9" y1="230.6" x2="925.7" y2="230.6" stroke="#000" stroke-width="1.1" />
<line x1="922.9" y1="198.45" x2="925.7" y2="198.45" stroke="#000" stroke-width="0.85" />
<line x1="922.9" y1="179.64" x2="925.7" y2="179.64" stroke="#000" stroke-width="0.85" />
<line x1="922.9" y1="166.3" x2="925.7" y2="166.3" stroke="#000" stroke-width="0.85" />
<line x1="922.9" y1="155.95" x2="925.7" y2="155.95" stroke="#000" stroke-width="0.85" />
<line x1="922.9" y1="147.49" x2="925.7" y2="147.49" stroke="#000" stroke-width="0.85" />
<line x1="922.9" y1="140.34" x2="925.7" y2="140.34" stroke="#000" stroke-width="0.85" />
<line x1="922.9" y1="134.15" x2="925.7" y2="134.15" stroke="#000" stroke-width="0.85" />
<line x1="922.9" y1="128.69" x2="925.7" y2="128.69" stroke="#000" stroke-width="0.85" />
<line x1="920.9" y1="337.4" x2="925.7" y2="337.4" stroke="#000" stroke-width="1.1" />
<line x1="922.9" y1="305.25" x2="925.7" y2="305.25" stroke="#000" stroke-width="0.85" />
<line x1="922.9" y1="286.44" x2="925.7" y2="286.44" stroke="#000" stroke-width="0.85" />
<line x1="922.9" y1="273.1" x2="925.7" y2="273.1" stroke="#000" stroke-width="0.85" />
<line x1="922.9" y1="262.75" x2="925.7" y2="262.75" stroke="#000" stroke-width="0.85" />
<line x1="922.9" y1="254.29" x2="925.7" y2="254.29" stroke="#000" stroke-width="0.85" />
<line x1="922.9" y1="247.14" x2="925.7" y2="247.14" stroke="#000" stroke-width="0.85" />
<line x1="922.9" y1="240.95" x2="925.7" y2="240.95" stroke="#000" stroke-width="0.85" />
<line x1="922.9" y1="235.49" x2="925.7" y2="235.49" stroke="#000" stroke-width="0.85" />
<line x1="922.9" y1="342.29" x2="925.7" y2="342.29" stroke="#000" stroke-width="0.85" />
<text x="894.13" y="22.6" font-size="13.6" textLength="21.86" lengthAdjust="spacingAndGlyphs" >10<tspan font-size="9.52" dy="-4.8">0</tspan></text>
<text x="886.64" y="129.4" font-size="13.6" textLength="29.47" lengthAdjust="spacingAndGlyphs" >10<tspan font-size="9.52" dy="-4.8">−1</tspan></text>
<text x="886.71" y="236.2" font-size="13.6" textLength="29.4" lengthAdjust="spacingAndGlyphs" >10<tspan font-size="9.52" dy="-4.8">−2</tspan></text>
<text x="886.53" y="343" font-size="13.6" textLength="29.54" lengthAdjust="spacingAndGlyphs" >10<tspan font-size="9.52" dy="-4.8">−3</tspan></text>
<line x1="959.21" y1="345.2" x2="959.21" y2="348" stroke="#000" stroke-width="0.85" />
<line x1="997.21" y1="345.2" x2="997.21" y2="348" stroke="#000" stroke-width="0.85" />
<line x1="1029.35" y1="345.2" x2="1029.35" y2="348" stroke="#000" stroke-width="0.85" />
<line x1="1057.18" y1="345.2" x2="1057.18" y2="348" stroke="#000" stroke-width="0.85" />
<line x1="1081.74" y1="345.2" x2="1081.74" y2="348" stroke="#000" stroke-width="0.85" />
<line x1="1103.7" y1="345.2" x2="1103.7" y2="350" stroke="#000" stroke-width="1.1" />
<line x1="1248.19" y1="345.2" x2="1248.19" y2="348" stroke="#000" stroke-width="0.85" />
<text x="970.29" y="362.6" font-size="13.6" textLength="7.89" lengthAdjust="spacingAndGlyphs" >6</text>
<text x="981.85" y="362.6" font-size="13.6" textLength="9.63" lengthAdjust="spacingAndGlyphs" >×</text>
<text x="994.22" y="362.6" font-size="13.6" textLength="15.97" lengthAdjust="spacingAndGlyphs" >10</text>
<text x="1011.44" y="357.8" font-size="9.52" textLength="12.76" lengthAdjust="spacingAndGlyphs" >−1</text>
<text x="1225.34" y="362.6" font-size="13.6" textLength="7.38" lengthAdjust="spacingAndGlyphs" >2</text>
<text x="1236.55" y="362.6" font-size="13.6" textLength="9.63" lengthAdjust="spacingAndGlyphs" >×</text>
<text x="1249.22" y="362.6" font-size="13.6" textLength="15.97" lengthAdjust="spacingAndGlyphs" >10</text>
<text x="1266.04" y="357.8" font-size="9.52" textLength="5.35" lengthAdjust="spacingAndGlyphs" >0</text>
<text x="1092.42" y="364.6" font-size="13.6" textLength="21.86" lengthAdjust="spacingAndGlyphs" >10<tspan font-size="9.52" dy="-4.6">0</tspan></text>
<text x="242" y="382.6" font-size="18.9" textLength="17.74" lengthAdjust="spacingAndGlyphs" ><tspan font-style="italic">z</tspan><tspan font-style="italic" font-size="13.23" dy="3.2">p</tspan></text>
<text x="650.52" y="386.8" font-size="18.9" textLength="42.94" lengthAdjust="spacingAndGlyphs" >log <tspan font-style="italic">λ</tspan></text>
<text x="1050.29" y="387.8" font-size="18.9" textLength="87.22" lengthAdjust="spacingAndGlyphs" ><tspan font-style="italic">R</tspan> [Mpc/h]</text>
<text x="-1.44" y="0" font-size="18.9" textLength="124.1" lengthAdjust="spacingAndGlyphs" transform="translate(27,248.5) rotate(-90)">log (<tspan font-style="italic">h</tspan><tspan font-size="13.23" dy="-7">2</tspan><tspan font-style="italic" dy="7">L</tspan><tspan font-size="13.23" dy="3.4">mem</tspan><tspan dy="-3.4">/</tspan><tspan font-style="italic">L</tspan></text>
<circle cx="26.1" cy="121.3" r="3.3" fill="none" stroke="#000" stroke-width="0.95"/>
<circle cx="26.1" cy="121.3" r="0.85" fill="#000"/>
<text x="-0.18" y="0" font-size="18.9" textLength="7.79" lengthAdjust="spacingAndGlyphs" transform="translate(27,114.9) rotate(-90)">)</text>
<text x="-1.27" y="0" font-size="18.9" textLength="140.03" lengthAdjust="spacingAndGlyphs" transform="translate(456.4,247) rotate(-90)">normalized PDF</text>
<text x="-0.37" y="0" font-size="18.9" textLength="122.45" lengthAdjust="spacingAndGlyphs" transform="translate(876.1,238.1) rotate(-90)"><tspan font-style="italic">n</tspan><tspan font-size="13.23" dy="3.4">sat</tspan><tspan dy="-3.4"> [h</tspan><tspan font-size="13.23" dy="-7">2</tspan><tspan dy="7">/Mpc</tspan><tspan font-size="13.23" dy="-7">2</tspan><tspan dy="7">]</tspan></text>
</svg></body></html>
